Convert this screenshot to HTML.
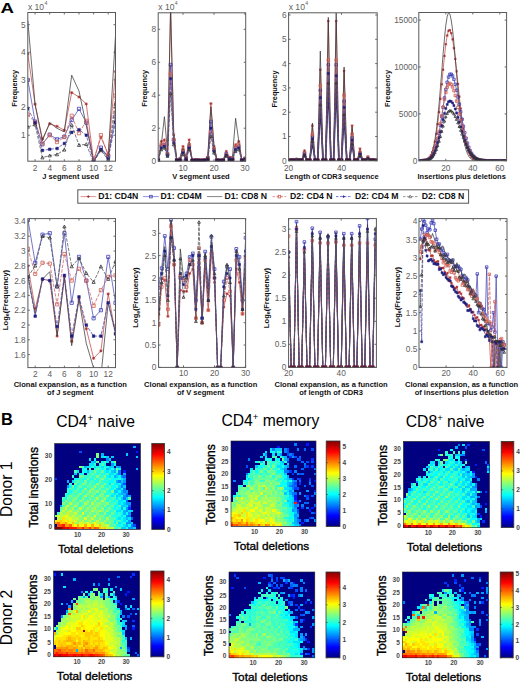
<!DOCTYPE html>
<html><head><meta charset="utf-8"><style>html,body{margin:0;padding:0;background:#fff;width:520px;height:683px;overflow:hidden}svg{display:block;font-family:"Liberation Sans",sans-serif}</style></head><body>
<svg width="520" height="683" viewBox="0 0 520 683">
<text transform="translate(0.6 12.9) scale(1.13 0.93)" font-size="16.5" font-weight="bold" fill="#000">A</text>
<clipPath id="c1"><rect x="27.8" y="12" width="87.7" height="149.2"/></clipPath>
<g clip-path="url(#c1)">
<polyline points="27.8,53.9 35.1,104.2 42.4,138.8 49.7,123.8 57,126.3 64.3,130.2 71.7,92.6 79,97 86.3,104 93.6,160.6 100.9,137.1 108.2,154 115.5,71.6" fill="none" stroke="#c04848" stroke-width="0.75"/>
<path d="M26.2 53.9h3.2M27.8 52.3v3.2M26.7 52.8l2.2 2.2M26.7 55.1l2.2 -2.2M33.5 104.2h3.2M35.1 102.6v3.2M34 103.1l2.2 2.2M34 105.3l2.2 -2.2M40.8 138.8h3.2M42.4 137.2v3.2M41.3 137.6l2.2 2.2M41.3 139.9l2.2 -2.2M48.1 123.8h3.2M49.7 122.2v3.2M48.6 122.7l2.2 2.2M48.6 125l2.2 -2.2M55.4 126.3h3.2M57 124.7v3.2M55.9 125.2l2.2 2.2M55.9 127.5l2.2 -2.2M62.7 130.2h3.2M64.3 128.6v3.2M63.2 129.1l2.2 2.2M63.2 131.3l2.2 -2.2M70.1 92.6h3.2M71.7 91v3.2M70.5 91.5l2.2 2.2M70.5 93.7l2.2 -2.2M77.4 97h3.2M79 95.4v3.2M77.8 95.9l2.2 2.2M77.8 98.2l2.2 -2.2M84.7 104h3.2M86.3 102.4v3.2M85.1 102.8l2.2 2.2M85.1 105.1l2.2 -2.2M92 160.6h3.2M93.6 159v3.2M92.5 159.5l2.2 2.2M92.5 161.7l2.2 -2.2M99.3 137.1h3.2M100.9 135.5v3.2M99.8 136l2.2 2.2M99.8 138.2l2.2 -2.2M106.6 154h3.2M108.2 152.4v3.2M107.1 152.8l2.2 2.2M107.1 155.1l2.2 -2.2M113.9 71.6h3.2M115.5 70v3.2M114.4 70.5l2.2 2.2M114.4 72.7l2.2 -2.2" fill="none" stroke="#b03030" stroke-width="0.8"/>
<polyline points="27.8,79.9 35.1,121.6 42.4,144.3 49.7,134.6 57,139.3 64.3,136.6 71.7,120 79,108.9 86.3,122.7 93.6,161.4 100.9,147.6 108.2,156.7 115.5,116.4" fill="none" stroke="#4848b8" stroke-width="0.75"/>
<path d="M26.2 78.3h3.2v3.2h-3.2zM33.5 120h3.2v3.2h-3.2zM40.8 142.7h3.2v3.2h-3.2zM48.1 133h3.2v3.2h-3.2zM55.4 137.7h3.2v3.2h-3.2zM62.7 135h3.2v3.2h-3.2zM70.1 118.4h3.2v3.2h-3.2zM77.4 107.3h3.2v3.2h-3.2zM84.7 121.1h3.2v3.2h-3.2zM92 159.8h3.2v3.2h-3.2zM99.3 146h3.2v3.2h-3.2zM106.6 155.1h3.2v3.2h-3.2zM113.9 114.8h3.2v3.2h-3.2z" fill="none" stroke="#4040b8" stroke-width="0.8"/>
<polyline points="27.8,20.5 35.1,104.8 42.4,140.7 49.7,122.7 57,128.3 64.3,131.9 71.7,75.2 79,91 86.3,125.5 93.6,161.4 100.9,149 108.2,156.7 115.5,35.7" fill="none" stroke="#3a3a3a" stroke-width="0.75"/>
<polyline points="27.8,114.5 35.1,122.7 42.4,143.5 49.7,135.2 57,142.1 64.3,137.1 71.7,115.8 79,133.2 86.3,120.8 93.6,161.1 100.9,135.2 108.2,155.3 115.5,95.7" fill="none" stroke="#c86060" stroke-width="0.75" stroke-dasharray="3.5,1.3"/>
<path d="M26.2 112.9h3.2v3.2h-3.2zM33.5 121.1h3.2v3.2h-3.2zM40.8 141.9h3.2v3.2h-3.2zM48.1 133.6h3.2v3.2h-3.2zM55.4 140.5h3.2v3.2h-3.2zM62.7 135.5h3.2v3.2h-3.2zM70.1 114.2h3.2v3.2h-3.2zM77.4 131.6h3.2v3.2h-3.2zM84.7 119.2h3.2v3.2h-3.2zM92 159.5h3.2v3.2h-3.2zM99.3 133.6h3.2v3.2h-3.2zM106.6 153.7h3.2v3.2h-3.2zM113.9 94.1h3.2v3.2h-3.2z" fill="none" stroke="#d06050" stroke-width="0.8"/>
<polyline points="27.8,108.4 35.1,122.7 42.4,150.4 49.7,149.3 57,148.4 64.3,143.5 71.7,132.4 79,129.6 86.3,135.2 93.6,161.7 100.9,149.5 108.2,158.7 115.5,122.2" fill="none" stroke="#4a4aa8" stroke-width="0.75" stroke-dasharray="3.5,1.3"/>
<path d="M26.5 107.1h2.6v2.6h-2.6zM33.8 121.5h2.6v2.6h-2.6zM41.1 149.1h2.6v2.6h-2.6zM48.4 148h2.6v2.6h-2.6zM55.8 147.2h2.6v2.6h-2.6zM63.1 142.2h2.6v2.6h-2.6zM70.4 131.1h2.6v2.6h-2.6zM77.7 128.4h2.6v2.6h-2.6zM85 133.9h2.6v2.6h-2.6zM92.3 160.4h2.6v2.6h-2.6zM99.6 148.3h2.6v2.6h-2.6zM106.9 157.4h2.6v2.6h-2.6zM114.2 120.9h2.6v2.6h-2.6z" fill="#202080" stroke="#202080" stroke-width="0.5"/>
<polyline points="27.8,126.9 35.1,124.7 42.4,157.6 49.7,155.6 57,154.5 64.3,149.8 71.7,125 79,145.1 86.3,144.3 93.6,162.2 100.9,150.4 108.2,160 115.5,104" fill="none" stroke="#505050" stroke-width="0.75" stroke-dasharray="3.5,1.3"/>
<path d="M27.8 125.3l1.6 2.9h-3.2zM35.1 123.1l1.6 2.9h-3.2zM42.4 156l1.6 2.9h-3.2zM49.7 154l1.6 2.9h-3.2zM57 152.9l1.6 2.9h-3.2zM64.3 148.2l1.6 2.9h-3.2zM71.7 123.4l1.6 2.9h-3.2zM79 143.5l1.6 2.9h-3.2zM86.3 142.7l1.6 2.9h-3.2zM100.9 148.8l1.6 2.9h-3.2zM108.2 158.4l1.6 2.9h-3.2zM115.5 102.4l1.6 2.9h-3.2z" fill="none" stroke="#333" stroke-width="0.8"/>
</g>
<path d="M35.1 161.2v-2.0M35.1 12.5v2.0M49.7 161.2v-2.0M49.7 12.5v2.0M64.3 161.2v-2.0M64.3 12.5v2.0M79 161.2v-2.0M79 12.5v2.0M93.6 161.2v-2.0M93.6 12.5v2.0M108.2 161.2v-2.0M108.2 12.5v2.0M27.8 135.2h2.0M115.5 135.2h-2.0M27.8 107.5h2.0M115.5 107.5h-2.0M27.8 79.9h2.0M115.5 79.9h-2.0M27.8 52.3h2.0M115.5 52.3h-2.0M27.8 24.7h2.0M115.5 24.7h-2.0" stroke="#5a5a5a" stroke-width="0.9" fill="none"/>
<rect x="27.8" y="12.5" width="87.7" height="148.7" fill="none" stroke="#5a5a5a" stroke-width="1"/>
<text x="35.1" y="171.1" font-size="8.3" text-anchor="middle" fill="#606060">2</text>
<text x="49.7" y="171.1" font-size="8.3" text-anchor="middle" fill="#606060">4</text>
<text x="64.3" y="171.1" font-size="8.3" text-anchor="middle" fill="#606060">6</text>
<text x="79" y="171.1" font-size="8.3" text-anchor="middle" fill="#606060">8</text>
<text x="93.6" y="171.1" font-size="8.3" text-anchor="middle" fill="#606060">10</text>
<text x="108.2" y="171.1" font-size="8.3" text-anchor="middle" fill="#606060">12</text>
<text x="25.6" y="138.1" font-size="8.3" text-anchor="end" fill="#606060">1</text>
<text x="25.6" y="110.4" font-size="8.3" text-anchor="end" fill="#606060">2</text>
<text x="25.6" y="82.8" font-size="8.3" text-anchor="end" fill="#606060">3</text>
<text x="25.6" y="55.2" font-size="8.3" text-anchor="end" fill="#606060">4</text>
<text x="25.6" y="27.6" font-size="8.3" text-anchor="end" fill="#606060">5</text>
<text x="27.9" y="10.4" font-size="8.6" fill="#606060">x 10</text>
<text x="44.4" y="5.3" font-size="5.2" fill="#606060">4</text>
<text x="16.9" y="88.3" font-size="7.3" text-anchor="middle" font-weight="bold" fill="#111" transform="rotate(-90 16.9 88.3)">Frequency</text>
<text x="70.7" y="179.2" font-size="7.5" text-anchor="middle" font-weight="bold" fill="#111">J segment used</text>
<clipPath id="c2"><rect x="158.2" y="12.3" width="87.5" height="148.9"/></clipPath>
<g clip-path="url(#c2)">
<polyline points="158.2,159.6 161.3,141.4 164.4,139.8 167.5,153 170.6,7.9 173.7,134.8 176.8,159.6 179.9,158.7 183,146.4 186.1,157.1 189.2,139.8 192.3,160.4 195.4,159.6 198.5,159.9 201.6,160.4 204.7,159.6 207.8,157.1 210.9,103.5 214,146.4 217,159.6 220.1,160.4 223.2,159.6 226.3,151.3 229.4,157.1 232.5,157.9 235.6,144.7 238.7,141.4 241.8,159.6 244.9,157.9" fill="none" stroke="#c04848" stroke-width="0.75"/>
<path d="M156.8 159.6h2.8M158.2 158.2v2.8M157.2 158.6l2 2M157.2 160.5l2 -2M159.9 141.4h2.8M161.3 140v2.8M160.3 140.4l2 2M160.3 142.4l2 -2M163 139.8h2.8M164.4 138.4v2.8M163.4 138.8l2 2M163.4 140.7l2 -2M166.1 153h2.8M167.5 151.6v2.8M166.5 152l2 2M166.5 153.9l2 -2M172.3 134.8h2.8M173.7 133.4v2.8M172.7 133.8l2 2M172.7 135.8l2 -2M175.4 159.6h2.8M176.8 158.2v2.8M175.8 158.6l2 2M175.8 160.5l2 -2M178.5 158.7h2.8M179.9 157.3v2.8M178.9 157.7l2 2M178.9 159.7l2 -2M181.6 146.4h2.8M183 145v2.8M182 145.4l2 2M182 147.3l2 -2M184.7 157.1h2.8M186.1 155.7v2.8M185.1 156.1l2 2M185.1 158.1l2 -2M187.8 139.8h2.8M189.2 138.4v2.8M188.2 138.8l2 2M188.2 140.7l2 -2M190.9 160.4h2.8M192.3 159v2.8M191.3 159.4l2 2M191.3 161.4l2 -2M194 159.6h2.8M195.4 158.2v2.8M194.4 158.6l2 2M194.4 160.5l2 -2M197.1 159.9h2.8M198.5 158.5v2.8M197.5 158.9l2 2M197.5 160.9l2 -2M200.2 160.4h2.8M201.6 159v2.8M200.6 159.4l2 2M200.6 161.4l2 -2M203.3 159.6h2.8M204.7 158.2v2.8M203.7 158.6l2 2M203.7 160.5l2 -2M206.4 157.1h2.8M207.8 155.7v2.8M206.8 156.1l2 2M206.8 158.1l2 -2M209.5 103.5h2.8M210.9 102.1v2.8M209.9 102.5l2 2M209.9 104.5l2 -2M212.6 146.4h2.8M214 145v2.8M213 145.4l2 2M213 147.3l2 -2M215.6 159.6h2.8M217 158.2v2.8M216.1 158.6l2 2M216.1 160.5l2 -2M218.7 160.4h2.8M220.1 159v2.8M219.2 159.4l2 2M219.2 161.4l2 -2M221.8 159.6h2.8M223.2 158.2v2.8M222.3 158.6l2 2M222.3 160.5l2 -2M224.9 151.3h2.8M226.3 149.9v2.8M225.4 150.3l2 2M225.4 152.3l2 -2M228 157.1h2.8M229.4 155.7v2.8M228.5 156.1l2 2M228.5 158.1l2 -2M231.1 157.9h2.8M232.5 156.5v2.8M231.6 156.9l2 2M231.6 158.9l2 -2M234.2 144.7h2.8M235.6 143.3v2.8M234.7 143.7l2 2M234.7 145.7l2 -2M237.3 141.4h2.8M238.7 140v2.8M237.8 140.4l2 2M237.8 142.4l2 -2M240.4 159.6h2.8M241.8 158.2v2.8M240.8 158.6l2 2M240.8 160.5l2 -2M243.5 157.9h2.8M244.9 156.5v2.8M243.9 156.9l2 2M243.9 158.9l2 -2" fill="none" stroke="#b03030" stroke-width="0.8"/>
<polyline points="158.2,159.9 161.3,146.4 164.4,144.7 167.5,154.6 170.6,64.7 173.7,139.8 176.8,159.9 179.9,159.6 183,151.3 186.1,157.9 189.2,146.4 192.3,160.4 195.4,159.9 198.5,160.2 201.6,160.4 204.7,159.9 207.8,157.9 210.9,121.6 214,149.7 217,159.9 220.1,160.4 223.2,159.9 226.3,153.8 229.4,157.9 232.5,158.7 235.6,148 238.7,146.4 241.8,159.9 244.9,158.7" fill="none" stroke="#4848b8" stroke-width="0.75"/>
<path d="M156.8 158.5h2.8v2.8h-2.8zM159.9 145h2.8v2.8h-2.8zM163 143.3h2.8v2.8h-2.8zM166.1 153.2h2.8v2.8h-2.8zM169.2 63.3h2.8v2.8h-2.8zM172.3 138.4h2.8v2.8h-2.8zM175.4 158.5h2.8v2.8h-2.8zM178.5 158.2h2.8v2.8h-2.8zM181.6 149.9h2.8v2.8h-2.8zM184.7 156.5h2.8v2.8h-2.8zM187.8 145h2.8v2.8h-2.8zM190.9 159h2.8v2.8h-2.8zM194 158.5h2.8v2.8h-2.8zM197.1 158.8h2.8v2.8h-2.8zM200.2 159h2.8v2.8h-2.8zM203.3 158.5h2.8v2.8h-2.8zM206.4 156.5h2.8v2.8h-2.8zM209.5 120.2h2.8v2.8h-2.8zM212.6 148.3h2.8v2.8h-2.8zM215.6 158.5h2.8v2.8h-2.8zM218.7 159h2.8v2.8h-2.8zM221.8 158.5h2.8v2.8h-2.8zM224.9 152.4h2.8v2.8h-2.8zM228 156.5h2.8v2.8h-2.8zM231.1 157.3h2.8v2.8h-2.8zM234.2 146.6h2.8v2.8h-2.8zM237.3 145h2.8v2.8h-2.8zM240.4 158.5h2.8v2.8h-2.8zM243.5 157.3h2.8v2.8h-2.8z" fill="none" stroke="#4040b8" stroke-width="0.8"/>
<polyline points="158.2,160.4 161.3,144.7 164.4,116.7 167.5,151.3 170.6,7.9 173.7,131.5 176.8,159.6 179.9,157.9 183,148 186.1,157.9 189.2,142.2 192.3,160.4 195.4,159.6 198.5,159.6 201.6,160.4 204.7,159.6 207.8,156.3 210.9,106.8 214,145.5 217,159.6 220.1,160.4 223.2,159.6 226.3,153 229.4,157.9 232.5,156.3 235.6,118.3 238.7,140.6 241.8,159.6 244.9,157.9" fill="none" stroke="#3a3a3a" stroke-width="0.75"/>
<polyline points="158.2,159.9 161.3,144.7 164.4,143.1 167.5,153.8 170.6,73.8 173.7,139.8 176.8,159.9 179.9,159.6 183,149.7 186.1,157.9 189.2,144.7 192.3,160.4 195.4,159.9 198.5,160.2 201.6,160.4 204.7,159.9 207.8,157.9 210.9,131.5 214,148.8 217,159.9 220.1,160.4 223.2,159.9 226.3,154.6 229.4,157.9 232.5,158.7 235.6,146.4 238.7,144.7 241.8,159.9 244.9,158.7" fill="none" stroke="#c86060" stroke-width="0.75" stroke-dasharray="3.5,1.3"/>
<path d="M156.8 158.5h2.8v2.8h-2.8zM159.9 143.3h2.8v2.8h-2.8zM163 141.7h2.8v2.8h-2.8zM166.1 152.4h2.8v2.8h-2.8zM169.2 72.4h2.8v2.8h-2.8zM172.3 138.4h2.8v2.8h-2.8zM175.4 158.5h2.8v2.8h-2.8zM178.5 158.2h2.8v2.8h-2.8zM181.6 148.3h2.8v2.8h-2.8zM184.7 156.5h2.8v2.8h-2.8zM187.8 143.3h2.8v2.8h-2.8zM190.9 159h2.8v2.8h-2.8zM194 158.5h2.8v2.8h-2.8zM197.1 158.8h2.8v2.8h-2.8zM200.2 159h2.8v2.8h-2.8zM203.3 158.5h2.8v2.8h-2.8zM206.4 156.5h2.8v2.8h-2.8zM209.5 130.1h2.8v2.8h-2.8zM212.6 147.4h2.8v2.8h-2.8zM215.6 158.5h2.8v2.8h-2.8zM218.7 159h2.8v2.8h-2.8zM221.8 158.5h2.8v2.8h-2.8zM224.9 153.2h2.8v2.8h-2.8zM228 156.5h2.8v2.8h-2.8zM231.1 157.3h2.8v2.8h-2.8zM234.2 145h2.8v2.8h-2.8zM237.3 143.3h2.8v2.8h-2.8zM240.4 158.5h2.8v2.8h-2.8zM243.5 157.3h2.8v2.8h-2.8z" fill="none" stroke="#d06050" stroke-width="0.8"/>
<polyline points="158.2,160.2 161.3,148 164.4,146.4 167.5,155.4 170.6,78.8 173.7,143.1 176.8,160.2 179.9,159.9 183,153 186.1,158.7 189.2,148 192.3,160.5 195.4,160.2 198.5,160.4 201.6,160.5 204.7,160.2 207.8,158.7 210.9,128.2 214,151.3 217,160.2 220.1,160.5 223.2,160.2 226.3,155.4 229.4,158.7 232.5,159.2 235.6,149.7 238.7,148 241.8,160.2 244.9,159.2" fill="none" stroke="#4a4aa8" stroke-width="0.75" stroke-dasharray="3.5,1.3"/>
<path d="M157.1 159.1h2.2v2.2h-2.2zM160.2 146.9h2.2v2.2h-2.2zM163.3 145.2h2.2v2.2h-2.2zM166.4 154.3h2.2v2.2h-2.2zM169.5 77.6h2.2v2.2h-2.2zM172.6 141.9h2.2v2.2h-2.2zM175.7 159.1h2.2v2.2h-2.2zM178.8 158.8h2.2v2.2h-2.2zM181.9 151.8h2.2v2.2h-2.2zM185 157.6h2.2v2.2h-2.2zM188.1 146.9h2.2v2.2h-2.2zM191.2 159.4h2.2v2.2h-2.2zM194.2 159.1h2.2v2.2h-2.2zM197.3 159.3h2.2v2.2h-2.2zM200.4 159.4h2.2v2.2h-2.2zM203.5 159.1h2.2v2.2h-2.2zM206.6 157.6h2.2v2.2h-2.2zM209.7 127.1h2.2v2.2h-2.2zM212.8 150.2h2.2v2.2h-2.2zM215.9 159.1h2.2v2.2h-2.2zM219 159.4h2.2v2.2h-2.2zM222.1 159.1h2.2v2.2h-2.2zM225.2 154.3h2.2v2.2h-2.2zM228.3 157.6h2.2v2.2h-2.2zM231.4 158.1h2.2v2.2h-2.2zM234.5 148.5h2.2v2.2h-2.2zM237.6 146.9h2.2v2.2h-2.2zM240.7 159.1h2.2v2.2h-2.2zM243.8 158.1h2.2v2.2h-2.2z" fill="#202080" stroke="#202080" stroke-width="0.5"/>
<polyline points="158.2,160.4 161.3,149.7 164.4,148 167.5,156.3 170.6,93.6 173.7,144.7 176.8,160.4 179.9,160 183,154.6 186.1,159.2 189.2,149.7 192.3,160.7 195.4,160.4 198.5,160.5 201.6,160.7 204.7,160.4 207.8,159.2 210.9,136.5 214,153 217,160.4 220.1,160.7 223.2,160.4 226.3,156.3 229.4,159.2 232.5,159.6 235.6,151.3 238.7,149.7 241.8,160.4 244.9,159.6" fill="none" stroke="#505050" stroke-width="0.75" stroke-dasharray="3.5,1.3"/>
<path d="M158.2 159l1.4 2.5h-2.8zM161.3 148.3l1.4 2.5h-2.8zM164.4 146.6l1.4 2.5h-2.8zM167.5 154.9l1.4 2.5h-2.8zM170.6 92.2l1.4 2.5h-2.8zM173.7 143.3l1.4 2.5h-2.8zM176.8 159l1.4 2.5h-2.8zM179.9 158.6l1.4 2.5h-2.8zM183 153.2l1.4 2.5h-2.8zM186.1 157.8l1.4 2.5h-2.8zM189.2 148.3l1.4 2.5h-2.8zM192.3 159.3l1.4 2.5h-2.8zM195.4 159l1.4 2.5h-2.8zM198.5 159.1l1.4 2.5h-2.8zM201.6 159.3l1.4 2.5h-2.8zM204.7 159l1.4 2.5h-2.8zM207.8 157.8l1.4 2.5h-2.8zM210.9 135.1l1.4 2.5h-2.8zM214 151.6l1.4 2.5h-2.8zM217 159l1.4 2.5h-2.8zM220.1 159.3l1.4 2.5h-2.8zM223.2 159l1.4 2.5h-2.8zM226.3 154.9l1.4 2.5h-2.8zM229.4 157.8l1.4 2.5h-2.8zM232.5 158.2l1.4 2.5h-2.8zM235.6 149.9l1.4 2.5h-2.8zM238.7 148.3l1.4 2.5h-2.8zM241.8 159l1.4 2.5h-2.8zM244.9 158.2l1.4 2.5h-2.8z" fill="none" stroke="#333" stroke-width="0.8"/>
<path d="M156.5 158.8h3.4v2.8h-3.4zM175.1 158.8h3.4v2.8h-3.4zM178.2 158.8h3.4v2.8h-3.4zM184.4 158.8h3.4v2.8h-3.4zM190.6 158.8h3.4v2.8h-3.4zM193.7 158.8h3.4v2.8h-3.4zM196.8 158.8h3.4v2.8h-3.4zM199.9 158.8h3.4v2.8h-3.4zM203 158.8h3.4v2.8h-3.4zM206.1 158.8h3.4v2.8h-3.4zM215.3 158.8h3.4v2.8h-3.4zM218.4 158.8h3.4v2.8h-3.4zM221.5 158.8h3.4v2.8h-3.4zM227.7 158.8h3.4v2.8h-3.4zM230.8 158.8h3.4v2.8h-3.4zM240.1 158.8h3.4v2.8h-3.4zM243.2 158.8h3.4v2.8h-3.4z" fill="#2a1840"/>
</g>
<path d="M183 161.2v-2.0M183 12.8v2.0M214 161.2v-2.0M214 12.8v2.0M244.9 161.2v-2.0M244.9 12.8v2.0M158.2 161.2h2.0M245.7 161.2h-2.0M158.2 128.2h2.0M245.7 128.2h-2.0M158.2 95.2h2.0M245.7 95.2h-2.0M158.2 62.3h2.0M245.7 62.3h-2.0M158.2 29.3h2.0M245.7 29.3h-2.0" stroke="#5a5a5a" stroke-width="0.9" fill="none"/>
<rect x="158.2" y="12.8" width="87.5" height="148.4" fill="none" stroke="#5a5a5a" stroke-width="1"/>
<text x="183" y="171.1" font-size="8.3" text-anchor="middle" fill="#606060">10</text>
<text x="214" y="171.1" font-size="8.3" text-anchor="middle" fill="#606060">20</text>
<text x="244.9" y="171.1" font-size="8.3" text-anchor="middle" fill="#606060">30</text>
<text x="156" y="164.1" font-size="8.3" text-anchor="end" fill="#606060">0</text>
<text x="156" y="131.1" font-size="8.3" text-anchor="end" fill="#606060">2</text>
<text x="156" y="98.1" font-size="8.3" text-anchor="end" fill="#606060">4</text>
<text x="156" y="65.2" font-size="8.3" text-anchor="end" fill="#606060">6</text>
<text x="156" y="32.2" font-size="8.3" text-anchor="end" fill="#606060">8</text>
<text x="158.3" y="10.4" font-size="8.6" fill="#606060">x 10</text>
<text x="174.8" y="5.3" font-size="5.2" fill="#606060">4</text>
<text x="146.6" y="88.3" font-size="7.3" text-anchor="middle" font-weight="bold" fill="#111" transform="rotate(-90 146.6 88.3)">Frequency</text>
<text x="200.9" y="179.2" font-size="7.5" text-anchor="middle" font-weight="bold" fill="#111">V segment used</text>
<clipPath id="c3"><rect x="288.6" y="12.3" width="88.6" height="148.5"/></clipPath>
<g clip-path="url(#c3)">
<polyline points="288.6,160.1 291.2,160.1 293.9,160.1 296.5,159.8 299.2,160.1 301.8,160.1 304.5,155.5 307.1,160.1 309.8,160.1 312.4,141.4 315,160.1 317.7,160.1 320.3,104.9 323,160.1 325.6,160.1 328.3,83 330.9,160.1 333.6,160.1 336.2,83 338.9,160.1 341.5,160.1 344.1,114.6 346.8,160.1 349.4,160.1 352.1,143.8 354.7,160.1 357.4,160.1 360,155.5 362.7,160.1 365.3,160.1 367.9,159.1 370.6,160.1 373.2,160.1 375.9,160.3" fill="none" stroke="#2c2068" stroke-width="1.7"/>
<polyline points="288.6,160.3 291.2,160.1 293.9,160.1 296.5,159.1 299.2,160.1 301.8,160.1 304.5,150.6 307.1,160.1 309.8,160.1 312.4,125.6 315,160.1 317.7,160.1 320.3,69.7 323,160.1 325.6,160.1 328.3,21.1 330.9,160.1 333.6,160.1 336.2,21.1 338.9,160.1 341.5,160.1 344.1,70.9 346.8,160.1 349.4,160.1 352.1,125.6 354.7,160.1 357.4,160.1 360,148.6 362.7,160.1 365.3,160.1 367.9,156.4 370.6,160.1 373.2,160.1 375.9,159.6" fill="none" stroke="#c04848" stroke-width="0.75"/>
<path d="M287.3 160.3h2.6M288.6 159v2.6M287.7 159.4l1.8 1.8M287.7 161.2l1.8 -1.8M289.9 160.1h2.6M291.2 158.8v2.6M290.3 159.2l1.8 1.8M290.3 161l1.8 -1.8M292.6 160.1h2.6M293.9 158.8v2.6M293 159.2l1.8 1.8M293 161l1.8 -1.8M295.2 159.1h2.6M296.5 157.8v2.6M295.6 158.2l1.8 1.8M295.6 160l1.8 -1.8M297.9 160.1h2.6M299.2 158.8v2.6M298.3 159.2l1.8 1.8M298.3 161l1.8 -1.8M300.5 160.1h2.6M301.8 158.8v2.6M300.9 159.2l1.8 1.8M300.9 161l1.8 -1.8M303.2 150.6h2.6M304.5 149.3v2.6M303.6 149.7l1.8 1.8M303.6 151.5l1.8 -1.8M305.8 160.1h2.6M307.1 158.8v2.6M306.2 159.2l1.8 1.8M306.2 161l1.8 -1.8M308.5 160.1h2.6M309.8 158.8v2.6M308.8 159.2l1.8 1.8M308.8 161l1.8 -1.8M311.1 125.6h2.6M312.4 124.3v2.6M311.5 124.7l1.8 1.8M311.5 126.5l1.8 -1.8M313.7 160.1h2.6M315 158.8v2.6M314.1 159.2l1.8 1.8M314.1 161l1.8 -1.8M316.4 160.1h2.6M317.7 158.8v2.6M316.8 159.2l1.8 1.8M316.8 161l1.8 -1.8M319 69.7h2.6M320.3 68.4v2.6M319.4 68.8l1.8 1.8M319.4 70.6l1.8 -1.8M321.7 160.1h2.6M323 158.8v2.6M322.1 159.2l1.8 1.8M322.1 161l1.8 -1.8M324.3 160.1h2.6M325.6 158.8v2.6M324.7 159.2l1.8 1.8M324.7 161l1.8 -1.8M327 21.1h2.6M328.3 19.8v2.6M327.4 20.2l1.8 1.8M327.4 22l1.8 -1.8M329.6 160.1h2.6M330.9 158.8v2.6M330 159.2l1.8 1.8M330 161l1.8 -1.8M332.3 160.1h2.6M333.6 158.8v2.6M332.7 159.2l1.8 1.8M332.7 161l1.8 -1.8M334.9 21.1h2.6M336.2 19.8v2.6M335.3 20.2l1.8 1.8M335.3 22l1.8 -1.8M337.6 160.1h2.6M338.9 158.8v2.6M337.9 159.2l1.8 1.8M337.9 161l1.8 -1.8M340.2 160.1h2.6M341.5 158.8v2.6M340.6 159.2l1.8 1.8M340.6 161l1.8 -1.8M342.8 70.9h2.6M344.1 69.6v2.6M343.2 70l1.8 1.8M343.2 71.8l1.8 -1.8M345.5 160.1h2.6M346.8 158.8v2.6M345.9 159.2l1.8 1.8M345.9 161l1.8 -1.8M348.1 160.1h2.6M349.4 158.8v2.6M348.5 159.2l1.8 1.8M348.5 161l1.8 -1.8M350.8 125.6h2.6M352.1 124.3v2.6M351.2 124.7l1.8 1.8M351.2 126.5l1.8 -1.8M353.4 160.1h2.6M354.7 158.8v2.6M353.8 159.2l1.8 1.8M353.8 161l1.8 -1.8M356.1 160.1h2.6M357.4 158.8v2.6M356.5 159.2l1.8 1.8M356.5 161l1.8 -1.8M358.7 148.6h2.6M360 147.3v2.6M359.1 147.7l1.8 1.8M359.1 149.6l1.8 -1.8M361.4 160.1h2.6M362.7 158.8v2.6M361.7 159.2l1.8 1.8M361.7 161l1.8 -1.8M364 160.1h2.6M365.3 158.8v2.6M364.4 159.2l1.8 1.8M364.4 161l1.8 -1.8M366.6 156.4h2.6M367.9 155.1v2.6M367 155.5l1.8 1.8M367 157.3l1.8 -1.8M369.3 160.1h2.6M370.6 158.8v2.6M369.7 159.2l1.8 1.8M369.7 161l1.8 -1.8M371.9 160.1h2.6M373.2 158.8v2.6M372.3 159.2l1.8 1.8M372.3 161l1.8 -1.8M374.6 159.6h2.6M375.9 158.3v2.6M375 158.7l1.8 1.8M375 160.5l1.8 -1.8" fill="none" stroke="#b03030" stroke-width="0.8"/>
<polyline points="288.6,160.6 291.2,160.1 293.9,160.1 296.5,159.6 299.2,160.1 301.8,160.1 304.5,153.5 307.1,160.1 309.8,160.1 312.4,136.5 315,160.1 317.7,160.1 320.3,90.3 323,160.1 325.6,160.1 328.3,64.8 330.9,160.1 333.6,160.1 336.2,64.8 338.9,160.1 341.5,160.1 344.1,101.3 346.8,160.1 349.4,160.1 352.1,137.7 354.7,160.1 357.4,160.1 360,153.5 362.7,160.1 365.3,160.1 367.9,158.4 370.6,160.1 373.2,160.1 375.9,160.1" fill="none" stroke="#4848b8" stroke-width="0.75"/>
<path d="M287.3 159.3h2.6v2.6h-2.6zM289.9 158.8h2.6v2.6h-2.6zM292.6 158.8h2.6v2.6h-2.6zM295.2 158.3h2.6v2.6h-2.6zM297.9 158.8h2.6v2.6h-2.6zM300.5 158.8h2.6v2.6h-2.6zM303.2 152.2h2.6v2.6h-2.6zM305.8 158.8h2.6v2.6h-2.6zM308.5 158.8h2.6v2.6h-2.6zM311.1 135.2h2.6v2.6h-2.6zM313.7 158.8h2.6v2.6h-2.6zM316.4 158.8h2.6v2.6h-2.6zM319 89h2.6v2.6h-2.6zM321.7 158.8h2.6v2.6h-2.6zM324.3 158.8h2.6v2.6h-2.6zM327 63.5h2.6v2.6h-2.6zM329.6 158.8h2.6v2.6h-2.6zM332.3 158.8h2.6v2.6h-2.6zM334.9 63.5h2.6v2.6h-2.6zM337.6 158.8h2.6v2.6h-2.6zM340.2 158.8h2.6v2.6h-2.6zM342.8 100h2.6v2.6h-2.6zM345.5 158.8h2.6v2.6h-2.6zM348.1 158.8h2.6v2.6h-2.6zM350.8 136.4h2.6v2.6h-2.6zM353.4 158.8h2.6v2.6h-2.6zM356.1 158.8h2.6v2.6h-2.6zM358.7 152.2h2.6v2.6h-2.6zM361.4 158.8h2.6v2.6h-2.6zM364 158.8h2.6v2.6h-2.6zM366.6 157.1h2.6v2.6h-2.6zM369.3 158.8h2.6v2.6h-2.6zM371.9 158.8h2.6v2.6h-2.6zM374.6 158.8h2.6v2.6h-2.6z" fill="none" stroke="#4040b8" stroke-width="0.8"/>
<polyline points="288.6,160.3 291.2,160.1 293.9,160.1 296.5,158.9 299.2,160.1 301.8,160.1 304.5,149.9 307.1,160.1 309.8,160.1 312.4,123.1 315,160.1 317.7,160.1 320.3,51 323,160.1 325.6,160.1 328.3,17.4 330.9,160.1 333.6,160.1 336.2,13 338.9,160.1 341.5,160.1 344.1,67 346.8,160.1 349.4,160.1 352.1,126.8 354.7,160.1 357.4,160.1 360,149.9 362.7,160.1 365.3,160.1 367.9,157.2 370.6,160.1 373.2,160.1 375.9,159.6" fill="none" stroke="#3a3a3a" stroke-width="0.75"/>
<polyline points="288.6,160.6 291.2,160.1 293.9,160.1 296.5,159.6 299.2,160.1 301.8,160.1 304.5,152.3 307.1,160.1 309.8,160.1 312.4,134.1 315,160.1 317.7,160.1 320.3,85.5 323,160.1 325.6,160.1 328.3,59.9 330.9,160.1 333.6,160.1 336.2,59.9 338.9,160.1 341.5,160.1 344.1,95.2 346.8,160.1 349.4,160.1 352.1,134.1 354.7,160.1 357.4,160.1 360,152.3 362.7,160.1 365.3,160.1 367.9,157.9 370.6,160.1 373.2,160.1 375.9,159.8" fill="none" stroke="#c86060" stroke-width="0.75" stroke-dasharray="3.5,1.3"/>
<path d="M287.3 159.3h2.6v2.6h-2.6zM289.9 158.8h2.6v2.6h-2.6zM292.6 158.8h2.6v2.6h-2.6zM295.2 158.3h2.6v2.6h-2.6zM297.9 158.8h2.6v2.6h-2.6zM300.5 158.8h2.6v2.6h-2.6zM303.2 151h2.6v2.6h-2.6zM305.8 158.8h2.6v2.6h-2.6zM308.5 158.8h2.6v2.6h-2.6zM311.1 132.8h2.6v2.6h-2.6zM313.7 158.8h2.6v2.6h-2.6zM316.4 158.8h2.6v2.6h-2.6zM319 84.2h2.6v2.6h-2.6zM321.7 158.8h2.6v2.6h-2.6zM324.3 158.8h2.6v2.6h-2.6zM327 58.6h2.6v2.6h-2.6zM329.6 158.8h2.6v2.6h-2.6zM332.3 158.8h2.6v2.6h-2.6zM334.9 58.6h2.6v2.6h-2.6zM337.6 158.8h2.6v2.6h-2.6zM340.2 158.8h2.6v2.6h-2.6zM342.8 93.9h2.6v2.6h-2.6zM345.5 158.8h2.6v2.6h-2.6zM348.1 158.8h2.6v2.6h-2.6zM350.8 132.8h2.6v2.6h-2.6zM353.4 158.8h2.6v2.6h-2.6zM356.1 158.8h2.6v2.6h-2.6zM358.7 151h2.6v2.6h-2.6zM361.4 158.8h2.6v2.6h-2.6zM364 158.8h2.6v2.6h-2.6zM366.6 156.6h2.6v2.6h-2.6zM369.3 158.8h2.6v2.6h-2.6zM371.9 158.8h2.6v2.6h-2.6zM374.6 158.5h2.6v2.6h-2.6z" fill="none" stroke="#d06050" stroke-width="0.8"/>
<polyline points="288.6,160.6 291.2,160.1 293.9,160.1 296.5,159.8 299.2,160.1 301.8,160.1 304.5,154.7 307.1,160.1 309.8,160.1 312.4,138.9 315,160.1 317.7,160.1 320.3,97.6 323,160.1 325.6,160.1 328.3,73.3 330.9,160.1 333.6,160.1 336.2,75.7 338.9,160.1 341.5,160.1 344.1,107.3 346.8,160.1 349.4,160.1 352.1,140.1 354.7,160.1 357.4,160.1 360,154 362.7,160.1 365.3,160.1 367.9,158.6 370.6,160.1 373.2,160.1 375.9,160.1" fill="none" stroke="#4a4aa8" stroke-width="0.75" stroke-dasharray="3.5,1.3"/>
<path d="M287.6 159.5h2.1v2.1h-2.1zM290.2 159h2.1v2.1h-2.1zM292.8 159h2.1v2.1h-2.1zM295.5 158.8h2.1v2.1h-2.1zM298.1 159h2.1v2.1h-2.1zM300.8 159h2.1v2.1h-2.1zM303.4 153.7h2.1v2.1h-2.1zM306.1 159h2.1v2.1h-2.1zM308.7 159h2.1v2.1h-2.1zM311.4 137.9h2.1v2.1h-2.1zM314 159h2.1v2.1h-2.1zM316.7 159h2.1v2.1h-2.1zM319.3 96.6h2.1v2.1h-2.1zM321.9 159h2.1v2.1h-2.1zM324.6 159h2.1v2.1h-2.1zM327.2 72.3h2.1v2.1h-2.1zM329.9 159h2.1v2.1h-2.1zM332.5 159h2.1v2.1h-2.1zM335.2 74.7h2.1v2.1h-2.1zM337.8 159h2.1v2.1h-2.1zM340.5 159h2.1v2.1h-2.1zM343.1 106.3h2.1v2.1h-2.1zM345.7 159h2.1v2.1h-2.1zM348.4 159h2.1v2.1h-2.1zM351 139.1h2.1v2.1h-2.1zM353.7 159h2.1v2.1h-2.1zM356.3 159h2.1v2.1h-2.1zM359 153h2.1v2.1h-2.1zM361.6 159h2.1v2.1h-2.1zM364.3 159h2.1v2.1h-2.1zM366.9 157.6h2.1v2.1h-2.1zM369.5 159h2.1v2.1h-2.1zM372.2 159h2.1v2.1h-2.1zM374.8 159h2.1v2.1h-2.1z" fill="#202080" stroke="#202080" stroke-width="0.5"/>
<polyline points="288.6,160.6 291.2,160.1 293.9,160.1 296.5,159.8 299.2,160.1 301.8,160.1 304.5,155.5 307.1,160.1 309.8,160.1 312.4,141.4 315,160.1 317.7,160.1 320.3,104.9 323,160.1 325.6,160.1 328.3,83 330.9,160.1 333.6,160.1 336.2,83 338.9,160.1 341.5,160.1 344.1,114.6 346.8,160.1 349.4,160.1 352.1,143.8 354.7,160.1 357.4,160.1 360,155.5 362.7,160.1 365.3,160.1 367.9,159.1 370.6,160.1 373.2,160.1 375.9,160.3" fill="none" stroke="#505050" stroke-width="0.75" stroke-dasharray="3.5,1.3"/>
<path d="M288.6 159.3l1.3 2.3h-2.6zM291.2 158.8l1.3 2.3h-2.6zM293.9 158.8l1.3 2.3h-2.6zM296.5 158.5l1.3 2.3h-2.6zM299.2 158.8l1.3 2.3h-2.6zM301.8 158.8l1.3 2.3h-2.6zM304.5 154.2l1.3 2.3h-2.6zM307.1 158.8l1.3 2.3h-2.6zM309.8 158.8l1.3 2.3h-2.6zM312.4 140.1l1.3 2.3h-2.6zM315 158.8l1.3 2.3h-2.6zM317.7 158.8l1.3 2.3h-2.6zM320.3 103.6l1.3 2.3h-2.6zM323 158.8l1.3 2.3h-2.6zM325.6 158.8l1.3 2.3h-2.6zM328.3 81.7l1.3 2.3h-2.6zM330.9 158.8l1.3 2.3h-2.6zM333.6 158.8l1.3 2.3h-2.6zM336.2 81.7l1.3 2.3h-2.6zM338.9 158.8l1.3 2.3h-2.6zM341.5 158.8l1.3 2.3h-2.6zM344.1 113.3l1.3 2.3h-2.6zM346.8 158.8l1.3 2.3h-2.6zM349.4 158.8l1.3 2.3h-2.6zM352.1 142.5l1.3 2.3h-2.6zM354.7 158.8l1.3 2.3h-2.6zM357.4 158.8l1.3 2.3h-2.6zM360 154.2l1.3 2.3h-2.6zM362.7 158.8l1.3 2.3h-2.6zM365.3 158.8l1.3 2.3h-2.6zM367.9 157.8l1.3 2.3h-2.6zM370.6 158.8l1.3 2.3h-2.6zM373.2 158.8l1.3 2.3h-2.6zM375.9 159l1.3 2.3h-2.6z" fill="none" stroke="#333" stroke-width="0.8"/>
<path d="M286.9 158.6h3.4v2.8h-3.4zM289.5 158.6h3.4v2.8h-3.4zM292.2 158.6h3.4v2.8h-3.4zM297.5 158.6h3.4v2.8h-3.4zM300.1 158.6h3.4v2.8h-3.4zM305.4 158.6h3.4v2.8h-3.4zM308.1 158.6h3.4v2.8h-3.4zM313.3 158.6h3.4v2.8h-3.4zM316 158.6h3.4v2.8h-3.4zM321.3 158.6h3.4v2.8h-3.4zM323.9 158.6h3.4v2.8h-3.4zM329.2 158.6h3.4v2.8h-3.4zM331.9 158.6h3.4v2.8h-3.4zM337.2 158.6h3.4v2.8h-3.4zM339.8 158.6h3.4v2.8h-3.4zM345.1 158.6h3.4v2.8h-3.4zM347.7 158.6h3.4v2.8h-3.4zM353 158.6h3.4v2.8h-3.4zM355.7 158.6h3.4v2.8h-3.4zM361 158.6h3.4v2.8h-3.4zM363.6 158.6h3.4v2.8h-3.4zM368.9 158.6h3.4v2.8h-3.4zM371.5 158.6h3.4v2.8h-3.4z" fill="#3a1838"/>
</g>
<path d="M288.6 160.8v-2.0M288.6 12.8v2.0M341.5 160.8v-2.0M341.5 12.8v2.0M288.6 160.8h2.0M377.2 160.8h-2.0M288.6 136.5h2.0M377.2 136.5h-2.0M288.6 112.2h2.0M377.2 112.2h-2.0M288.6 87.9h2.0M377.2 87.9h-2.0M288.6 63.6h2.0M377.2 63.6h-2.0M288.6 39.3h2.0M377.2 39.3h-2.0M288.6 15h2.0M377.2 15h-2.0" stroke="#5a5a5a" stroke-width="0.9" fill="none"/>
<rect x="288.6" y="12.8" width="88.6" height="148" fill="none" stroke="#5a5a5a" stroke-width="1"/>
<text x="288.6" y="170.7" font-size="8.3" text-anchor="middle" fill="#606060">20</text>
<text x="341.5" y="170.7" font-size="8.3" text-anchor="middle" fill="#606060">40</text>
<text x="286.6" y="163.7" font-size="8.3" text-anchor="end" fill="#606060">0</text>
<text x="286.6" y="139.4" font-size="8.3" text-anchor="end" fill="#606060">1</text>
<text x="286.6" y="115.1" font-size="8.3" text-anchor="end" fill="#606060">2</text>
<text x="286.6" y="90.8" font-size="8.3" text-anchor="end" fill="#606060">3</text>
<text x="286.6" y="66.5" font-size="8.3" text-anchor="end" fill="#606060">4</text>
<text x="286.6" y="42.2" font-size="8.3" text-anchor="end" fill="#606060">5</text>
<text x="286.6" y="17.9" font-size="8.3" text-anchor="end" fill="#606060">6</text>
<text x="288.7" y="10.4" font-size="8.6" fill="#606060">x 10</text>
<text x="305.2" y="5.3" font-size="5.2" fill="#606060">4</text>
<text x="276.6" y="89" font-size="7.3" text-anchor="middle" font-weight="bold" fill="#111" transform="rotate(-90 276.6 89)">Frequency</text>
<text x="331.9" y="179.2" font-size="7.5" text-anchor="middle" font-weight="bold" fill="#111">Length of CDR3 sequence</text>
<clipPath id="c4"><rect x="418.8" y="12" width="87.8" height="148.8"/></clipPath>
<g clip-path="url(#c4)">
<polyline points="420.2,160.7 421.5,160.7 422.9,160.6 424.2,160.4 425.6,160.1 426.9,159.6 428.3,158.8 429.6,157.4 431,155.3 432.3,152.2 433.7,147.7 435,141.7 436.4,133.8 437.7,124 439.1,112.2 440.4,98.8 441.8,84.3 443.1,69.7 444.5,56 445.8,44.2 447.2,35.5 448.5,30.7 449.9,30.2 451.2,33.2 452.6,39.4 453.9,48.2 455.3,59.1 456.6,71.2 458,84 459.3,96.6 460.7,108.5 462,119.3 463.4,128.7 464.7,136.6 466.1,143.1 467.4,148.1 468.8,152 470.1,154.8 471.5,156.8 472.8,158.2 474.2,159.2 475.5,159.8 476.9,160.2 478.2,160.4 479.6,160.6 480.9,160.7 482.3,160.7 483.6,160.7 485,160.8 486.3,160.8 487.7,160.8 489,160.8 490.4,160.8 491.7,160.8 493.1,160.8 494.4,160.8 495.8,160.8 497.1,160.8 498.5,160.8 499.8,160.8 501.2,160.8 502.5,160.8 503.9,160.8 505.2,160.8" fill="none" stroke="#c04848" stroke-width="0.75"/>
<path d="M418.9 160.7h2.5M420.2 159.5v2.5M419.3 159.9l1.8 1.8M419.3 161.6l1.8 -1.8M420.3 160.7h2.5M421.5 159.4v2.5M420.6 159.8l1.8 1.8M420.6 161.6l1.8 -1.8M421.6 160.6h2.5M422.9 159.3v2.5M422 159.7l1.8 1.8M422 161.5l1.8 -1.8M423 160.4h2.5M424.2 159.2v2.5M423.3 159.5l1.8 1.8M423.3 161.3l1.8 -1.8M424.3 160.1h2.5M425.6 158.9v2.5M424.7 159.3l1.8 1.8M424.7 161l1.8 -1.8M425.7 159.6h2.5M426.9 158.4v2.5M426 158.7l1.8 1.8M426 160.5l1.8 -1.8M427 158.8h2.5M428.3 157.5v2.5M427.4 157.9l1.8 1.8M427.4 159.6l1.8 -1.8M428.4 157.4h2.5M429.6 156.1v2.5M428.7 156.5l1.8 1.8M428.7 158.3l1.8 -1.8M429.7 155.3h2.5M431 154v2.5M430.1 154.4l1.8 1.8M430.1 156.2l1.8 -1.8M431.1 152.2h2.5M432.3 150.9v2.5M431.4 151.3l1.8 1.8M431.4 153l1.8 -1.8M432.4 147.7h2.5M433.7 146.5v2.5M432.8 146.9l1.8 1.8M432.8 148.6l1.8 -1.8M433.8 141.7h2.5M435 140.5v2.5M434.1 140.8l1.8 1.8M434.1 142.6l1.8 -1.8M435.1 133.8h2.5M436.4 132.6v2.5M435.5 133l1.8 1.8M435.5 134.7l1.8 -1.8M436.5 124h2.5M437.7 122.7v2.5M436.8 123.1l1.8 1.8M436.8 124.8l1.8 -1.8M437.8 112.2h2.5M439.1 110.9v2.5M438.2 111.3l1.8 1.8M438.2 113l1.8 -1.8M439.2 98.8h2.5M440.4 97.5v2.5M439.5 97.9l1.8 1.8M439.5 99.6l1.8 -1.8M440.5 84.3h2.5M441.8 83.1v2.5M440.9 83.5l1.8 1.8M440.9 85.2l1.8 -1.8M441.9 69.7h2.5M443.1 68.5v2.5M442.2 68.9l1.8 1.8M442.2 70.6l1.8 -1.8M443.2 56h2.5M444.5 54.7v2.5M443.6 55.1l1.8 1.8M443.6 56.9l1.8 -1.8M444.6 44.2h2.5M445.8 43v2.5M444.9 43.4l1.8 1.8M444.9 45.1l1.8 -1.8M445.9 35.5h2.5M447.2 34.3v2.5M446.3 34.7l1.8 1.8M446.3 36.4l1.8 -1.8M447.3 30.7h2.5M448.5 29.5v2.5M447.6 29.9l1.8 1.8M447.6 31.6l1.8 -1.8M448.6 30.2h2.5M449.9 28.9v2.5M449 29.3l1.8 1.8M449 31.1l1.8 -1.8M450 33.2h2.5M451.2 32v2.5M450.3 32.3l1.8 1.8M450.3 34.1l1.8 -1.8M451.3 39.4h2.5M452.6 38.1v2.5M451.7 38.5l1.8 1.8M451.7 40.2l1.8 -1.8M452.7 48.2h2.5M453.9 46.9v2.5M453 47.3l1.8 1.8M453 49.1l1.8 -1.8M454 59.1h2.5M455.3 57.8v2.5M454.4 58.2l1.8 1.8M454.4 59.9l1.8 -1.8M455.4 71.2h2.5M456.6 70v2.5M455.7 70.3l1.8 1.8M455.7 72.1l1.8 -1.8M456.7 84h2.5M458 82.7v2.5M457.1 83.1l1.8 1.8M457.1 84.8l1.8 -1.8M458.1 96.6h2.5M459.3 95.3v2.5M458.4 95.7l1.8 1.8M458.4 97.5l1.8 -1.8M459.4 108.5h2.5M460.7 107.3v2.5M459.8 107.6l1.8 1.8M459.8 109.4l1.8 -1.8M460.8 119.3h2.5M462 118.1v2.5M461.1 118.4l1.8 1.8M461.1 120.2l1.8 -1.8M462.1 128.7h2.5M463.4 127.5v2.5M462.5 127.9l1.8 1.8M462.5 129.6l1.8 -1.8M463.5 136.6h2.5M464.7 135.4v2.5M463.9 135.8l1.8 1.8M463.9 137.5l1.8 -1.8M464.8 143.1h2.5M466.1 141.8v2.5M465.2 142.2l1.8 1.8M465.2 143.9l1.8 -1.8M466.2 148.1h2.5M467.4 146.9v2.5M466.6 147.2l1.8 1.8M466.6 149l1.8 -1.8M467.5 152h2.5M468.8 150.7v2.5M467.9 151.1l1.8 1.8M467.9 152.8l1.8 -1.8M468.9 154.8h2.5M470.1 153.5v2.5M469.3 153.9l1.8 1.8M469.3 155.7l1.8 -1.8M470.2 156.8h2.5M471.5 155.6v2.5M470.6 155.9l1.8 1.8M470.6 157.7l1.8 -1.8M471.6 158.2h2.5M472.8 157v2.5M472 157.3l1.8 1.8M472 159.1l1.8 -1.8M472.9 159.2h2.5M474.2 157.9v2.5M473.3 158.3l1.8 1.8M473.3 160l1.8 -1.8M474.3 159.8h2.5M475.5 158.5v2.5M474.7 158.9l1.8 1.8M474.7 160.7l1.8 -1.8M475.6 160.2h2.5M476.9 158.9v2.5M476 159.3l1.8 1.8M476 161.1l1.8 -1.8M477 160.4h2.5M478.2 159.2v2.5M477.4 159.6l1.8 1.8M477.4 161.3l1.8 -1.8M478.3 160.6h2.5M479.6 159.3v2.5M478.7 159.7l1.8 1.8M478.7 161.5l1.8 -1.8M479.7 160.7h2.5M480.9 159.4v2.5M480.1 159.8l1.8 1.8M480.1 161.5l1.8 -1.8M481 160.7h2.5M482.3 159.5v2.5M481.4 159.8l1.8 1.8M481.4 161.6l1.8 -1.8M482.4 160.7h2.5M483.6 159.5v2.5M482.8 159.9l1.8 1.8M482.8 161.6l1.8 -1.8M483.7 160.8h2.5M485 159.5v2.5M484.1 159.9l1.8 1.8M484.1 161.6l1.8 -1.8M485.1 160.8h2.5M486.3 159.5v2.5M485.5 159.9l1.8 1.8M485.5 161.6l1.8 -1.8M486.4 160.8h2.5M487.7 159.5v2.5M486.8 159.9l1.8 1.8M486.8 161.6l1.8 -1.8M487.8 160.8h2.5M489 159.5v2.5M488.2 159.9l1.8 1.8M488.2 161.6l1.8 -1.8M489.1 160.8h2.5M490.4 159.5v2.5M489.5 159.9l1.8 1.8M489.5 161.6l1.8 -1.8M490.5 160.8h2.5M491.7 159.5v2.5M490.9 159.9l1.8 1.8M490.9 161.6l1.8 -1.8M491.8 160.8h2.5M493.1 159.5v2.5M492.2 159.9l1.8 1.8M492.2 161.6l1.8 -1.8M493.2 160.8h2.5M494.4 159.5v2.5M493.6 159.9l1.8 1.8M493.6 161.6l1.8 -1.8M494.5 160.8h2.5M495.8 159.5v2.5M494.9 159.9l1.8 1.8M494.9 161.6l1.8 -1.8M495.9 160.8h2.5M497.1 159.5v2.5M496.3 159.9l1.8 1.8M496.3 161.6l1.8 -1.8M497.2 160.8h2.5M498.5 159.5v2.5M497.6 159.9l1.8 1.8M497.6 161.6l1.8 -1.8M498.6 160.8h2.5M499.8 159.5v2.5M499 159.9l1.8 1.8M499 161.6l1.8 -1.8M499.9 160.8h2.5M501.2 159.5v2.5M500.3 159.9l1.8 1.8M500.3 161.6l1.8 -1.8M501.3 160.8h2.5M502.5 159.5v2.5M501.7 159.9l1.8 1.8M501.7 161.6l1.8 -1.8M502.6 160.8h2.5M503.9 159.5v2.5M503 159.9l1.8 1.8M503 161.6l1.8 -1.8M504 160.8h2.5M505.2 159.5v2.5M504.4 159.9l1.8 1.8M504.4 161.6l1.8 -1.8" fill="none" stroke="#b03030" stroke-width="0.8"/>
<polyline points="420.2,160.7 421.5,160.7 422.9,160.7 424.2,160.6 425.6,160.4 426.9,160.1 428.3,159.6 429.6,158.9 431,157.7 432.3,156 433.7,153.6 435,150.2 436.4,145.8 437.7,140.2 439.1,133.4 440.4,125.4 441.8,116.5 443.1,107.2 444.5,97.9 445.8,89.4 447.2,82.2 448.5,77.1 449.9,74.4 451.2,74.2 452.6,76 453.9,79.4 455.3,84.2 456.6,90.2 458,97 459.3,104.4 460.7,111.9 462,119.3 463.4,126.2 464.7,132.6 466.1,138.3 467.4,143.2 468.8,147.3 470.1,150.6 471.5,153.3 472.8,155.4 474.2,157 475.5,158.1 476.9,159 478.2,159.6 479.6,160 480.9,160.3 482.3,160.5 483.6,160.6 485,160.7 486.3,160.7 487.7,160.7 489,160.8 490.4,160.8 491.7,160.8 493.1,160.8 494.4,160.8 495.8,160.8 497.1,160.8 498.5,160.8 499.8,160.8 501.2,160.8 502.5,160.8 503.9,160.8 505.2,160.8" fill="none" stroke="#4848b8" stroke-width="0.75"/>
<path d="M418.9 159.5h2.5v2.5h-2.5zM420.3 159.5h2.5v2.5h-2.5zM421.6 159.4h2.5v2.5h-2.5zM423 159.3h2.5v2.5h-2.5zM424.3 159.2h2.5v2.5h-2.5zM425.7 158.9h2.5v2.5h-2.5zM427 158.4h2.5v2.5h-2.5zM428.4 157.6h2.5v2.5h-2.5zM429.7 156.5h2.5v2.5h-2.5zM431.1 154.8h2.5v2.5h-2.5zM432.4 152.3h2.5v2.5h-2.5zM433.8 149h2.5v2.5h-2.5zM435.1 144.6h2.5v2.5h-2.5zM436.5 138.9h2.5v2.5h-2.5zM437.8 132.1h2.5v2.5h-2.5zM439.2 124.1h2.5v2.5h-2.5zM440.5 115.3h2.5v2.5h-2.5zM441.9 106h2.5v2.5h-2.5zM443.2 96.7h2.5v2.5h-2.5zM444.6 88.2h2.5v2.5h-2.5zM445.9 81h2.5v2.5h-2.5zM447.3 75.8h2.5v2.5h-2.5zM448.6 73.1h2.5v2.5h-2.5zM450 73h2.5v2.5h-2.5zM451.3 74.7h2.5v2.5h-2.5zM452.7 78.1h2.5v2.5h-2.5zM454 83h2.5v2.5h-2.5zM455.4 89h2.5v2.5h-2.5zM456.7 95.8h2.5v2.5h-2.5zM458.1 103.1h2.5v2.5h-2.5zM459.4 110.6h2.5v2.5h-2.5zM460.8 118h2.5v2.5h-2.5zM462.1 125h2.5v2.5h-2.5zM463.5 131.4h2.5v2.5h-2.5zM464.8 137h2.5v2.5h-2.5zM466.2 141.9h2.5v2.5h-2.5zM467.5 146h2.5v2.5h-2.5zM468.9 149.4h2.5v2.5h-2.5zM470.2 152h2.5v2.5h-2.5zM471.6 154.1h2.5v2.5h-2.5zM472.9 155.7h2.5v2.5h-2.5zM474.3 156.9h2.5v2.5h-2.5zM475.6 157.7h2.5v2.5h-2.5zM477 158.3h2.5v2.5h-2.5zM478.3 158.7h2.5v2.5h-2.5zM479.7 159h2.5v2.5h-2.5zM481 159.2h2.5v2.5h-2.5zM482.4 159.3h2.5v2.5h-2.5zM483.7 159.4h2.5v2.5h-2.5zM485.1 159.5h2.5v2.5h-2.5zM486.4 159.5h2.5v2.5h-2.5zM487.8 159.5h2.5v2.5h-2.5zM489.1 159.5h2.5v2.5h-2.5zM490.5 159.5h2.5v2.5h-2.5zM491.8 159.5h2.5v2.5h-2.5zM493.2 159.5h2.5v2.5h-2.5zM494.5 159.5h2.5v2.5h-2.5zM495.9 159.5h2.5v2.5h-2.5zM497.2 159.5h2.5v2.5h-2.5zM498.6 159.5h2.5v2.5h-2.5zM499.9 159.5h2.5v2.5h-2.5zM501.3 159.5h2.5v2.5h-2.5zM502.6 159.5h2.5v2.5h-2.5zM504 159.5h2.5v2.5h-2.5z" fill="none" stroke="#4040b8" stroke-width="0.8"/>
<polyline points="420.2,160.7 421.5,160.7 422.9,160.6 424.2,160.4 425.6,160.1 426.9,159.6 428.3,158.7 429.6,157.2 431,154.9 432.3,151.3 433.7,146.2 435,139.1 436.4,129.8 437.7,118 439.1,103.9 440.4,88 441.8,70.9 443.1,53.8 444.5,38.1 445.8,25.3 447.2,16.5 448.5,12.7 449.9,14.1 451.2,20 452.6,30 453.9,43 455.3,58.1 456.6,74.1 458,89.9 459.3,104.6 460.7,117.7 462,128.7 463.4,137.7 464.7,144.7 466.1,149.9 467.4,153.7 468.8,156.3 470.1,158 471.5,159.1 472.8,159.8 474.2,160.2 475.5,160.5 476.9,160.6 478.2,160.7 479.6,160.7 480.9,160.8 482.3,160.8 483.6,160.8 485,160.8 486.3,160.8 487.7,160.8 489,160.8 490.4,160.8 491.7,160.8 493.1,160.8 494.4,160.8 495.8,160.8 497.1,160.8 498.5,160.8 499.8,160.8 501.2,160.8 502.5,160.8 503.9,160.8 505.2,160.8" fill="none" stroke="#3a3a3a" stroke-width="0.75"/>
<polyline points="420.2,160.7 421.5,160.7 422.9,160.6 424.2,160.5 425.6,160.3 426.9,159.9 428.3,159.3 429.6,158.4 431,157.1 432.3,155.1 433.7,152.4 435,148.7 436.4,144 437.7,138.3 439.1,131.4 440.4,123.7 441.8,115.5 443.1,107.2 444.5,99.3 445.8,92.5 447.2,87.3 448.5,84.2 449.9,83.4 451.2,84.5 452.6,86.9 453.9,90.7 455.3,95.5 456.6,101.2 458,107.4 459.3,113.8 460.7,120.3 462,126.6 463.4,132.4 464.7,137.7 466.1,142.4 467.4,146.4 468.8,149.7 470.1,152.4 471.5,154.6 472.8,156.3 474.2,157.6 475.5,158.6 476.9,159.3 478.2,159.8 479.6,160.1 480.9,160.3 482.3,160.5 483.6,160.6 485,160.7 486.3,160.7 487.7,160.7 489,160.8 490.4,160.8 491.7,160.8 493.1,160.8 494.4,160.8 495.8,160.8 497.1,160.8 498.5,160.8 499.8,160.8 501.2,160.8 502.5,160.8 503.9,160.8 505.2,160.8" fill="none" stroke="#c86060" stroke-width="0.75" stroke-dasharray="3.5,1.3"/>
<path d="M418.9 159.5h2.5v2.5h-2.5zM420.3 159.4h2.5v2.5h-2.5zM421.6 159.4h2.5v2.5h-2.5zM423 159.2h2.5v2.5h-2.5zM424.3 159h2.5v2.5h-2.5zM425.7 158.7h2.5v2.5h-2.5zM427 158.1h2.5v2.5h-2.5zM428.4 157.2h2.5v2.5h-2.5zM429.7 155.8h2.5v2.5h-2.5zM431.1 153.8h2.5v2.5h-2.5zM432.4 151.1h2.5v2.5h-2.5zM433.8 147.5h2.5v2.5h-2.5zM435.1 142.8h2.5v2.5h-2.5zM436.5 137h2.5v2.5h-2.5zM437.8 130.2h2.5v2.5h-2.5zM439.2 122.5h2.5v2.5h-2.5zM440.5 114.3h2.5v2.5h-2.5zM441.9 105.9h2.5v2.5h-2.5zM443.2 98.1h2.5v2.5h-2.5zM444.6 91.2h2.5v2.5h-2.5zM445.9 86h2.5v2.5h-2.5zM447.3 82.9h2.5v2.5h-2.5zM448.6 82.2h2.5v2.5h-2.5zM450 83.2h2.5v2.5h-2.5zM451.3 85.7h2.5v2.5h-2.5zM452.7 89.4h2.5v2.5h-2.5zM454 94.2h2.5v2.5h-2.5zM455.4 99.9h2.5v2.5h-2.5zM456.7 106.1h2.5v2.5h-2.5zM458.1 112.6h2.5v2.5h-2.5zM459.4 119.1h2.5v2.5h-2.5zM460.8 125.3h2.5v2.5h-2.5zM462.1 131.2h2.5v2.5h-2.5zM463.5 136.4h2.5v2.5h-2.5zM464.8 141.1h2.5v2.5h-2.5zM466.2 145.1h2.5v2.5h-2.5zM467.5 148.5h2.5v2.5h-2.5zM468.9 151.2h2.5v2.5h-2.5zM470.2 153.4h2.5v2.5h-2.5zM471.6 155.1h2.5v2.5h-2.5zM472.9 156.4h2.5v2.5h-2.5zM474.3 157.3h2.5v2.5h-2.5zM475.6 158h2.5v2.5h-2.5zM477 158.5h2.5v2.5h-2.5zM478.3 158.9h2.5v2.5h-2.5zM479.7 159.1h2.5v2.5h-2.5zM481 159.2h2.5v2.5h-2.5zM482.4 159.4h2.5v2.5h-2.5zM483.7 159.4h2.5v2.5h-2.5zM485.1 159.5h2.5v2.5h-2.5zM486.4 159.5h2.5v2.5h-2.5zM487.8 159.5h2.5v2.5h-2.5zM489.1 159.5h2.5v2.5h-2.5zM490.5 159.5h2.5v2.5h-2.5zM491.8 159.5h2.5v2.5h-2.5zM493.2 159.5h2.5v2.5h-2.5zM494.5 159.5h2.5v2.5h-2.5zM495.9 159.5h2.5v2.5h-2.5zM497.2 159.5h2.5v2.5h-2.5zM498.6 159.5h2.5v2.5h-2.5zM499.9 159.5h2.5v2.5h-2.5zM501.3 159.5h2.5v2.5h-2.5zM502.6 159.5h2.5v2.5h-2.5zM504 159.5h2.5v2.5h-2.5z" fill="none" stroke="#d06050" stroke-width="0.8"/>
<polyline points="420.2,160.7 421.5,160.7 422.9,160.6 424.2,160.5 425.6,160.3 426.9,160 428.3,159.4 429.6,158.7 431,157.5 432.3,155.9 433.7,153.7 435,150.9 436.4,147.2 437.7,142.8 439.1,137.7 440.4,131.9 441.8,125.7 443.1,119.5 444.5,113.6 445.8,108.4 447.2,104.4 448.5,101.8 449.9,100.9 451.2,101.5 452.6,103 453.9,105.5 455.3,108.9 456.6,112.9 458,117.3 459.3,122.1 460.7,126.9 462,131.6 463.4,136.2 464.7,140.4 466.1,144.1 467.4,147.4 468.8,150.3 470.1,152.7 471.5,154.6 472.8,156.2 474.2,157.4 475.5,158.4 476.9,159.1 478.2,159.6 479.6,160 480.9,160.2 482.3,160.4 483.6,160.5 485,160.6 486.3,160.7 487.7,160.7 489,160.7 490.4,160.8 491.7,160.8 493.1,160.8 494.4,160.8 495.8,160.8 497.1,160.8 498.5,160.8 499.8,160.8 501.2,160.8 502.5,160.8 503.9,160.8 505.2,160.8" fill="none" stroke="#4a4aa8" stroke-width="0.75" stroke-dasharray="3.5,1.3"/>
<path d="M419.2 159.7h2v2h-2zM420.5 159.7h2v2h-2zM421.9 159.6h2v2h-2zM423.2 159.5h2v2h-2zM424.6 159.3h2v2h-2zM425.9 159h2v2h-2zM427.3 158.4h2v2h-2zM428.6 157.7h2v2h-2zM430 156.5h2v2h-2zM431.3 154.9h2v2h-2zM432.7 152.7h2v2h-2zM434 149.9h2v2h-2zM435.4 146.2h2v2h-2zM436.7 141.8h2v2h-2zM438.1 136.7h2v2h-2zM439.4 130.9h2v2h-2zM440.8 124.7h2v2h-2zM442.1 118.5h2v2h-2zM443.5 112.6h2v2h-2zM444.8 107.4h2v2h-2zM446.2 103.4h2v2h-2zM447.5 100.8h2v2h-2zM448.9 99.9h2v2h-2zM450.2 100.5h2v2h-2zM451.6 102h2v2h-2zM452.9 104.5h2v2h-2zM454.3 107.9h2v2h-2zM455.6 111.9h2v2h-2zM457 116.3h2v2h-2zM458.3 121.1h2v2h-2zM459.7 125.9h2v2h-2zM461 130.6h2v2h-2zM462.4 135.2h2v2h-2zM463.7 139.4h2v2h-2zM465.1 143.1h2v2h-2zM466.4 146.4h2v2h-2zM467.8 149.3h2v2h-2zM469.1 151.7h2v2h-2zM470.5 153.6h2v2h-2zM471.8 155.2h2v2h-2zM473.2 156.4h2v2h-2zM474.5 157.4h2v2h-2zM475.9 158.1h2v2h-2zM477.2 158.6h2v2h-2zM478.6 159h2v2h-2zM479.9 159.2h2v2h-2zM481.3 159.4h2v2h-2zM482.6 159.5h2v2h-2zM484 159.6h2v2h-2zM485.3 159.7h2v2h-2zM486.7 159.7h2v2h-2zM488 159.7h2v2h-2zM489.4 159.8h2v2h-2zM490.7 159.8h2v2h-2zM492.1 159.8h2v2h-2zM493.4 159.8h2v2h-2zM494.8 159.8h2v2h-2zM496.1 159.8h2v2h-2zM497.5 159.8h2v2h-2zM498.8 159.8h2v2h-2zM500.2 159.8h2v2h-2zM501.5 159.8h2v2h-2zM502.9 159.8h2v2h-2zM504.2 159.8h2v2h-2z" fill="#202080" stroke="#202080" stroke-width="0.5"/>
<polyline points="420.2,160.7 421.5,160.7 422.9,160.6 424.2,160.5 425.6,160.4 426.9,160.1 428.3,159.7 429.6,159 431,158 432.3,156.7 433.7,154.9 435,152.5 436.4,149.4 437.7,145.7 439.1,141.4 440.4,136.5 441.8,131.4 443.1,126.2 444.5,121.2 445.8,116.9 447.2,113.5 448.5,111.3 449.9,110.6 451.2,111 452.6,112.1 453.9,114 455.3,116.5 456.6,119.5 458,122.9 459.3,126.6 460.7,130.3 462,134.1 463.4,137.8 464.7,141.3 466.1,144.5 467.4,147.4 468.8,149.9 470.1,152.1 471.5,154 472.8,155.5 474.2,156.8 475.5,157.8 476.9,158.6 478.2,159.2 479.6,159.6 480.9,160 482.3,160.2 483.6,160.4 485,160.5 486.3,160.6 487.7,160.7 489,160.7 490.4,160.7 491.7,160.7 493.1,160.8 494.4,160.8 495.8,160.8 497.1,160.8 498.5,160.8 499.8,160.8 501.2,160.8 502.5,160.8 503.9,160.8 505.2,160.8" fill="none" stroke="#505050" stroke-width="0.75" stroke-dasharray="3.5,1.3"/>
<path d="M420.2 159.5l1.2 2.2h-2.5zM421.5 159.5l1.2 2.2h-2.5zM422.9 159.4l1.2 2.2h-2.5zM424.2 159.3l1.2 2.2h-2.5zM425.6 159.1l1.2 2.2h-2.5zM426.9 158.8l1.2 2.2h-2.5zM428.3 158.4l1.2 2.2h-2.5zM429.6 157.8l1.2 2.2h-2.5zM431 156.8l1.2 2.2h-2.5zM432.3 155.5l1.2 2.2h-2.5zM433.7 153.6l1.2 2.2h-2.5zM435 151.2l1.2 2.2h-2.5zM436.4 148.2l1.2 2.2h-2.5zM437.7 144.5l1.2 2.2h-2.5zM439.1 140.1l1.2 2.2h-2.5zM440.4 135.3l1.2 2.2h-2.5zM441.8 130.1l1.2 2.2h-2.5zM443.1 124.9l1.2 2.2h-2.5zM444.5 120l1.2 2.2h-2.5zM445.8 115.6l1.2 2.2h-2.5zM447.2 112.2l1.2 2.2h-2.5zM448.5 110.1l1.2 2.2h-2.5zM449.9 109.3l1.2 2.2h-2.5zM451.2 109.7l1.2 2.2h-2.5zM452.6 110.9l1.2 2.2h-2.5zM453.9 112.7l1.2 2.2h-2.5zM455.3 115.2l1.2 2.2h-2.5zM456.6 118.2l1.2 2.2h-2.5zM458 121.6l1.2 2.2h-2.5zM459.3 125.3l1.2 2.2h-2.5zM460.7 129.1l1.2 2.2h-2.5zM462 132.9l1.2 2.2h-2.5zM463.4 136.5l1.2 2.2h-2.5zM464.7 140l1.2 2.2h-2.5zM466.1 143.2l1.2 2.2h-2.5zM467.4 146.1l1.2 2.2h-2.5zM468.8 148.7l1.2 2.2h-2.5zM470.1 150.9l1.2 2.2h-2.5zM471.5 152.7l1.2 2.2h-2.5zM472.8 154.3l1.2 2.2h-2.5zM474.2 155.5l1.2 2.2h-2.5zM475.5 156.5l1.2 2.2h-2.5zM476.9 157.3l1.2 2.2h-2.5zM478.2 157.9l1.2 2.2h-2.5zM479.6 158.4l1.2 2.2h-2.5zM480.9 158.7l1.2 2.2h-2.5zM482.3 159l1.2 2.2h-2.5zM483.6 159.1l1.2 2.2h-2.5zM485 159.3l1.2 2.2h-2.5zM486.3 159.4l1.2 2.2h-2.5zM487.7 159.4l1.2 2.2h-2.5zM489 159.5l1.2 2.2h-2.5zM490.4 159.5l1.2 2.2h-2.5zM491.7 159.5l1.2 2.2h-2.5zM493.1 159.5l1.2 2.2h-2.5zM494.4 159.5l1.2 2.2h-2.5zM495.8 159.5l1.2 2.2h-2.5zM497.1 159.5l1.2 2.2h-2.5zM498.5 159.5l1.2 2.2h-2.5zM499.8 159.5l1.2 2.2h-2.5zM501.2 159.5l1.2 2.2h-2.5zM502.5 159.5l1.2 2.2h-2.5zM503.9 159.5l1.2 2.2h-2.5zM505.2 159.5l1.2 2.2h-2.5z" fill="none" stroke="#333" stroke-width="0.8"/>
</g>
<path d="M445.8 160.8v-2.0M445.8 12.5v2.0M472.8 160.8v-2.0M472.8 12.5v2.0M499.8 160.8v-2.0M499.8 12.5v2.0M418.8 160.8h2.0M506.6 160.8h-2.0M418.8 113.9h2.0M506.6 113.9h-2.0M418.8 67h2.0M506.6 67h-2.0M418.8 20.1h2.0M506.6 20.1h-2.0" stroke="#5a5a5a" stroke-width="0.9" fill="none"/>
<rect x="418.8" y="12.5" width="87.8" height="148.3" fill="none" stroke="#5a5a5a" stroke-width="1"/>
<text x="445.8" y="170.7" font-size="8.3" text-anchor="middle" fill="#606060">20</text>
<text x="472.8" y="170.7" font-size="8.3" text-anchor="middle" fill="#606060">40</text>
<text x="499.8" y="170.7" font-size="8.3" text-anchor="middle" fill="#606060">60</text>
<text x="417.3" y="163.7" font-size="8.3" text-anchor="end" fill="#606060">0</text>
<text x="417.3" y="116.8" font-size="8.3" text-anchor="end" fill="#606060">5000</text>
<text x="417.3" y="69.9" font-size="8.3" text-anchor="end" fill="#606060">10000</text>
<text x="417.3" y="23" font-size="8.3" text-anchor="end" fill="#606060">15000</text>
<text x="390" y="88.5" font-size="7.3" text-anchor="middle" font-weight="bold" fill="#111" transform="rotate(-90 390 88.5)">Frequency</text>
<text x="461.7" y="179.2" font-size="7.5" text-anchor="middle" font-weight="bold" fill="#111">Insertions plus deletions</text>
<rect x="77.8" y="189.8" width="390.8" height="13.4" fill="#fff" stroke="#555" stroke-width="1"/>
<path d="M80.5 196.6H96.2" stroke="#d88" stroke-width="0.9"/>
<path d="M87 196.6h2.6M88.3 195.3v2.6" stroke="#a02020" stroke-width="0.9"/>
<text x="98.2" y="199" font-size="8.7" text-anchor="start" font-weight="bold" fill="#111">D1: CD4N</text>
<path d="M143 196.6H158.8" stroke="#88d" stroke-width="0.9"/>
<rect x="149.6" y="195.3" width="2.6" height="2.6" fill="none" stroke="#4040b8" stroke-width="0.8"/>
<text x="160.6" y="199" font-size="8.7" text-anchor="start" font-weight="bold" fill="#111">D1: CD4M</text>
<path d="M207 196.6H222.3" stroke="#777" stroke-width="0.9"/>
<text x="224.5" y="199" font-size="8.7" text-anchor="start" font-weight="bold" fill="#111">D1: CD8 N</text>
<path d="M272.5 196.6H286.3" stroke="#d88" stroke-width="0.9" stroke-dasharray="2.5,1.5"/>
<rect x="278.1" y="195.3" width="2.6" height="2.6" fill="none" stroke="#d06050" stroke-width="0.8"/>
<text x="290" y="199" font-size="8.7" text-anchor="start" font-weight="bold" fill="#111">D2: CD4 N</text>
<path d="M336 196.6H351.2" stroke="#66c" stroke-width="0.9" stroke-dasharray="2.5,1.5"/>
<path d="M342.3 196.6h2.6M343.6 195.3v2.6" stroke="#3030a0" stroke-width="0.9"/>
<text x="355" y="199" font-size="8.7" text-anchor="start" font-weight="bold" fill="#111">D2: CD4 M</text>
<path d="M403 196.6H417.5" stroke="#888" stroke-width="0.9" stroke-dasharray="2.5,1.5"/>
<path d="M410.2 195.1l1.4 2.6h-2.8z" fill="none" stroke="#555" stroke-width="0.7"/>
<text x="421.8" y="199" font-size="8.7" text-anchor="start" font-weight="bold" fill="#111">D2: CD8 N</text>
<clipPath id="c5"><rect x="27.9" y="218.1" width="87.6" height="149.5"/></clipPath>
<g clip-path="url(#c5)">
<polyline points="27.9,265.8 35.2,308.7 42.5,279.1 49.8,280.6 57.1,336.1 64.4,276.9 71.7,341.3 79,299.1 86.3,328.7 93.6,358.3 100.9,350.9 108.2,293.9 115.5,333.9" fill="none" stroke="#c04848" stroke-width="0.75"/>
<path d="M26.3 265.8h3.2M27.9 264.2v3.2M26.8 264.7l2.2 2.2M26.8 266.9l2.2 -2.2M33.6 308.7h3.2M35.2 307.1v3.2M34.1 307.6l2.2 2.2M34.1 309.8l2.2 -2.2M40.9 279.1h3.2M42.5 277.5v3.2M41.4 278l2.2 2.2M41.4 280.2l2.2 -2.2M48.2 280.6h3.2M49.8 279v3.2M48.7 279.5l2.2 2.2M48.7 281.7l2.2 -2.2M55.5 336.1h3.2M57.1 334.5v3.2M56 335l2.2 2.2M56 337.2l2.2 -2.2M62.8 276.9h3.2M64.4 275.3v3.2M63.3 275.8l2.2 2.2M63.3 278l2.2 -2.2M70.1 341.3h3.2M71.7 339.7v3.2M70.6 340.2l2.2 2.2M70.6 342.4l2.2 -2.2M77.4 299.1h3.2M79 297.5v3.2M77.9 298l2.2 2.2M77.9 300.2l2.2 -2.2M84.7 328.7h3.2M86.3 327.1v3.2M85.2 327.6l2.2 2.2M85.2 329.8l2.2 -2.2M92 358.3h3.2M93.6 356.7v3.2M92.5 357.2l2.2 2.2M92.5 359.4l2.2 -2.2M99.3 350.9h3.2M100.9 349.3v3.2M99.8 349.8l2.2 2.2M99.8 352l2.2 -2.2M106.6 293.9h3.2M108.2 292.3v3.2M107.1 292.8l2.2 2.2M107.1 295l2.2 -2.2M113.9 333.9h3.2M115.5 332.3v3.2M114.4 332.8l2.2 2.2M114.4 335l2.2 -2.2" fill="none" stroke="#b03030" stroke-width="0.8"/>
<polyline points="27.9,219.2 35.2,262.8 42.5,234.7 49.8,233.2 57.1,286.5 64.4,233.2 71.7,302.8 79,256.9 86.3,280.6 93.6,318.3 100.9,310.2 108.2,256.9 115.5,302.8" fill="none" stroke="#4848b8" stroke-width="0.75"/>
<path d="M26.3 217.6h3.2v3.2h-3.2zM33.6 261.2h3.2v3.2h-3.2zM40.9 233.1h3.2v3.2h-3.2zM48.2 231.6h3.2v3.2h-3.2zM55.5 284.9h3.2v3.2h-3.2zM62.8 231.6h3.2v3.2h-3.2zM70.1 301.2h3.2v3.2h-3.2zM77.4 255.3h3.2v3.2h-3.2zM84.7 279h3.2v3.2h-3.2zM92 316.7h3.2v3.2h-3.2zM99.3 308.6h3.2v3.2h-3.2zM106.6 255.3h3.2v3.2h-3.2zM113.9 301.2h3.2v3.2h-3.2z" fill="none" stroke="#4040b8" stroke-width="0.8"/>
<polyline points="27.9,275.4 35.2,313.9 42.5,279.1 49.8,271.7 57.1,336.1 64.4,276.9 71.7,345.7 79,299.1 86.3,343.5 93.6,367.9 100.9,376.8 108.2,302.8 115.5,332.4" fill="none" stroke="#3a3a3a" stroke-width="0.75"/>
<polyline points="27.9,248.8 35.2,273.9 42.5,262.8 49.8,263.6 57.1,304.3 64.4,254 71.7,280.6 79,268.8 86.3,280.6 93.6,305.8 100.9,290.2 108.2,276.9 115.5,275.4" fill="none" stroke="#c86060" stroke-width="0.75" stroke-dasharray="3.5,1.3"/>
<path d="M26.3 247.2h3.2v3.2h-3.2zM33.6 272.3h3.2v3.2h-3.2zM40.9 261.2h3.2v3.2h-3.2zM48.2 262h3.2v3.2h-3.2zM55.5 302.7h3.2v3.2h-3.2zM62.8 252.4h3.2v3.2h-3.2zM70.1 279h3.2v3.2h-3.2zM77.4 267.2h3.2v3.2h-3.2zM84.7 279h3.2v3.2h-3.2zM92 304.2h3.2v3.2h-3.2zM99.3 288.6h3.2v3.2h-3.2zM106.6 275.3h3.2v3.2h-3.2zM113.9 273.8h3.2v3.2h-3.2z" fill="none" stroke="#d06050" stroke-width="0.8"/>
<polyline points="27.9,276.9 35.2,316.1 42.5,279.1 49.8,280.6 57.1,326.5 64.4,275.4 71.7,336.1 79,296.9 86.3,325 93.6,336.1 100.9,336.1 108.2,302.8 115.5,333.9" fill="none" stroke="#4a4aa8" stroke-width="0.75" stroke-dasharray="3.5,1.3"/>
<path d="M26.6 275.6h2.6v2.6h-2.6zM33.9 314.8h2.6v2.6h-2.6zM41.2 277.8h2.6v2.6h-2.6zM48.5 279.3h2.6v2.6h-2.6zM55.8 325.2h2.6v2.6h-2.6zM63.1 274.1h2.6v2.6h-2.6zM70.4 334.8h2.6v2.6h-2.6zM77.7 295.6h2.6v2.6h-2.6zM85 323.7h2.6v2.6h-2.6zM92.3 334.8h2.6v2.6h-2.6zM99.6 334.8h2.6v2.6h-2.6zM106.9 301.5h2.6v2.6h-2.6zM114.2 332.6h2.6v2.6h-2.6z" fill="#202080" stroke="#202080" stroke-width="0.5"/>
<polyline points="27.9,276.9 35.2,265.8 42.5,236.2 49.8,237.7 57.1,286.5 64.4,226.6 71.7,266.5 79,258.4 86.3,273.2 93.6,282.1 100.9,266.5 108.2,279.1 115.5,261.4" fill="none" stroke="#505050" stroke-width="0.75" stroke-dasharray="3.5,1.3"/>
<path d="M27.9 275.3l1.6 2.9h-3.2zM35.2 264.2l1.6 2.9h-3.2zM42.5 234.6l1.6 2.9h-3.2zM49.8 236.1l1.6 2.9h-3.2zM57.1 284.9l1.6 2.9h-3.2zM64.4 225l1.6 2.9h-3.2zM71.7 264.9l1.6 2.9h-3.2zM79 256.8l1.6 2.9h-3.2zM86.3 271.6l1.6 2.9h-3.2zM93.6 280.5l1.6 2.9h-3.2zM100.9 264.9l1.6 2.9h-3.2zM108.2 277.5l1.6 2.9h-3.2zM115.5 259.8l1.6 2.9h-3.2z" fill="none" stroke="#333" stroke-width="0.8"/>
</g>
<path d="M35.2 367.6v-2.0M35.2 218.6v2.0M49.8 367.6v-2.0M49.8 218.6v2.0M64.4 367.6v-2.0M64.4 218.6v2.0M79 367.6v-2.0M79 218.6v2.0M93.6 367.6v-2.0M93.6 218.6v2.0M108.2 367.6v-2.0M108.2 218.6v2.0M27.9 354.6h2.0M115.5 354.6h-2.0M27.9 339.8h2.0M115.5 339.8h-2.0M27.9 325h2.0M115.5 325h-2.0M27.9 310.2h2.0M115.5 310.2h-2.0M27.9 295.4h2.0M115.5 295.4h-2.0M27.9 280.6h2.0M115.5 280.6h-2.0M27.9 265.8h2.0M115.5 265.8h-2.0M27.9 251h2.0M115.5 251h-2.0M27.9 236.2h2.0M115.5 236.2h-2.0M27.9 221.4h2.0M115.5 221.4h-2.0" stroke="#5a5a5a" stroke-width="0.9" fill="none"/>
<rect x="27.9" y="218.6" width="87.6" height="149" fill="none" stroke="#5a5a5a" stroke-width="1"/>
<text x="35.2" y="376.5" font-size="8.3" text-anchor="middle" fill="#606060">2</text>
<text x="49.8" y="376.5" font-size="8.3" text-anchor="middle" fill="#606060">4</text>
<text x="64.4" y="376.5" font-size="8.3" text-anchor="middle" fill="#606060">6</text>
<text x="79" y="376.5" font-size="8.3" text-anchor="middle" fill="#606060">8</text>
<text x="93.6" y="376.5" font-size="8.3" text-anchor="middle" fill="#606060">10</text>
<text x="108.2" y="376.5" font-size="8.3" text-anchor="middle" fill="#606060">12</text>
<text x="25.7" y="357.5" font-size="8.3" text-anchor="end" fill="#606060">1.6</text>
<text x="25.7" y="342.7" font-size="8.3" text-anchor="end" fill="#606060">1.8</text>
<text x="25.7" y="327.9" font-size="8.3" text-anchor="end" fill="#606060">2</text>
<text x="25.7" y="313.1" font-size="8.3" text-anchor="end" fill="#606060">2.2</text>
<text x="25.7" y="298.3" font-size="8.3" text-anchor="end" fill="#606060">2.4</text>
<text x="25.7" y="283.5" font-size="8.3" text-anchor="end" fill="#606060">2.6</text>
<text x="25.7" y="268.7" font-size="8.3" text-anchor="end" fill="#606060">2.8</text>
<text x="25.7" y="253.9" font-size="8.3" text-anchor="end" fill="#606060">3</text>
<text x="25.7" y="239.1" font-size="8.3" text-anchor="end" fill="#606060">3.2</text>
<text x="25.7" y="224.3" font-size="8.3" text-anchor="end" fill="#606060">3.4</text>
<text transform="translate(7.6 300) rotate(-90)" font-size="7.6" font-weight="bold" text-anchor="middle" fill="#111">Log<tspan font-size="5.2" dy="1.7">e</tspan><tspan dy="-1.7">(Frequency)</tspan></text>
<text x="70.3" y="386.9" font-size="7.55" text-anchor="middle" font-weight="bold" fill="#111">Clonal expansion, as a function</text>
<text x="70.3" y="394.6" font-size="7.55" text-anchor="middle" font-weight="bold" fill="#111">of J segment</text>
<clipPath id="c6"><rect x="158.6" y="218.1" width="87" height="149.3"/></clipPath>
<g clip-path="url(#c6)">
<polyline points="158.6,324.9 161.7,278.9 164.8,280.2 167.9,316.4 171,224.4 174.1,264.6 177.2,367.4 180.3,290.1 183.5,291.4 186.6,291.4 189.7,273.5 192.8,269.1 195.9,318.2 199,260.1 202.1,322.7 205.2,269.1 208.3,310.2 211.4,251.2 214.5,282.5 217.6,367.4 220.7,367.4 223.8,307.1 227,293.6 230.1,295.9 233.2,367.4 236.3,269.1 239.4,282.5 242.5,313.8 245.6,278" fill="none" stroke="#c04848" stroke-width="0.75"/>
<path d="M157.2 324.9h2.8M158.6 323.5v2.8M157.6 324l2 2M157.6 325.9l2 -2M160.3 278.9h2.8M161.7 277.5v2.8M160.7 277.9l2 2M160.7 279.9l2 -2M163.4 280.2h2.8M164.8 278.8v2.8M163.8 279.3l2 2M163.8 281.2l2 -2M166.5 316.4h2.8M167.9 315v2.8M166.9 315.5l2 2M166.9 317.4l2 -2M169.6 224.4h2.8M171 223v2.8M170 223.4l2 2M170 225.3l2 -2M172.7 264.6h2.8M174.1 263.2v2.8M173.2 263.6l2 2M173.2 265.6l2 -2M175.8 367.4h2.8M177.2 366v2.8M176.3 366.4l2 2M176.3 368.4l2 -2M178.9 290.1h2.8M180.3 288.7v2.8M179.4 289.1l2 2M179.4 291l2 -2M182.1 291.4h2.8M183.5 290v2.8M182.5 290.4l2 2M182.5 292.4l2 -2M185.2 291.4h2.8M186.6 290v2.8M185.6 290.4l2 2M185.6 292.4l2 -2M188.3 273.5h2.8M189.7 272.1v2.8M188.7 272.5l2 2M188.7 274.5l2 -2M191.4 269.1h2.8M192.8 267.7v2.8M191.8 268.1l2 2M191.8 270l2 -2M194.5 318.2h2.8M195.9 316.8v2.8M194.9 317.2l2 2M194.9 319.2l2 -2M197.6 260.1h2.8M199 258.7v2.8M198 259.1l2 2M198 261.1l2 -2M200.7 322.7h2.8M202.1 321.3v2.8M201.1 321.7l2 2M201.1 323.7l2 -2M203.8 269.1h2.8M205.2 267.7v2.8M204.2 268.1l2 2M204.2 270l2 -2M206.9 310.2h2.8M208.3 308.8v2.8M207.3 309.2l2 2M207.3 311.2l2 -2M210 251.2h2.8M211.4 249.8v2.8M210.4 250.2l2 2M210.4 252.2l2 -2M213.1 282.5h2.8M214.5 281.1v2.8M213.5 281.5l2 2M213.5 283.4l2 -2M216.2 367.4h2.8M217.6 366v2.8M216.7 366.4l2 2M216.7 368.4l2 -2M219.3 367.4h2.8M220.7 366v2.8M219.8 366.4l2 2M219.8 368.4l2 -2M222.4 307.1h2.8M223.8 305.7v2.8M222.9 306.1l2 2M222.9 308l2 -2M225.6 293.6h2.8M227 292.2v2.8M226 292.7l2 2M226 294.6l2 -2M228.7 295.9h2.8M230.1 294.5v2.8M229.1 294.9l2 2M229.1 296.9l2 -2M231.8 367.4h2.8M233.2 366v2.8M232.2 366.4l2 2M232.2 368.4l2 -2M234.9 269.1h2.8M236.3 267.7v2.8M235.3 268.1l2 2M235.3 270l2 -2M238 282.5h2.8M239.4 281.1v2.8M238.4 281.5l2 2M238.4 283.4l2 -2M241.1 313.8h2.8M242.5 312.4v2.8M241.5 312.8l2 2M241.5 314.7l2 -2M244.2 278h2.8M245.6 276.6v2.8M244.6 277l2 2M244.6 279l2 -2" fill="none" stroke="#b03030" stroke-width="0.8"/>
<polyline points="158.6,287.8 161.7,268.2 164.8,236 167.9,269.1 171,219.9 174.1,248.1 177.2,367.4 180.3,278 183.5,278 186.6,273.5 189.7,257 192.8,253.4 195.9,300.3 199,255.6 202.1,318.2 205.2,251.6 208.3,286.9 211.4,236.9 214.5,269.1 217.6,367.4 220.7,367.4 223.8,281.6 227,266.8 230.1,269.1 233.2,367.4 236.3,248.9 239.4,257 242.5,300.3 245.6,237.8" fill="none" stroke="#4848b8" stroke-width="0.75"/>
<path d="M157.2 286.4h2.8v2.8h-2.8zM160.3 266.8h2.8v2.8h-2.8zM163.4 234.6h2.8v2.8h-2.8zM166.5 267.7h2.8v2.8h-2.8zM169.6 218.5h2.8v2.8h-2.8zM172.7 246.7h2.8v2.8h-2.8zM175.8 366h2.8v2.8h-2.8zM178.9 276.6h2.8v2.8h-2.8zM182.1 276.6h2.8v2.8h-2.8zM185.2 272.1h2.8v2.8h-2.8zM188.3 255.6h2.8v2.8h-2.8zM191.4 252h2.8v2.8h-2.8zM194.5 298.9h2.8v2.8h-2.8zM197.6 254.2h2.8v2.8h-2.8zM200.7 316.8h2.8v2.8h-2.8zM203.8 250.2h2.8v2.8h-2.8zM206.9 285.5h2.8v2.8h-2.8zM210 235.5h2.8v2.8h-2.8zM213.1 267.7h2.8v2.8h-2.8zM216.2 366h2.8v2.8h-2.8zM219.3 366h2.8v2.8h-2.8zM222.4 280.2h2.8v2.8h-2.8zM225.6 265.4h2.8v2.8h-2.8zM228.7 267.7h2.8v2.8h-2.8zM231.8 366h2.8v2.8h-2.8zM234.9 247.5h2.8v2.8h-2.8zM238 255.6h2.8v2.8h-2.8zM241.1 298.9h2.8v2.8h-2.8zM244.2 236.4h2.8v2.8h-2.8z" fill="none" stroke="#4040b8" stroke-width="0.8"/>
<polyline points="158.6,310.2 161.7,278 164.8,246.7 167.9,295.9 171,219.9 174.1,255.6 177.2,367.4 180.3,248.9 183.5,278 186.6,282.5 189.7,264.6 192.8,260.1 195.9,309.3 199,251.2 202.1,320.5 205.2,253.4 208.3,295.9 211.4,242.2 214.5,273.5 217.6,367.4 220.7,367.4 223.8,291.4 227,264.6 230.1,278 233.2,367.4 236.3,251.2 239.4,264.6 242.5,304.8 245.6,260.1" fill="none" stroke="#3a3a3a" stroke-width="0.75"/>
<polyline points="158.6,324.9 161.7,286.9 164.8,278 167.9,309.3 171,226.6 174.1,264.6 177.2,367.4 180.3,275.8 183.5,280.2 186.6,286.9 189.7,260.1 192.8,264.6 195.9,318.2 199,248.1 202.1,322.7 205.2,260.1 208.3,310.2 211.4,253.4 214.5,278 217.6,367.4 220.7,367.4 223.8,300.3 227,278 230.1,291.4 233.2,367.4 236.3,260.1 239.4,273.5 242.5,313.8 245.6,257.9" fill="none" stroke="#c86060" stroke-width="0.75" stroke-dasharray="3.5,1.3"/>
<path d="M157.2 323.5h2.8v2.8h-2.8zM160.3 285.5h2.8v2.8h-2.8zM163.4 276.6h2.8v2.8h-2.8zM166.5 307.9h2.8v2.8h-2.8zM169.6 225.2h2.8v2.8h-2.8zM172.7 263.2h2.8v2.8h-2.8zM175.8 366h2.8v2.8h-2.8zM178.9 274.4h2.8v2.8h-2.8zM182.1 278.8h2.8v2.8h-2.8zM185.2 285.5h2.8v2.8h-2.8zM188.3 258.7h2.8v2.8h-2.8zM191.4 263.2h2.8v2.8h-2.8zM194.5 316.8h2.8v2.8h-2.8zM197.6 246.7h2.8v2.8h-2.8zM200.7 321.3h2.8v2.8h-2.8zM203.8 258.7h2.8v2.8h-2.8zM206.9 308.8h2.8v2.8h-2.8zM210 252h2.8v2.8h-2.8zM213.1 276.6h2.8v2.8h-2.8zM216.2 366h2.8v2.8h-2.8zM219.3 366h2.8v2.8h-2.8zM222.4 298.9h2.8v2.8h-2.8zM225.6 276.6h2.8v2.8h-2.8zM228.7 290h2.8v2.8h-2.8zM231.8 366h2.8v2.8h-2.8zM234.9 258.7h2.8v2.8h-2.8zM238 272.1h2.8v2.8h-2.8zM241.1 312.4h2.8v2.8h-2.8zM244.2 256.5h2.8v2.8h-2.8z" fill="none" stroke="#d06050" stroke-width="0.8"/>
<polyline points="158.6,309.3 161.7,273.5 164.8,251.2 167.9,295.9 171,237.8 174.1,260.1 177.2,367.4 180.3,273.5 183.5,284.7 186.6,275.8 189.7,264.6 192.8,255.6 195.9,309.3 199,255.6 202.1,318.2 205.2,257.9 208.3,300.3 211.4,246.7 214.5,278 217.6,367.4 220.7,367.4 223.8,286.9 227,273.5 230.1,278 233.2,367.4 236.3,255.6 239.4,264.6 242.5,309.3 245.6,251.2" fill="none" stroke="#4a4aa8" stroke-width="0.75" stroke-dasharray="3.5,1.3"/>
<path d="M157.5 308.2h2.2v2.2h-2.2zM160.6 272.4h2.2v2.2h-2.2zM163.7 250.1h2.2v2.2h-2.2zM166.8 294.8h2.2v2.2h-2.2zM169.9 236.6h2.2v2.2h-2.2zM173 259h2.2v2.2h-2.2zM176.1 366.3h2.2v2.2h-2.2zM179.2 272.4h2.2v2.2h-2.2zM182.3 283.6h2.2v2.2h-2.2zM185.4 274.6h2.2v2.2h-2.2zM188.6 263.5h2.2v2.2h-2.2zM191.7 254.5h2.2v2.2h-2.2zM194.8 308.2h2.2v2.2h-2.2zM197.9 254.5h2.2v2.2h-2.2zM201 317.1h2.2v2.2h-2.2zM204.1 256.8h2.2v2.2h-2.2zM207.2 299.2h2.2v2.2h-2.2zM210.3 245.6h2.2v2.2h-2.2zM213.4 276.9h2.2v2.2h-2.2zM216.5 366.3h2.2v2.2h-2.2zM219.6 366.3h2.2v2.2h-2.2zM222.7 285.8h2.2v2.2h-2.2zM225.8 272.4h2.2v2.2h-2.2zM228.9 276.9h2.2v2.2h-2.2zM232.1 366.3h2.2v2.2h-2.2zM235.2 254.5h2.2v2.2h-2.2zM238.3 263.5h2.2v2.2h-2.2zM241.4 308.2h2.2v2.2h-2.2zM244.5 250.1h2.2v2.2h-2.2z" fill="#202080" stroke="#202080" stroke-width="0.5"/>
<polyline points="158.6,313.8 161.7,282.5 164.8,255.6 167.9,300.3 171,237.8 174.1,260.1 177.2,367.4 180.3,258.8 183.5,297.2 186.6,278 189.7,264.6 192.8,260.1 195.9,321.4 199,222.1 202.1,322.7 205.2,255.6 208.3,300.3 211.4,235.5 214.5,273.5 217.6,367.4 220.7,367.4 223.8,295.9 227,264.6 230.1,282.5 233.2,367.4 236.3,251.2 239.4,269.1 242.5,309.3 245.6,255.6" fill="none" stroke="#505050" stroke-width="0.75" stroke-dasharray="3.5,1.3"/>
<path d="M158.6 312.4l1.4 2.5h-2.8zM161.7 281.1l1.4 2.5h-2.8zM164.8 254.2l1.4 2.5h-2.8zM167.9 298.9l1.4 2.5h-2.8zM171 236.4l1.4 2.5h-2.8zM174.1 258.7l1.4 2.5h-2.8zM177.2 366l1.4 2.5h-2.8zM180.3 257.4l1.4 2.5h-2.8zM183.5 295.8l1.4 2.5h-2.8zM186.6 276.6l1.4 2.5h-2.8zM189.7 263.2l1.4 2.5h-2.8zM192.8 258.7l1.4 2.5h-2.8zM195.9 320l1.4 2.5h-2.8zM199 220.7l1.4 2.5h-2.8zM202.1 321.3l1.4 2.5h-2.8zM205.2 254.2l1.4 2.5h-2.8zM208.3 298.9l1.4 2.5h-2.8zM211.4 234.1l1.4 2.5h-2.8zM214.5 272.1l1.4 2.5h-2.8zM217.6 366l1.4 2.5h-2.8zM220.7 366l1.4 2.5h-2.8zM223.8 294.5l1.4 2.5h-2.8zM227 263.2l1.4 2.5h-2.8zM230.1 281.1l1.4 2.5h-2.8zM233.2 366l1.4 2.5h-2.8zM236.3 249.8l1.4 2.5h-2.8zM239.4 267.7l1.4 2.5h-2.8zM242.5 307.9l1.4 2.5h-2.8zM245.6 254.2l1.4 2.5h-2.8z" fill="none" stroke="#333" stroke-width="0.8"/>
</g>
<path d="M183.5 367.4v-2.0M183.5 218.6v2.0M214.5 367.4v-2.0M214.5 218.6v2.0M245.6 367.4v-2.0M245.6 218.6v2.0M158.6 367.4h2.0M245.6 367.4h-2.0M158.6 345h2.0M245.6 345h-2.0M158.6 322.7h2.0M245.6 322.7h-2.0M158.6 300.3h2.0M245.6 300.3h-2.0M158.6 278h2.0M245.6 278h-2.0M158.6 255.6h2.0M245.6 255.6h-2.0M158.6 233.3h2.0M245.6 233.3h-2.0" stroke="#5a5a5a" stroke-width="0.9" fill="none"/>
<rect x="158.6" y="218.6" width="87" height="148.8" fill="none" stroke="#5a5a5a" stroke-width="1"/>
<text x="183.5" y="376.3" font-size="8.3" text-anchor="middle" fill="#606060">10</text>
<text x="214.5" y="376.3" font-size="8.3" text-anchor="middle" fill="#606060">20</text>
<text x="245.6" y="376.3" font-size="8.3" text-anchor="middle" fill="#606060">30</text>
<text x="156.4" y="370.3" font-size="8.3" text-anchor="end" fill="#606060">0</text>
<text x="156.4" y="347.9" font-size="8.3" text-anchor="end" fill="#606060">0.5</text>
<text x="156.4" y="325.6" font-size="8.3" text-anchor="end" fill="#606060">1</text>
<text x="156.4" y="303.2" font-size="8.3" text-anchor="end" fill="#606060">1.5</text>
<text x="156.4" y="280.9" font-size="8.3" text-anchor="end" fill="#606060">2</text>
<text x="156.4" y="258.5" font-size="8.3" text-anchor="end" fill="#606060">2.5</text>
<text x="156.4" y="236.2" font-size="8.3" text-anchor="end" fill="#606060">3</text>
<text transform="translate(138.2 297.5) rotate(-90)" font-size="7.6" font-weight="bold" text-anchor="middle" fill="#111">Log<tspan font-size="5.2" dy="1.7">e</tspan><tspan dy="-1.7">(Frequency)</tspan></text>
<text x="200.7" y="386.9" font-size="7.55" text-anchor="middle" font-weight="bold" fill="#111">Clonal expansion, as a function</text>
<text x="200.7" y="394.6" font-size="7.55" text-anchor="middle" font-weight="bold" fill="#111">of V segment</text>
<clipPath id="c7"><rect x="288.6" y="218.1" width="87.8" height="149.3"/></clipPath>
<g clip-path="url(#c7)">
<polyline points="288.6,270.6 291.2,367.4 293.9,367.4 296.5,231.4 299.1,367.4 301.7,367.4 304.4,252.1 307,367.4 309.6,367.4 312.3,240.6 314.9,367.4 317.5,367.4 320.1,243.4 322.8,367.4 325.4,367.4 328,244.3 330.7,367.4 333.3,367.4 335.9,242 338.5,367.4 341.2,367.4 343.8,245.2 346.4,367.4 349.1,367.4 351.7,245.2 354.3,367.4 356.9,367.4 359.6,243.9 362.2,367.4 364.8,367.4 367.5,243.9 370.1,367.4 372.7,367.4 375.3,245.2" fill="none" stroke="#2a2a60" stroke-width="1.1"/>
<polyline points="288.6,270.6 291.2,367.4 293.9,367.4 296.5,226.8 299.1,367.4 301.7,367.4 304.4,248.9 307,367.4 309.6,367.4 312.3,240.6 314.9,367.4 317.5,367.4 320.1,243.4 322.8,367.4 325.4,367.4 328,244.3 330.7,367.4 333.3,367.4 335.9,241.5 338.5,367.4 341.2,367.4 343.8,245.2 346.4,367.4 349.1,367.4 351.7,245.2 354.3,367.4 356.9,367.4 359.6,243.9 362.2,367.4 364.8,367.4 367.5,243.9 370.1,367.4 372.7,367.4 375.3,243.9" fill="none" stroke="#c04848" stroke-width="0.75"/>
<path d="M287.3 270.6h2.6M288.6 269.3v2.6M287.7 269.7l1.8 1.8M287.7 271.5l1.8 -1.8M289.9 367.4h2.6M291.2 366.1v2.6M290.3 366.5l1.8 1.8M290.3 368.3l1.8 -1.8M292.6 367.4h2.6M293.9 366.1v2.6M292.9 366.5l1.8 1.8M292.9 368.3l1.8 -1.8M295.2 226.8h2.6M296.5 225.5v2.6M295.6 225.9l1.8 1.8M295.6 227.7l1.8 -1.8M297.8 367.4h2.6M299.1 366.1v2.6M298.2 366.5l1.8 1.8M298.2 368.3l1.8 -1.8M300.4 367.4h2.6M301.7 366.1v2.6M300.8 366.5l1.8 1.8M300.8 368.3l1.8 -1.8M303.1 248.9h2.6M304.4 247.6v2.6M303.5 248l1.8 1.8M303.5 249.8l1.8 -1.8M305.7 367.4h2.6M307 366.1v2.6M306.1 366.5l1.8 1.8M306.1 368.3l1.8 -1.8M308.3 367.4h2.6M309.6 366.1v2.6M308.7 366.5l1.8 1.8M308.7 368.3l1.8 -1.8M311 240.6h2.6M312.3 239.3v2.6M311.3 239.7l1.8 1.8M311.3 241.5l1.8 -1.8M313.6 367.4h2.6M314.9 366.1v2.6M314 366.5l1.8 1.8M314 368.3l1.8 -1.8M316.2 367.4h2.6M317.5 366.1v2.6M316.6 366.5l1.8 1.8M316.6 368.3l1.8 -1.8M318.8 243.4h2.6M320.1 242.1v2.6M319.2 242.5l1.8 1.8M319.2 244.3l1.8 -1.8M321.5 367.4h2.6M322.8 366.1v2.6M321.9 366.5l1.8 1.8M321.9 368.3l1.8 -1.8M324.1 367.4h2.6M325.4 366.1v2.6M324.5 366.5l1.8 1.8M324.5 368.3l1.8 -1.8M326.7 244.3h2.6M328 243v2.6M327.1 243.4l1.8 1.8M327.1 245.2l1.8 -1.8M329.4 367.4h2.6M330.7 366.1v2.6M329.7 366.5l1.8 1.8M329.7 368.3l1.8 -1.8M332 367.4h2.6M333.3 366.1v2.6M332.4 366.5l1.8 1.8M332.4 368.3l1.8 -1.8M334.6 241.5h2.6M335.9 240.2v2.6M335 240.6l1.8 1.8M335 242.5l1.8 -1.8M337.2 367.4h2.6M338.5 366.1v2.6M337.6 366.5l1.8 1.8M337.6 368.3l1.8 -1.8M339.9 367.4h2.6M341.2 366.1v2.6M340.3 366.5l1.8 1.8M340.3 368.3l1.8 -1.8M342.5 245.2h2.6M343.8 243.9v2.6M342.9 244.3l1.8 1.8M342.9 246.1l1.8 -1.8M345.1 367.4h2.6M346.4 366.1v2.6M345.5 366.5l1.8 1.8M345.5 368.3l1.8 -1.8M347.8 367.4h2.6M349.1 366.1v2.6M348.2 366.5l1.8 1.8M348.2 368.3l1.8 -1.8M350.4 245.2h2.6M351.7 243.9v2.6M350.8 244.3l1.8 1.8M350.8 246.1l1.8 -1.8M353 367.4h2.6M354.3 366.1v2.6M353.4 366.5l1.8 1.8M353.4 368.3l1.8 -1.8M355.6 367.4h2.6M356.9 366.1v2.6M356 366.5l1.8 1.8M356 368.3l1.8 -1.8M358.3 243.9h2.6M359.6 242.6v2.6M358.7 242.9l1.8 1.8M358.7 244.8l1.8 -1.8M360.9 367.4h2.6M362.2 366.1v2.6M361.3 366.5l1.8 1.8M361.3 368.3l1.8 -1.8M363.5 367.4h2.6M364.8 366.1v2.6M363.9 366.5l1.8 1.8M363.9 368.3l1.8 -1.8M366.2 243.9h2.6M367.5 242.6v2.6M366.6 242.9l1.8 1.8M366.6 244.8l1.8 -1.8M368.8 367.4h2.6M370.1 366.1v2.6M369.2 366.5l1.8 1.8M369.2 368.3l1.8 -1.8M371.4 367.4h2.6M372.7 366.1v2.6M371.8 366.5l1.8 1.8M371.8 368.3l1.8 -1.8M374 243.9h2.6M375.3 242.6v2.6M374.4 242.9l1.8 1.8M374.4 244.8l1.8 -1.8" fill="none" stroke="#b03030" stroke-width="0.8"/>
<polyline points="288.6,252.1 291.2,367.4 293.9,367.4 296.5,221.7 299.1,367.4 301.7,367.4 304.4,242 307,367.4 309.6,367.4 312.3,228.2 314.9,367.4 317.5,367.4 320.1,232.3 322.8,367.4 325.4,367.4 328,236.9 330.7,367.4 333.3,367.4 335.9,232.3 338.5,367.4 341.2,367.4 343.8,233.7 346.4,367.4 349.1,367.4 351.7,233.7 354.3,367.4 356.9,367.4 359.6,225.9 362.2,367.4 364.8,367.4 367.5,218.5 370.1,367.4 372.7,367.4 375.3,239.2" fill="none" stroke="#4848b8" stroke-width="0.75"/>
<path d="M287.3 250.8h2.6v2.6h-2.6zM289.9 366.1h2.6v2.6h-2.6zM292.6 366.1h2.6v2.6h-2.6zM295.2 220.4h2.6v2.6h-2.6zM297.8 366.1h2.6v2.6h-2.6zM300.4 366.1h2.6v2.6h-2.6zM303.1 240.7h2.6v2.6h-2.6zM305.7 366.1h2.6v2.6h-2.6zM308.3 366.1h2.6v2.6h-2.6zM311 226.9h2.6v2.6h-2.6zM313.6 366.1h2.6v2.6h-2.6zM316.2 366.1h2.6v2.6h-2.6zM318.8 231h2.6v2.6h-2.6zM321.5 366.1h2.6v2.6h-2.6zM324.1 366.1h2.6v2.6h-2.6zM326.7 235.6h2.6v2.6h-2.6zM329.4 366.1h2.6v2.6h-2.6zM332 366.1h2.6v2.6h-2.6zM334.6 231h2.6v2.6h-2.6zM337.2 366.1h2.6v2.6h-2.6zM339.9 366.1h2.6v2.6h-2.6zM342.5 232.4h2.6v2.6h-2.6zM345.1 366.1h2.6v2.6h-2.6zM347.8 366.1h2.6v2.6h-2.6zM350.4 232.4h2.6v2.6h-2.6zM353 366.1h2.6v2.6h-2.6zM355.6 366.1h2.6v2.6h-2.6zM358.3 224.6h2.6v2.6h-2.6zM360.9 366.1h2.6v2.6h-2.6zM363.5 366.1h2.6v2.6h-2.6zM366.2 217.2h2.6v2.6h-2.6zM368.8 366.1h2.6v2.6h-2.6zM371.4 366.1h2.6v2.6h-2.6zM374 237.9h2.6v2.6h-2.6z" fill="none" stroke="#4040b8" stroke-width="0.8"/>
<polyline points="288.6,261.4 291.2,367.4 293.9,367.4 296.5,224.5 299.1,367.4 301.7,367.4 304.4,247.5 307,367.4 309.6,367.4 312.3,231.4 314.9,367.4 317.5,367.4 320.1,233.7 322.8,367.4 325.4,367.4 328,233.7 330.7,367.4 333.3,367.4 335.9,232.3 338.5,367.4 341.2,367.4 343.8,236 346.4,367.4 349.1,367.4 351.7,236 354.3,367.4 356.9,367.4 359.6,231.4 362.2,367.4 364.8,367.4 367.5,224.5 370.1,367.4 372.7,367.4 375.3,226.8" fill="none" stroke="#3a3a3a" stroke-width="0.75"/>
<polyline points="288.6,236 291.2,367.4 293.9,367.4 296.5,229.1 299.1,367.4 301.7,367.4 304.4,249.8 307,367.4 309.6,367.4 312.3,240.6 314.9,367.4 317.5,367.4 320.1,242.9 322.8,367.4 325.4,367.4 328,242.9 330.7,367.4 333.3,367.4 335.9,242 338.5,367.4 341.2,367.4 343.8,245.2 346.4,367.4 349.1,367.4 351.7,245.2 354.3,367.4 356.9,367.4 359.6,242.9 362.2,367.4 364.8,367.4 367.5,242.9 370.1,367.4 372.7,367.4 375.3,245.2" fill="none" stroke="#c86060" stroke-width="0.75" stroke-dasharray="3.5,1.3"/>
<path d="M287.3 234.7h2.6v2.6h-2.6zM289.9 366.1h2.6v2.6h-2.6zM292.6 366.1h2.6v2.6h-2.6zM295.2 227.8h2.6v2.6h-2.6zM297.8 366.1h2.6v2.6h-2.6zM300.4 366.1h2.6v2.6h-2.6zM303.1 248.5h2.6v2.6h-2.6zM305.7 366.1h2.6v2.6h-2.6zM308.3 366.1h2.6v2.6h-2.6zM311 239.3h2.6v2.6h-2.6zM313.6 366.1h2.6v2.6h-2.6zM316.2 366.1h2.6v2.6h-2.6zM318.8 241.6h2.6v2.6h-2.6zM321.5 366.1h2.6v2.6h-2.6zM324.1 366.1h2.6v2.6h-2.6zM326.7 241.6h2.6v2.6h-2.6zM329.4 366.1h2.6v2.6h-2.6zM332 366.1h2.6v2.6h-2.6zM334.6 240.7h2.6v2.6h-2.6zM337.2 366.1h2.6v2.6h-2.6zM339.9 366.1h2.6v2.6h-2.6zM342.5 243.9h2.6v2.6h-2.6zM345.1 366.1h2.6v2.6h-2.6zM347.8 366.1h2.6v2.6h-2.6zM350.4 243.9h2.6v2.6h-2.6zM353 366.1h2.6v2.6h-2.6zM355.6 366.1h2.6v2.6h-2.6zM358.3 241.6h2.6v2.6h-2.6zM360.9 366.1h2.6v2.6h-2.6zM363.5 366.1h2.6v2.6h-2.6zM366.2 241.6h2.6v2.6h-2.6zM368.8 366.1h2.6v2.6h-2.6zM371.4 366.1h2.6v2.6h-2.6zM374 243.9h2.6v2.6h-2.6z" fill="none" stroke="#d06050" stroke-width="0.8"/>
<polyline points="288.6,252.1 291.2,367.4 293.9,367.4 296.5,229.1 299.1,367.4 301.7,367.4 304.4,247.5 307,367.4 309.6,367.4 312.3,233.7 314.9,367.4 317.5,367.4 320.1,238.3 322.8,367.4 325.4,367.4 328,236 330.7,367.4 333.3,367.4 335.9,236 338.5,367.4 341.2,367.4 343.8,238.3 346.4,367.4 349.1,367.4 351.7,238.3 354.3,367.4 356.9,367.4 359.6,233.7 362.2,367.4 364.8,367.4 367.5,229.1 370.1,367.4 372.7,367.4 375.3,233.7" fill="none" stroke="#4a4aa8" stroke-width="0.75" stroke-dasharray="3.5,1.3"/>
<path d="M287.6 251.1h2.1v2.1h-2.1zM290.2 366.4h2.1v2.1h-2.1zM292.8 366.4h2.1v2.1h-2.1zM295.4 228.1h2.1v2.1h-2.1zM298.1 366.4h2.1v2.1h-2.1zM300.7 366.4h2.1v2.1h-2.1zM303.3 246.5h2.1v2.1h-2.1zM306 366.4h2.1v2.1h-2.1zM308.6 366.4h2.1v2.1h-2.1zM311.2 232.7h2.1v2.1h-2.1zM313.8 366.4h2.1v2.1h-2.1zM316.5 366.4h2.1v2.1h-2.1zM319.1 237.3h2.1v2.1h-2.1zM321.7 366.4h2.1v2.1h-2.1zM324.4 366.4h2.1v2.1h-2.1zM327 235h2.1v2.1h-2.1zM329.6 366.4h2.1v2.1h-2.1zM332.2 366.4h2.1v2.1h-2.1zM334.9 235h2.1v2.1h-2.1zM337.5 366.4h2.1v2.1h-2.1zM340.1 366.4h2.1v2.1h-2.1zM342.8 237.3h2.1v2.1h-2.1zM345.4 366.4h2.1v2.1h-2.1zM348 366.4h2.1v2.1h-2.1zM350.6 237.3h2.1v2.1h-2.1zM353.3 366.4h2.1v2.1h-2.1zM355.9 366.4h2.1v2.1h-2.1zM358.5 232.7h2.1v2.1h-2.1zM361.2 366.4h2.1v2.1h-2.1zM363.8 366.4h2.1v2.1h-2.1zM366.4 228.1h2.1v2.1h-2.1zM369.1 366.4h2.1v2.1h-2.1zM371.7 366.4h2.1v2.1h-2.1zM374.3 232.7h2.1v2.1h-2.1z" fill="#202080" stroke="#202080" stroke-width="0.5"/>
<polyline points="288.6,256.8 291.2,367.4 293.9,367.4 296.5,231.4 299.1,367.4 301.7,367.4 304.4,252.1 307,367.4 309.6,367.4 312.3,236 314.9,367.4 317.5,367.4 320.1,238.3 322.8,367.4 325.4,367.4 328,236 330.7,367.4 333.3,367.4 335.9,238.3 338.5,367.4 341.2,367.4 343.8,238.3 346.4,367.4 349.1,367.4 351.7,238.3 354.3,367.4 356.9,367.4 359.6,236 362.2,367.4 364.8,367.4 367.5,231.4 370.1,367.4 372.7,367.4 375.3,229.1" fill="none" stroke="#505050" stroke-width="0.75" stroke-dasharray="3.5,1.3"/>
<path d="M288.6 255.5l1.3 2.3h-2.6zM291.2 366.1l1.3 2.3h-2.6zM293.9 366.1l1.3 2.3h-2.6zM296.5 230.1l1.3 2.3h-2.6zM299.1 366.1l1.3 2.3h-2.6zM301.7 366.1l1.3 2.3h-2.6zM304.4 250.8l1.3 2.3h-2.6zM307 366.1l1.3 2.3h-2.6zM309.6 366.1l1.3 2.3h-2.6zM312.3 234.7l1.3 2.3h-2.6zM314.9 366.1l1.3 2.3h-2.6zM317.5 366.1l1.3 2.3h-2.6zM320.1 237l1.3 2.3h-2.6zM322.8 366.1l1.3 2.3h-2.6zM325.4 366.1l1.3 2.3h-2.6zM328 234.7l1.3 2.3h-2.6zM330.7 366.1l1.3 2.3h-2.6zM333.3 366.1l1.3 2.3h-2.6zM335.9 237l1.3 2.3h-2.6zM338.5 366.1l1.3 2.3h-2.6zM341.2 366.1l1.3 2.3h-2.6zM343.8 237l1.3 2.3h-2.6zM346.4 366.1l1.3 2.3h-2.6zM349.1 366.1l1.3 2.3h-2.6zM351.7 237l1.3 2.3h-2.6zM354.3 366.1l1.3 2.3h-2.6zM356.9 366.1l1.3 2.3h-2.6zM359.6 234.7l1.3 2.3h-2.6zM362.2 366.1l1.3 2.3h-2.6zM364.8 366.1l1.3 2.3h-2.6zM367.5 230.1l1.3 2.3h-2.6zM370.1 366.1l1.3 2.3h-2.6zM372.7 366.1l1.3 2.3h-2.6zM375.3 227.8l1.3 2.3h-2.6z" fill="none" stroke="#333" stroke-width="0.8"/>
<path d="M289.4 365.5h3.6v3h-3.6zM292.1 365.5h3.6v3h-3.6zM297.3 365.5h3.6v3h-3.6zM299.9 365.5h3.6v3h-3.6zM305.2 365.5h3.6v3h-3.6zM307.8 365.5h3.6v3h-3.6zM313.1 365.5h3.6v3h-3.6zM315.7 365.5h3.6v3h-3.6zM321 365.5h3.6v3h-3.6zM323.6 365.5h3.6v3h-3.6zM328.9 365.5h3.6v3h-3.6zM331.5 365.5h3.6v3h-3.6zM336.7 365.5h3.6v3h-3.6zM339.4 365.5h3.6v3h-3.6zM344.6 365.5h3.6v3h-3.6zM347.3 365.5h3.6v3h-3.6zM352.5 365.5h3.6v3h-3.6zM355.1 365.5h3.6v3h-3.6zM360.4 365.5h3.6v3h-3.6zM363 365.5h3.6v3h-3.6zM368.3 365.5h3.6v3h-3.6zM370.9 365.5h3.6v3h-3.6z" fill="#601830"/>
</g>
<path d="M288.6 367.4v-2.0M288.6 218.6v2.0M341.2 367.4v-2.0M341.2 218.6v2.0M288.6 367.4h2.0M376.4 367.4h-2.0M288.6 344.3h2.0M376.4 344.3h-2.0M288.6 321.3h2.0M376.4 321.3h-2.0M288.6 298.2h2.0M376.4 298.2h-2.0M288.6 275.2h2.0M376.4 275.2h-2.0M288.6 252.1h2.0M376.4 252.1h-2.0M288.6 229.1h2.0M376.4 229.1h-2.0" stroke="#5a5a5a" stroke-width="0.9" fill="none"/>
<rect x="288.6" y="218.6" width="87.8" height="148.8" fill="none" stroke="#5a5a5a" stroke-width="1"/>
<text x="288.6" y="376.3" font-size="8.3" text-anchor="middle" fill="#606060">20</text>
<text x="341.2" y="376.3" font-size="8.3" text-anchor="middle" fill="#606060">40</text>
<text x="286.4" y="370.3" font-size="8.3" text-anchor="end" fill="#606060">0</text>
<text x="286.4" y="347.2" font-size="8.3" text-anchor="end" fill="#606060">0.5</text>
<text x="286.4" y="324.2" font-size="8.3" text-anchor="end" fill="#606060">1</text>
<text x="286.4" y="301.1" font-size="8.3" text-anchor="end" fill="#606060">1.5</text>
<text x="286.4" y="278.1" font-size="8.3" text-anchor="end" fill="#606060">2</text>
<text x="286.4" y="255" font-size="8.3" text-anchor="end" fill="#606060">2.5</text>
<text x="286.4" y="232" font-size="8.3" text-anchor="end" fill="#606060">3</text>
<text transform="translate(268.7 298) rotate(-90)" font-size="7.6" font-weight="bold" text-anchor="middle" fill="#111">Log<tspan font-size="5.2" dy="1.7">e</tspan><tspan dy="-1.7">(Frequency)</tspan></text>
<text x="331.1" y="386.9" font-size="7.55" text-anchor="middle" font-weight="bold" fill="#111">Clonal expansion, as a function</text>
<text x="331.1" y="394.6" font-size="7.55" text-anchor="middle" font-weight="bold" fill="#111">of length of CDR3</text>
<clipPath id="c8"><rect x="419" y="218.1" width="88" height="149.3"/></clipPath>
<g clip-path="url(#c8)">
<polyline points="420.4,259.1 421.7,252.9 423.1,242.3 424.4,238.8 425.8,239.4 427.1,244.2 428.5,249.9 429.8,250.6 431.2,255.9 432.5,255.6 433.9,260.3 435.2,262.4 436.6,262 438,261.2 439.3,267.7 440.7,268.8 442,268 443.4,267.7 444.7,272 446.1,275 447.4,273 448.8,281 450.1,277.4 451.5,283 452.8,285.8 454.2,287.8 455.6,288.4 456.9,286.8 458.3,292.8 459.6,292 461,293.7 462.3,297.4 463.7,298.3 465,303.5 466.4,305.5 467.7,306.6 469.1,305.4 470.4,309.1 471.8,311.9 473.2,312.1 474.5,315.1 475.9,318.3 477.2,317.3 478.6,320.1 479.9,325.3 481.3,324.9 482.6,327.1 484,326.6 485.3,329.4 486.7,334.1 488,331.1 489.4,338.3 490.8,367.4 492.1,341.8 493.5,367.4 494.8,341.9 496.2,341.8 497.5,367.4 498.9,343.2 500.2,345.5 501.6,344.6 502.9,349.3 504.3,347.9" fill="none" stroke="#c04848" stroke-width="0.75"/>
<path d="M419.1 259.1h2.5M420.4 257.8v2.5M419.5 258.2l1.8 1.8M419.5 259.9l1.8 -1.8M420.5 252.9h2.5M421.7 251.6v2.5M420.8 252l1.8 1.8M420.8 253.8l1.8 -1.8M421.8 242.3h2.5M423.1 241.1v2.5M422.2 241.4l1.8 1.8M422.2 243.2l1.8 -1.8M423.2 238.8h2.5M424.4 237.6v2.5M423.5 237.9l1.8 1.8M423.5 239.7l1.8 -1.8M424.5 239.4h2.5M425.8 238.2v2.5M424.9 238.5l1.8 1.8M424.9 240.3l1.8 -1.8M425.9 244.2h2.5M427.1 242.9v2.5M426.2 243.3l1.8 1.8M426.2 245.1l1.8 -1.8M427.2 249.9h2.5M428.5 248.6v2.5M427.6 249l1.8 1.8M427.6 250.7l1.8 -1.8M428.6 250.6h2.5M429.8 249.3v2.5M429 249.7l1.8 1.8M429 251.4l1.8 -1.8M429.9 255.9h2.5M431.2 254.7v2.5M430.3 255l1.8 1.8M430.3 256.8l1.8 -1.8M431.3 255.6h2.5M432.5 254.3v2.5M431.7 254.7l1.8 1.8M431.7 256.5l1.8 -1.8M432.6 260.3h2.5M433.9 259v2.5M433 259.4l1.8 1.8M433 261.1l1.8 -1.8M434 262.4h2.5M435.2 261.2v2.5M434.4 261.5l1.8 1.8M434.4 263.3l1.8 -1.8M435.4 262h2.5M436.6 260.8v2.5M435.7 261.2l1.8 1.8M435.7 262.9l1.8 -1.8M436.7 261.2h2.5M438 260v2.5M437.1 260.4l1.8 1.8M437.1 262.1l1.8 -1.8M438.1 267.7h2.5M439.3 266.4v2.5M438.4 266.8l1.8 1.8M438.4 268.5l1.8 -1.8M439.4 268.8h2.5M440.7 267.6v2.5M439.8 268l1.8 1.8M439.8 269.7l1.8 -1.8M440.8 268h2.5M442 266.8v2.5M441.1 267.1l1.8 1.8M441.1 268.9l1.8 -1.8M442.1 267.7h2.5M443.4 266.5v2.5M442.5 266.9l1.8 1.8M442.5 268.6l1.8 -1.8M443.5 272h2.5M444.7 270.7v2.5M443.8 271.1l1.8 1.8M443.8 272.9l1.8 -1.8M444.8 275h2.5M446.1 273.8v2.5M445.2 274.1l1.8 1.8M445.2 275.9l1.8 -1.8M446.2 273h2.5M447.4 271.8v2.5M446.6 272.1l1.8 1.8M446.6 273.9l1.8 -1.8M447.5 281h2.5M448.8 279.7v2.5M447.9 280.1l1.8 1.8M447.9 281.8l1.8 -1.8M448.9 277.4h2.5M450.1 276.2v2.5M449.3 276.6l1.8 1.8M449.3 278.3l1.8 -1.8M450.2 283h2.5M451.5 281.8v2.5M450.6 282.1l1.8 1.8M450.6 283.9l1.8 -1.8M451.6 285.8h2.5M452.8 284.5v2.5M452 284.9l1.8 1.8M452 286.7l1.8 -1.8M452.9 287.8h2.5M454.2 286.5v2.5M453.3 286.9l1.8 1.8M453.3 288.7l1.8 -1.8M454.3 288.4h2.5M455.6 287.1v2.5M454.7 287.5l1.8 1.8M454.7 289.2l1.8 -1.8M455.7 286.8h2.5M456.9 285.6v2.5M456 286l1.8 1.8M456 287.7l1.8 -1.8M457 292.8h2.5M458.3 291.6v2.5M457.4 292l1.8 1.8M457.4 293.7l1.8 -1.8M458.4 292h2.5M459.6 290.8v2.5M458.7 291.2l1.8 1.8M458.7 292.9l1.8 -1.8M459.7 293.7h2.5M461 292.4v2.5M460.1 292.8l1.8 1.8M460.1 294.5l1.8 -1.8M461.1 297.4h2.5M462.3 296.2v2.5M461.4 296.6l1.8 1.8M461.4 298.3l1.8 -1.8M462.4 298.3h2.5M463.7 297v2.5M462.8 297.4l1.8 1.8M462.8 299.2l1.8 -1.8M463.8 303.5h2.5M465 302.2v2.5M464.2 302.6l1.8 1.8M464.2 304.4l1.8 -1.8M465.1 305.5h2.5M466.4 304.3v2.5M465.5 304.6l1.8 1.8M465.5 306.4l1.8 -1.8M466.5 306.6h2.5M467.7 305.3v2.5M466.9 305.7l1.8 1.8M466.9 307.4l1.8 -1.8M467.8 305.4h2.5M469.1 304.2v2.5M468.2 304.6l1.8 1.8M468.2 306.3l1.8 -1.8M469.2 309.1h2.5M470.4 307.9v2.5M469.6 308.2l1.8 1.8M469.6 310l1.8 -1.8M470.6 311.9h2.5M471.8 310.6v2.5M470.9 311l1.8 1.8M470.9 312.7l1.8 -1.8M471.9 312.1h2.5M473.2 310.8v2.5M472.3 311.2l1.8 1.8M472.3 313l1.8 -1.8M473.3 315.1h2.5M474.5 313.9v2.5M473.6 314.3l1.8 1.8M473.6 316l1.8 -1.8M474.6 318.3h2.5M475.9 317.1v2.5M475 317.5l1.8 1.8M475 319.2l1.8 -1.8M476 317.3h2.5M477.2 316v2.5M476.3 316.4l1.8 1.8M476.3 318.2l1.8 -1.8M477.3 320.1h2.5M478.6 318.9v2.5M477.7 319.2l1.8 1.8M477.7 321l1.8 -1.8M478.7 325.3h2.5M479.9 324v2.5M479 324.4l1.8 1.8M479 326.2l1.8 -1.8M480 324.9h2.5M481.3 323.7v2.5M480.4 324.1l1.8 1.8M480.4 325.8l1.8 -1.8M481.4 327.1h2.5M482.6 325.8v2.5M481.8 326.2l1.8 1.8M481.8 328l1.8 -1.8M482.7 326.6h2.5M484 325.4v2.5M483.1 325.7l1.8 1.8M483.1 327.5l1.8 -1.8M484.1 329.4h2.5M485.3 328.1v2.5M484.5 328.5l1.8 1.8M484.5 330.3l1.8 -1.8M485.4 334.1h2.5M486.7 332.9v2.5M485.8 333.2l1.8 1.8M485.8 335l1.8 -1.8M486.8 331.1h2.5M488 329.8v2.5M487.2 330.2l1.8 1.8M487.2 332l1.8 -1.8M488.1 338.3h2.5M489.4 337v2.5M488.5 337.4l1.8 1.8M488.5 339.2l1.8 -1.8M489.5 367.4h2.5M490.8 366.1v2.5M489.9 366.5l1.8 1.8M489.9 368.3l1.8 -1.8M490.9 341.8h2.5M492.1 340.6v2.5M491.2 341l1.8 1.8M491.2 342.7l1.8 -1.8M492.2 367.4h2.5M493.5 366.1v2.5M492.6 366.5l1.8 1.8M492.6 368.3l1.8 -1.8M493.6 341.9h2.5M494.8 340.7v2.5M493.9 341l1.8 1.8M493.9 342.8l1.8 -1.8M494.9 341.8h2.5M496.2 340.6v2.5M495.3 341l1.8 1.8M495.3 342.7l1.8 -1.8M496.3 367.4h2.5M497.5 366.1v2.5M496.6 366.5l1.8 1.8M496.6 368.3l1.8 -1.8M497.6 343.2h2.5M498.9 342v2.5M498 342.4l1.8 1.8M498 344.1l1.8 -1.8M499 345.5h2.5M500.2 344.3v2.5M499.4 344.7l1.8 1.8M499.4 346.4l1.8 -1.8M500.3 344.6h2.5M501.6 343.3v2.5M500.7 343.7l1.8 1.8M500.7 345.5l1.8 -1.8M501.7 349.3h2.5M502.9 348.1v2.5M502.1 348.5l1.8 1.8M502.1 350.2l1.8 -1.8M503 347.9h2.5M504.3 346.6v2.5M503.4 347l1.8 1.8M503.4 348.7l1.8 -1.8" fill="none" stroke="#b03030" stroke-width="0.8"/>
<polyline points="420.4,239 421.7,229.1 423.1,219.9 424.4,221.6 425.8,225.2 427.1,232.5 428.5,228.5 429.8,229.8 431.2,222.8 432.5,220.4 433.9,223.6 435.2,230.2 436.6,239.2 438,244.1 439.3,244 440.7,250.1 442,249 443.4,252.8 444.7,254.9 446.1,257.1 447.4,254.3 448.8,260.3 450.1,261.1 451.5,261.7 452.8,260.1 454.2,266.8 455.6,265.9 456.9,266.8 458.3,266.2 459.6,268.1 461,269.4 462.3,275.5 463.7,276.8 465,279.4 466.4,278.2 467.7,279.9 469.1,287.5 470.4,289.5 471.8,291.4 473.2,293.6 474.5,294.2 475.9,295.8 477.2,274 478.6,312.6 479.9,303.6 481.3,306.2 482.6,308.6 484,309.7 485.3,315 486.7,267 488,323.6 489.4,323.7 490.8,330.2 492.1,327.1 493.5,312.6 494.8,332.1 496.2,276.1 497.5,341.8 498.9,367.4 500.2,341.8 501.6,367.4 502.9,341.8 504.3,344.7" fill="none" stroke="#4848b8" stroke-width="0.75"/>
<path d="M419.1 237.8h2.5v2.5h-2.5zM420.5 227.8h2.5v2.5h-2.5zM421.8 218.6h2.5v2.5h-2.5zM423.2 220.3h2.5v2.5h-2.5zM424.5 223.9h2.5v2.5h-2.5zM425.9 231.3h2.5v2.5h-2.5zM427.2 227.3h2.5v2.5h-2.5zM428.6 228.5h2.5v2.5h-2.5zM429.9 221.6h2.5v2.5h-2.5zM431.3 219.2h2.5v2.5h-2.5zM432.6 222.4h2.5v2.5h-2.5zM434 229h2.5v2.5h-2.5zM435.4 238h2.5v2.5h-2.5zM436.7 242.8h2.5v2.5h-2.5zM438.1 242.8h2.5v2.5h-2.5zM439.4 248.8h2.5v2.5h-2.5zM440.8 247.8h2.5v2.5h-2.5zM442.1 251.5h2.5v2.5h-2.5zM443.5 253.7h2.5v2.5h-2.5zM444.8 255.9h2.5v2.5h-2.5zM446.2 253.1h2.5v2.5h-2.5zM447.5 259.1h2.5v2.5h-2.5zM448.9 259.8h2.5v2.5h-2.5zM450.2 260.4h2.5v2.5h-2.5zM451.6 258.8h2.5v2.5h-2.5zM452.9 265.6h2.5v2.5h-2.5zM454.3 264.7h2.5v2.5h-2.5zM455.7 265.6h2.5v2.5h-2.5zM457 264.9h2.5v2.5h-2.5zM458.4 266.9h2.5v2.5h-2.5zM459.7 268.1h2.5v2.5h-2.5zM461.1 274.2h2.5v2.5h-2.5zM462.4 275.5h2.5v2.5h-2.5zM463.8 278.2h2.5v2.5h-2.5zM465.1 276.9h2.5v2.5h-2.5zM466.5 278.7h2.5v2.5h-2.5zM467.8 286.2h2.5v2.5h-2.5zM469.2 288.3h2.5v2.5h-2.5zM470.6 290.2h2.5v2.5h-2.5zM471.9 292.4h2.5v2.5h-2.5zM473.3 293h2.5v2.5h-2.5zM474.6 294.5h2.5v2.5h-2.5zM476 272.7h2.5v2.5h-2.5zM477.3 311.4h2.5v2.5h-2.5zM478.7 302.4h2.5v2.5h-2.5zM480 305h2.5v2.5h-2.5zM481.4 307.3h2.5v2.5h-2.5zM482.7 308.4h2.5v2.5h-2.5zM484.1 313.8h2.5v2.5h-2.5zM485.4 265.8h2.5v2.5h-2.5zM486.8 322.3h2.5v2.5h-2.5zM488.1 322.4h2.5v2.5h-2.5zM489.5 328.9h2.5v2.5h-2.5zM490.9 325.8h2.5v2.5h-2.5zM492.2 311.4h2.5v2.5h-2.5zM493.6 330.8h2.5v2.5h-2.5zM494.9 274.9h2.5v2.5h-2.5zM496.3 340.6h2.5v2.5h-2.5zM497.6 366.1h2.5v2.5h-2.5zM499 340.6h2.5v2.5h-2.5zM500.3 366.1h2.5v2.5h-2.5zM501.7 340.6h2.5v2.5h-2.5zM503 343.4h2.5v2.5h-2.5z" fill="none" stroke="#4040b8" stroke-width="0.8"/>
<polyline points="420.4,248.9 421.7,245.1 423.1,239.8 424.4,237.6 425.8,233.8 427.1,233.9 428.5,235.3 429.8,234.7 431.2,238 432.5,233.5 433.9,237.1 435.2,242 436.6,243.1 438,244.3 439.3,246 440.7,249.2 442,246 443.4,246.6 444.7,251.6 446.1,253.1 447.4,257.2 448.8,258.7 450.1,258.7 451.5,260.8 452.8,258.7 454.2,264.7 455.6,267.2 456.9,262.7 458.3,267.1 459.6,271.2 461,270.6 462.3,276.1 463.7,274.8 465,273.9 466.4,276.7 467.7,279.9 469.1,284.8 470.4,286.2 471.8,290.1 473.2,288.7 474.5,292.9 475.9,293.9 477.2,299.4 478.6,302.7 479.9,301.5 481.3,305.2 482.6,310.9 484,316.1 485.3,320.1 486.7,324.8 488,332.2 489.4,334.4 490.8,337.3 492.1,341.3 493.5,343.1 494.8,367.4 496.2,341.8 497.5,342.7 498.9,342 500.2,367.4 501.6,344.2 502.9,344.9 504.3,346.2" fill="none" stroke="#3a3a3a" stroke-width="0.75"/>
<polyline points="420.4,251.5 421.7,246.4 423.1,240.2 424.4,234.3 425.8,236.1 427.1,235.2 428.5,235.2 429.8,237.4 431.2,241.6 432.5,242.3 433.9,243.5 435.2,250.4 436.6,248.8 438,249.4 439.3,252.4 440.7,254.7 442,258.6 443.4,262.6 444.7,260.7 446.1,265.8 447.4,264.8 448.8,265.8 450.1,270.9 451.5,272.2 452.8,270 454.2,272.8 455.6,277.9 456.9,279.5 458.3,280.7 459.6,277.1 461,279.2 462.3,285 463.7,282 465,282.5 466.4,286.1 467.7,289.5 469.1,289.7 470.4,293.9 471.8,296.1 473.2,291.3 474.5,295.8 475.9,299.1 477.2,298.9 478.6,304.6 479.9,304.1 481.3,306.9 482.6,313.6 484,316.1 485.3,318.6 486.7,321.7 488,321.2 489.4,274.3 490.8,323.6 492.1,367.4 493.5,341.8 494.8,301.7 496.2,367.4 497.5,341.8 498.9,367.4 500.2,339.8 501.6,338.6 502.9,343.4 504.3,345.3" fill="none" stroke="#c86060" stroke-width="0.75" stroke-dasharray="3.5,1.3"/>
<path d="M419.1 250.2h2.5v2.5h-2.5zM420.5 245.1h2.5v2.5h-2.5zM421.8 239h2.5v2.5h-2.5zM423.2 233.1h2.5v2.5h-2.5zM424.5 234.9h2.5v2.5h-2.5zM425.9 233.9h2.5v2.5h-2.5zM427.2 233.9h2.5v2.5h-2.5zM428.6 236.2h2.5v2.5h-2.5zM429.9 240.4h2.5v2.5h-2.5zM431.3 241h2.5v2.5h-2.5zM432.6 242.3h2.5v2.5h-2.5zM434 249.2h2.5v2.5h-2.5zM435.4 247.6h2.5v2.5h-2.5zM436.7 248.1h2.5v2.5h-2.5zM438.1 251.1h2.5v2.5h-2.5zM439.4 253.4h2.5v2.5h-2.5zM440.8 257.3h2.5v2.5h-2.5zM442.1 261.4h2.5v2.5h-2.5zM443.5 259.4h2.5v2.5h-2.5zM444.8 264.5h2.5v2.5h-2.5zM446.2 263.5h2.5v2.5h-2.5zM447.5 264.5h2.5v2.5h-2.5zM448.9 269.7h2.5v2.5h-2.5zM450.2 271h2.5v2.5h-2.5zM451.6 268.8h2.5v2.5h-2.5zM452.9 271.6h2.5v2.5h-2.5zM454.3 276.6h2.5v2.5h-2.5zM455.7 278.3h2.5v2.5h-2.5zM457 279.5h2.5v2.5h-2.5zM458.4 275.9h2.5v2.5h-2.5zM459.7 278h2.5v2.5h-2.5zM461.1 283.8h2.5v2.5h-2.5zM462.4 280.8h2.5v2.5h-2.5zM463.8 281.2h2.5v2.5h-2.5zM465.1 284.8h2.5v2.5h-2.5zM466.5 288.3h2.5v2.5h-2.5zM467.8 288.5h2.5v2.5h-2.5zM469.2 292.7h2.5v2.5h-2.5zM470.6 294.9h2.5v2.5h-2.5zM471.9 290.1h2.5v2.5h-2.5zM473.3 294.6h2.5v2.5h-2.5zM474.6 297.8h2.5v2.5h-2.5zM476 297.6h2.5v2.5h-2.5zM477.3 303.3h2.5v2.5h-2.5zM478.7 302.9h2.5v2.5h-2.5zM480 305.6h2.5v2.5h-2.5zM481.4 312.4h2.5v2.5h-2.5zM482.7 314.9h2.5v2.5h-2.5zM484.1 317.3h2.5v2.5h-2.5zM485.4 320.4h2.5v2.5h-2.5zM486.8 320h2.5v2.5h-2.5zM488.1 273.1h2.5v2.5h-2.5zM489.5 322.3h2.5v2.5h-2.5zM490.9 366.1h2.5v2.5h-2.5zM492.2 340.6h2.5v2.5h-2.5zM493.6 300.4h2.5v2.5h-2.5zM494.9 366.1h2.5v2.5h-2.5zM496.3 340.6h2.5v2.5h-2.5zM497.6 366.1h2.5v2.5h-2.5zM499 338.5h2.5v2.5h-2.5zM500.3 337.3h2.5v2.5h-2.5zM501.7 342.2h2.5v2.5h-2.5zM503 344h2.5v2.5h-2.5z" fill="none" stroke="#d06050" stroke-width="0.8"/>
<polyline points="420.4,290.6 421.7,341.8 423.1,225.4 424.4,238.1 425.8,250.2 427.1,255.9 428.5,261 429.8,259.9 431.2,259.2 432.5,261.2 433.9,263.8 435.2,263.6 436.6,264.5 438,264.1 439.3,269.6 440.7,268.7 442,272.8 443.4,274.7 444.7,273.6 446.1,277.4 447.4,279.1 448.8,279.9 450.1,281 451.5,286.1 452.8,287 454.2,289.8 455.6,291.8 456.9,292.7 458.3,296.3 459.6,297.8 461,300 462.3,298.8 463.7,302.2 465,302.9 466.4,304.3 467.7,310.6 469.1,310.4 470.4,309.7 471.8,312.2 473.2,318.7 474.5,320.9 475.9,320.9 477.2,325.5 478.6,326.5 479.9,329.8 481.3,328 482.6,329 484,330.1 485.3,336.8 486.7,335 488,336.2 489.4,340.5 490.8,336.6 492.1,337 493.5,367.4 494.8,341.8 496.2,343.6 497.5,367.4 498.9,341.8 500.2,341.8 501.6,349.3 502.9,348.6 504.3,349" fill="none" stroke="#4a4aa8" stroke-width="0.75" stroke-dasharray="3.5,1.3"/>
<path d="M419.4 289.6h2v2h-2zM420.7 340.8h2v2h-2zM422.1 224.4h2v2h-2zM423.4 237.1h2v2h-2zM424.8 249.2h2v2h-2zM426.1 254.9h2v2h-2zM427.5 260h2v2h-2zM428.8 258.9h2v2h-2zM430.2 258.2h2v2h-2zM431.5 260.2h2v2h-2zM432.9 262.8h2v2h-2zM434.2 262.6h2v2h-2zM435.6 263.5h2v2h-2zM437 263.1h2v2h-2zM438.3 268.6h2v2h-2zM439.7 267.7h2v2h-2zM441 271.8h2v2h-2zM442.4 273.7h2v2h-2zM443.7 272.6h2v2h-2zM445.1 276.4h2v2h-2zM446.4 278.1h2v2h-2zM447.8 278.9h2v2h-2zM449.1 280h2v2h-2zM450.5 285.1h2v2h-2zM451.8 286h2v2h-2zM453.2 288.8h2v2h-2zM454.6 290.8h2v2h-2zM455.9 291.7h2v2h-2zM457.3 295.3h2v2h-2zM458.6 296.8h2v2h-2zM460 299h2v2h-2zM461.3 297.8h2v2h-2zM462.7 301.2h2v2h-2zM464 301.9h2v2h-2zM465.4 303.3h2v2h-2zM466.7 309.6h2v2h-2zM468.1 309.4h2v2h-2zM469.4 308.7h2v2h-2zM470.8 311.2h2v2h-2zM472.2 317.7h2v2h-2zM473.5 319.9h2v2h-2zM474.9 319.9h2v2h-2zM476.2 324.5h2v2h-2zM477.6 325.5h2v2h-2zM478.9 328.8h2v2h-2zM480.3 327h2v2h-2zM481.6 328h2v2h-2zM483 329.1h2v2h-2zM484.3 335.8h2v2h-2zM485.7 334h2v2h-2zM487 335.2h2v2h-2zM488.4 339.5h2v2h-2zM489.8 335.6h2v2h-2zM491.1 336h2v2h-2zM492.5 366.4h2v2h-2zM493.8 340.8h2v2h-2zM495.2 342.6h2v2h-2zM496.5 366.4h2v2h-2zM497.9 340.8h2v2h-2zM499.2 340.8h2v2h-2zM500.6 348.3h2v2h-2zM501.9 347.6h2v2h-2zM503.3 348h2v2h-2z" fill="#202080" stroke="#202080" stroke-width="0.5"/>
<polyline points="420.4,306.4 421.7,274.5 423.1,240.8 424.4,239.3 425.8,245 427.1,242.6 428.5,244.4 429.8,248.3 431.2,247 432.5,245.9 433.9,247.4 435.2,251.1 436.6,245.8 438,247.9 439.3,247.5 440.7,254.8 442,255.3 443.4,258.3 444.7,255 446.1,259.9 447.4,262.4 448.8,262.1 450.1,260.4 451.5,262.6 452.8,267.9 454.2,270.2 455.6,266.8 456.9,270.7 458.3,271.4 459.6,277 461,279.3 462.3,277.2 463.7,281 465,285.3 466.4,281.7 467.7,285.8 469.1,286.7 470.4,293.5 471.8,291 473.2,298.8 474.5,296.2 475.9,301.5 477.2,304.8 478.6,306 479.9,306.2 481.3,314.2 482.6,318.7 484,319.8 485.3,325.3 486.7,329.8 488,331.3 489.4,333.9 490.8,334.7 492.1,341.8 493.5,337.7 494.8,336.5 496.2,341.1 497.5,341.3 498.9,367.4 500.2,345.5 501.6,341.8 502.9,349.2 504.3,352.3" fill="none" stroke="#505050" stroke-width="0.75" stroke-dasharray="3.5,1.3"/>
<path d="M420.4 305.2l1.2 2.2h-2.5zM421.7 273.2l1.2 2.2h-2.5zM423.1 239.6l1.2 2.2h-2.5zM424.4 238l1.2 2.2h-2.5zM425.8 243.7l1.2 2.2h-2.5zM427.1 241.3l1.2 2.2h-2.5zM428.5 243.2l1.2 2.2h-2.5zM429.8 247l1.2 2.2h-2.5zM431.2 245.8l1.2 2.2h-2.5zM432.5 244.6l1.2 2.2h-2.5zM433.9 246.1l1.2 2.2h-2.5zM435.2 249.9l1.2 2.2h-2.5zM436.6 244.6l1.2 2.2h-2.5zM438 246.7l1.2 2.2h-2.5zM439.3 246.3l1.2 2.2h-2.5zM440.7 253.5l1.2 2.2h-2.5zM442 254l1.2 2.2h-2.5zM443.4 257.1l1.2 2.2h-2.5zM444.7 253.8l1.2 2.2h-2.5zM446.1 258.7l1.2 2.2h-2.5zM447.4 261.2l1.2 2.2h-2.5zM448.8 260.8l1.2 2.2h-2.5zM450.1 259.2l1.2 2.2h-2.5zM451.5 261.4l1.2 2.2h-2.5zM452.8 266.7l1.2 2.2h-2.5zM454.2 269l1.2 2.2h-2.5zM455.6 265.5l1.2 2.2h-2.5zM456.9 269.4l1.2 2.2h-2.5zM458.3 270.2l1.2 2.2h-2.5zM459.6 275.8l1.2 2.2h-2.5zM461 278l1.2 2.2h-2.5zM462.3 275.9l1.2 2.2h-2.5zM463.7 279.7l1.2 2.2h-2.5zM465 284.1l1.2 2.2h-2.5zM466.4 280.5l1.2 2.2h-2.5zM467.7 284.5l1.2 2.2h-2.5zM469.1 285.5l1.2 2.2h-2.5zM470.4 292.2l1.2 2.2h-2.5zM471.8 289.8l1.2 2.2h-2.5zM473.2 297.6l1.2 2.2h-2.5zM474.5 294.9l1.2 2.2h-2.5zM475.9 300.2l1.2 2.2h-2.5zM477.2 303.6l1.2 2.2h-2.5zM478.6 304.8l1.2 2.2h-2.5zM479.9 304.9l1.2 2.2h-2.5zM481.3 312.9l1.2 2.2h-2.5zM482.6 317.5l1.2 2.2h-2.5zM484 318.5l1.2 2.2h-2.5zM485.3 324.1l1.2 2.2h-2.5zM486.7 328.6l1.2 2.2h-2.5zM488 330l1.2 2.2h-2.5zM489.4 332.6l1.2 2.2h-2.5zM490.8 333.4l1.2 2.2h-2.5zM492.1 340.6l1.2 2.2h-2.5zM493.5 336.4l1.2 2.2h-2.5zM494.8 335.2l1.2 2.2h-2.5zM496.2 339.9l1.2 2.2h-2.5zM497.5 340.1l1.2 2.2h-2.5zM498.9 366.1l1.2 2.2h-2.5zM500.2 344.2l1.2 2.2h-2.5zM501.6 340.6l1.2 2.2h-2.5zM502.9 348l1.2 2.2h-2.5zM504.3 351.1l1.2 2.2h-2.5z" fill="none" stroke="#333" stroke-width="0.8"/>
</g>
<path d="M446.1 367.4v-2.0M446.1 218.6v2.0M473.2 367.4v-2.0M473.2 218.6v2.0M500.2 367.4v-2.0M500.2 218.6v2.0M419 367.4h2.0M507 367.4h-2.0M419 349.1h2.0M507 349.1h-2.0M419 330.9h2.0M507 330.9h-2.0M419 312.6h2.0M507 312.6h-2.0M419 294.4h2.0M507 294.4h-2.0M419 276.1h2.0M507 276.1h-2.0M419 257.9h2.0M507 257.9h-2.0M419 239.6h2.0M507 239.6h-2.0M419 221.4h2.0M507 221.4h-2.0" stroke="#5a5a5a" stroke-width="0.9" fill="none"/>
<rect x="419" y="218.6" width="88" height="148.8" fill="none" stroke="#5a5a5a" stroke-width="1"/>
<text x="446.1" y="376.3" font-size="8.3" text-anchor="middle" fill="#606060">20</text>
<text x="473.2" y="376.3" font-size="8.3" text-anchor="middle" fill="#606060">40</text>
<text x="500.2" y="376.3" font-size="8.3" text-anchor="middle" fill="#606060">60</text>
<text x="417.4" y="370.3" font-size="8.3" text-anchor="end" fill="#606060">0</text>
<text x="417.4" y="352" font-size="8.3" text-anchor="end" fill="#606060">0.5</text>
<text x="417.4" y="333.8" font-size="8.3" text-anchor="end" fill="#606060">1</text>
<text x="417.4" y="315.5" font-size="8.3" text-anchor="end" fill="#606060">1.5</text>
<text x="417.4" y="297.3" font-size="8.3" text-anchor="end" fill="#606060">2</text>
<text x="417.4" y="279" font-size="8.3" text-anchor="end" fill="#606060">2.5</text>
<text x="417.4" y="260.8" font-size="8.3" text-anchor="end" fill="#606060">3</text>
<text x="417.4" y="242.5" font-size="8.3" text-anchor="end" fill="#606060">3.5</text>
<text x="417.4" y="224.3" font-size="8.3" text-anchor="end" fill="#606060">4</text>
<text transform="translate(399.6 297) rotate(-90)" font-size="7.6" font-weight="bold" text-anchor="middle" fill="#111">Log<tspan font-size="5.2" dy="1.7">e</tspan><tspan dy="-1.7">(Frequency)</tspan></text>
<text x="461.6" y="386.9" font-size="7.55" text-anchor="middle" font-weight="bold" fill="#111">Clonal expansion, as a function</text>
<text x="461.6" y="394.6" font-size="7.55" text-anchor="middle" font-weight="bold" fill="#111">of insertions plus deletion</text>
<text x="1" y="425.4" font-size="16.5" text-anchor="start" font-weight="bold" fill="#000">B</text>
<text x="95.6" y="426.6" font-size="15.7" text-anchor="middle" fill="#000">CD4<tspan font-size="9.5" dy="-5.8">+</tspan><tspan dy="5.8"> naive</tspan></text>
<text x="270.4" y="426.2" font-size="15.7" text-anchor="middle" fill="#000">CD4<tspan font-size="9.5" dy="-5.8">+</tspan><tspan dy="5.8"> memory</tspan></text>
<text x="445.2" y="426.6" font-size="15.7" text-anchor="middle" fill="#000">CD8<tspan font-size="9.5" dy="-5.8">+</tspan><tspan dy="5.8"> naive</tspan></text>
<text x="12.3" y="489.3" font-size="15.6" text-anchor="middle" fill="#000" transform="rotate(-90 12.3 489.3)">Donor 1</text>
<text x="12.3" y="617.6" font-size="15.6" text-anchor="middle" fill="#000" transform="rotate(-90 12.3 617.6)">Donor 2</text>
<rect x="54.7" y="443.5" width="85.8" height="85.9" fill="#000080"/>
<g transform="translate(54.7 529.4) scale(2.4514 -2.4543)" shape-rendering="crispEdges">
<path d="M28 23h1v1h-1zM33 31h1v1h-1z" fill="#001aff"/>
<path d="M0 20h1v1h-1zM30 8h1v1h-1z" fill="#0033ff"/>
<path d="M10 31h1v1h-1zM28 18h1v1h-1zM32 1h1v1h-1z" fill="#004dff"/>
<path d="M28 21h1v1h-1zM29 11h1v1h-1zM29 13h1v1h-1zM29 14h1v1h-1zM30 9h1v1h-1zM31 4h1v1h-1z" fill="#0066ff"/>
<path d="M21 28h1v1h-1zM26 19h1v1h-1zM26 22h1v1h-1zM26 23h1v1h-1zM27 17h1v1h-1zM27 21h1v1h-1zM28 12h1v1h-1zM28 15h1v1h-1zM28 16h1v1h-1zM30 5h1v1h-1zM31 1h1v1h-1z" fill="#0080ff"/>
<path d="M2 9h1v1h-1zM5 17h1v1h-1zM23 26h1v1h-1zM26 25h1v1h-1zM27 18h1v1h-1zM28 13h1v1h-1zM28 19h1v1h-1zM29 2h1v1h-1zM29 5h1v1h-1zM29 7h1v1h-1zM29 8h1v1h-1zM29 10h1v1h-1zM29 15h1v1h-1zM30 0h1v1h-1zM30 2h1v1h-1zM30 3h1v1h-1zM30 6h1v1h-1zM30 10h1v1h-1zM30 13h1v1h-1zM31 0h1v1h-1z" fill="#0099ff"/>
<path d="M5 19h1v1h-1zM12 25h1v1h-1zM13 23h1v1h-1zM16 27h1v1h-1zM19 30h1v1h-1zM21 24h1v1h-1zM24 21h1v1h-1zM24 23h1v1h-1zM24 24h1v1h-1zM25 19h1v1h-1zM25 25h1v1h-1zM26 16h1v1h-1zM27 8h1v1h-1zM27 14h1v1h-1zM27 15h1v1h-1zM28 6h1v1h-1zM28 7h1v1h-1zM28 14h1v1h-1zM28 20h1v1h-1zM28 22h1v1h-1zM29 1h1v1h-1zM29 4h1v1h-1zM32 33h1v1h-1zM33 24h1v1h-1z" fill="#00b2ff"/>
<path d="M8 22h1v1h-1zM15 27h1v1h-1zM21 29h1v1h-1zM22 25h1v1h-1zM22 28h1v1h-1zM23 23h1v1h-1zM23 25h1v1h-1zM23 29h1v1h-1zM24 15h1v1h-1zM25 13h1v1h-1zM25 15h1v1h-1zM25 16h1v1h-1zM25 21h1v1h-1zM25 22h1v1h-1zM26 14h1v1h-1zM26 17h1v1h-1zM27 0h1v1h-1zM27 9h1v1h-1zM27 12h1v1h-1zM27 19h1v1h-1zM28 0h1v1h-1zM28 9h1v1h-1zM28 10h1v1h-1zM28 17h1v1h-1zM29 12h1v1h-1zM29 30h1v1h-1zM31 2h1v1h-1zM31 7h1v1h-1zM32 0h1v1h-1zM33 29h1v1h-1z" fill="#00ccff"/>
<path d="M7 19h1v1h-1zM9 23h1v1h-1zM13 25h1v1h-1zM14 25h1v1h-1zM14 26h1v1h-1zM14 28h1v1h-1zM15 26h1v1h-1zM16 25h1v1h-1zM19 25h1v1h-1zM19 29h1v1h-1zM21 23h1v1h-1zM21 27h1v1h-1zM22 18h1v1h-1zM22 21h1v1h-1zM22 22h1v1h-1zM22 24h1v1h-1zM23 13h1v1h-1zM23 22h1v1h-1zM24 14h1v1h-1zM25 7h1v1h-1zM25 12h1v1h-1zM25 18h1v1h-1zM26 2h1v1h-1zM26 4h1v1h-1zM26 7h1v1h-1zM26 10h1v1h-1zM26 11h1v1h-1zM26 13h1v1h-1zM27 5h1v1h-1zM27 11h1v1h-1zM27 20h1v1h-1zM28 1h1v1h-1zM28 3h1v1h-1zM28 4h1v1h-1zM29 9h1v1h-1zM30 4h1v1h-1zM30 7h1v1h-1z" fill="#00e5ff"/>
<path d="M4 12h1v1h-1zM5 14h1v1h-1zM5 16h1v1h-1zM6 15h1v1h-1zM6 17h1v1h-1zM8 17h1v1h-1zM8 20h1v1h-1zM9 18h1v1h-1zM10 22h1v1h-1zM11 24h1v1h-1zM12 23h1v1h-1zM16 28h1v1h-1zM18 26h1v1h-1zM19 24h1v1h-1zM19 27h1v1h-1zM20 23h1v1h-1zM20 26h1v1h-1zM20 29h1v1h-1zM21 21h1v1h-1zM21 25h1v1h-1zM22 15h1v1h-1zM22 19h1v1h-1zM23 14h1v1h-1zM23 16h1v1h-1zM23 17h1v1h-1zM23 19h1v1h-1zM23 20h1v1h-1zM23 27h1v1h-1zM24 2h1v1h-1zM24 3h1v1h-1zM24 8h1v1h-1zM24 9h1v1h-1zM24 11h1v1h-1zM24 17h1v1h-1zM24 18h1v1h-1zM24 20h1v1h-1zM24 26h1v1h-1zM25 4h1v1h-1zM25 6h1v1h-1zM25 9h1v1h-1zM26 1h1v1h-1zM26 8h1v1h-1zM26 15h1v1h-1zM26 18h1v1h-1zM26 21h1v1h-1zM26 24h1v1h-1zM27 2h1v1h-1zM27 3h1v1h-1zM27 6h1v1h-1zM27 10h1v1h-1zM27 16h1v1h-1zM28 11h1v1h-1zM29 3h1v1h-1zM29 6h1v1h-1zM30 1h1v1h-1z" fill="#00ffff"/>
<path d="M4 13h1v1h-1zM8 16h1v1h-1zM9 20h1v1h-1zM10 16h1v1h-1zM11 19h1v1h-1zM11 20h1v1h-1zM11 22h1v1h-1zM11 23h1v1h-1zM12 20h1v1h-1zM12 24h1v1h-1zM13 16h1v1h-1zM13 18h1v1h-1zM13 19h1v1h-1zM13 22h1v1h-1zM14 20h1v1h-1zM14 23h1v1h-1zM15 20h1v1h-1zM16 19h1v1h-1zM16 24h1v1h-1zM17 14h1v1h-1zM17 19h1v1h-1zM17 20h1v1h-1zM17 22h1v1h-1zM17 25h1v1h-1zM18 23h1v1h-1zM19 22h1v1h-1zM20 19h1v1h-1zM20 22h1v1h-1zM21 11h1v1h-1zM21 14h1v1h-1zM21 17h1v1h-1zM21 18h1v1h-1zM21 20h1v1h-1zM22 7h1v1h-1zM22 12h1v1h-1zM22 13h1v1h-1zM22 16h1v1h-1zM22 23h1v1h-1zM23 5h1v1h-1zM23 11h1v1h-1zM23 21h1v1h-1zM23 24h1v1h-1zM24 5h1v1h-1zM24 22h1v1h-1zM25 1h1v1h-1zM25 10h1v1h-1zM25 14h1v1h-1zM25 20h1v1h-1zM26 5h1v1h-1zM26 12h1v1h-1zM26 20h1v1h-1zM27 4h1v1h-1zM27 7h1v1h-1zM27 13h1v1h-1zM28 5h1v1h-1zM28 8h1v1h-1zM29 0h1v1h-1z" fill="#1affe5"/>
<path d="M3 11h1v1h-1zM4 14h1v1h-1zM5 13h1v1h-1zM6 14h1v1h-1zM6 18h1v1h-1zM7 15h1v1h-1zM7 16h1v1h-1zM7 21h1v1h-1zM8 14h1v1h-1zM8 19h1v1h-1zM9 11h1v1h-1zM9 15h1v1h-1zM10 10h1v1h-1zM10 12h1v1h-1zM10 13h1v1h-1zM10 15h1v1h-1zM10 18h1v1h-1zM10 19h1v1h-1zM10 20h1v1h-1zM11 14h1v1h-1zM11 16h1v1h-1zM11 17h1v1h-1zM12 17h1v1h-1zM12 21h1v1h-1zM13 12h1v1h-1zM13 21h1v1h-1zM14 19h1v1h-1zM14 22h1v1h-1zM15 18h1v1h-1zM15 21h1v1h-1zM15 23h1v1h-1zM15 25h1v1h-1zM16 13h1v1h-1zM16 18h1v1h-1zM16 21h1v1h-1zM16 22h1v1h-1zM16 26h1v1h-1zM17 16h1v1h-1zM17 23h1v1h-1zM18 12h1v1h-1zM18 15h1v1h-1zM18 18h1v1h-1zM18 21h1v1h-1zM18 24h1v1h-1zM18 25h1v1h-1zM19 16h1v1h-1zM19 18h1v1h-1zM19 19h1v1h-1zM19 21h1v1h-1zM20 8h1v1h-1zM20 13h1v1h-1zM20 14h1v1h-1zM20 16h1v1h-1zM20 17h1v1h-1zM20 20h1v1h-1zM20 24h1v1h-1zM20 25h1v1h-1zM21 5h1v1h-1zM21 6h1v1h-1zM21 9h1v1h-1zM21 12h1v1h-1zM21 15h1v1h-1zM21 19h1v1h-1zM22 6h1v1h-1zM22 10h1v1h-1zM23 7h1v1h-1zM23 8h1v1h-1zM23 10h1v1h-1zM24 0h1v1h-1zM24 6h1v1h-1zM24 12h1v1h-1zM24 16h1v1h-1zM24 19h1v1h-1zM25 0h1v1h-1zM25 3h1v1h-1zM25 5h1v1h-1zM25 8h1v1h-1zM25 17h1v1h-1zM25 23h1v1h-1zM26 6h1v1h-1zM27 1h1v1h-1zM28 2h1v1h-1z" fill="#33ffcc"/>
<path d="M1 6h1v1h-1zM3 9h1v1h-1zM3 12h1v1h-1zM4 10h1v1h-1zM5 11h1v1h-1zM5 15h1v1h-1zM6 11h1v1h-1zM6 12h1v1h-1zM6 16h1v1h-1zM7 13h1v1h-1zM8 8h1v1h-1zM8 13h1v1h-1zM8 23h1v1h-1zM9 9h1v1h-1zM9 12h1v1h-1zM9 14h1v1h-1zM9 17h1v1h-1zM10 9h1v1h-1zM11 7h1v1h-1zM11 10h1v1h-1zM11 13h1v1h-1zM11 25h1v1h-1zM12 5h1v1h-1zM12 11h1v1h-1zM12 12h1v1h-1zM12 14h1v1h-1zM12 15h1v1h-1zM13 9h1v1h-1zM13 13h1v1h-1zM13 15h1v1h-1zM14 10h1v1h-1zM14 11h1v1h-1zM14 13h1v1h-1zM14 14h1v1h-1zM14 16h1v1h-1zM14 17h1v1h-1zM14 21h1v1h-1zM15 12h1v1h-1zM15 17h1v1h-1zM15 19h1v1h-1zM16 16h1v1h-1zM17 11h1v1h-1zM17 13h1v1h-1zM17 17h1v1h-1zM17 24h1v1h-1zM18 6h1v1h-1zM18 8h1v1h-1zM18 11h1v1h-1zM18 17h1v1h-1zM18 20h1v1h-1zM19 6h1v1h-1zM19 9h1v1h-1zM19 26h1v1h-1zM20 4h1v1h-1zM20 5h1v1h-1zM20 7h1v1h-1zM20 27h1v1h-1zM21 2h1v1h-1zM21 8h1v1h-1zM21 22h1v1h-1zM22 4h1v1h-1zM22 9h1v1h-1zM22 14h1v1h-1zM22 20h1v1h-1zM23 1h1v1h-1zM23 2h1v1h-1zM23 4h1v1h-1zM23 12h1v1h-1zM23 18h1v1h-1zM24 4h1v1h-1zM24 10h1v1h-1zM24 13h1v1h-1zM25 11h1v1h-1zM26 3h1v1h-1zM26 9h1v1h-1zM30 12h1v1h-1z" fill="#4dffb2"/>
<path d="M2 7h1v1h-1zM2 8h1v1h-1zM5 8h1v1h-1zM5 10h1v1h-1zM6 9h1v1h-1zM7 9h1v1h-1zM7 10h1v1h-1zM7 12h1v1h-1zM7 14h1v1h-1zM8 10h1v1h-1zM8 11h1v1h-1zM8 15h1v1h-1zM9 8h1v1h-1zM9 19h1v1h-1zM10 6h1v1h-1zM10 7h1v1h-1zM10 17h1v1h-1zM10 21h1v1h-1zM11 5h1v1h-1zM11 8h1v1h-1zM11 11h1v1h-1zM11 21h1v1h-1zM12 6h1v1h-1zM12 8h1v1h-1zM12 9h1v1h-1zM12 18h1v1h-1zM13 6h1v1h-1zM13 7h1v1h-1zM13 17h1v1h-1zM14 7h1v1h-1zM14 8h1v1h-1zM14 24h1v1h-1zM15 3h1v1h-1zM15 5h1v1h-1zM15 6h1v1h-1zM15 9h1v1h-1zM15 11h1v1h-1zM15 14h1v1h-1zM15 15h1v1h-1zM15 22h1v1h-1zM16 6h1v1h-1zM16 10h1v1h-1zM16 12h1v1h-1zM16 15h1v1h-1zM16 20h1v1h-1zM17 4h1v1h-1zM17 5h1v1h-1zM17 8h1v1h-1zM17 27h1v1h-1zM18 9h1v1h-1zM18 14h1v1h-1zM18 22h1v1h-1zM19 3h1v1h-1zM19 4h1v1h-1zM19 10h1v1h-1zM19 12h1v1h-1zM19 13h1v1h-1zM19 15h1v1h-1zM19 23h1v1h-1zM20 10h1v1h-1zM20 11h1v1h-1zM21 16h1v1h-1zM22 1h1v1h-1zM22 3h1v1h-1zM22 11h1v1h-1zM22 17h1v1h-1zM23 3h1v1h-1zM23 6h1v1h-1zM23 9h1v1h-1zM24 1h1v1h-1zM24 7h1v1h-1zM25 24h1v1h-1zM26 0h1v1h-1z" fill="#66ff99"/>
<path d="M0 5h1v1h-1zM3 8h1v1h-1zM3 10h1v1h-1zM4 7h1v1h-1zM5 12h1v1h-1zM6 8h1v1h-1zM6 13h1v1h-1zM7 7h1v1h-1zM7 17h1v1h-1zM8 7h1v1h-1zM8 12h1v1h-1zM8 18h1v1h-1zM9 5h1v1h-1zM9 6h1v1h-1zM9 16h1v1h-1zM10 4h1v1h-1zM10 14h1v1h-1zM10 25h1v1h-1zM11 4h1v1h-1zM11 15h1v1h-1zM12 3h1v1h-1zM12 19h1v1h-1zM13 3h1v1h-1zM13 4h1v1h-1zM13 10h1v1h-1zM13 20h1v1h-1zM14 4h1v1h-1zM14 5h1v1h-1zM14 12h1v1h-1zM14 18h1v1h-1zM15 8h1v1h-1zM16 3h1v1h-1zM16 4h1v1h-1zM16 7h1v1h-1zM16 9h1v1h-1zM16 14h1v1h-1zM16 23h1v1h-1zM17 7h1v1h-1zM17 10h1v1h-1zM17 21h1v1h-1zM17 29h1v1h-1zM17 30h1v1h-1zM18 3h1v1h-1zM18 5h1v1h-1zM18 19h1v1h-1zM19 5h1v1h-1zM19 7h1v1h-1zM19 14h1v1h-1zM19 17h1v1h-1zM19 20h1v1h-1zM20 2h1v1h-1zM20 15h1v1h-1zM20 18h1v1h-1zM20 21h1v1h-1zM21 3h1v1h-1zM22 8h1v1h-1zM23 15h1v1h-1zM24 27h1v1h-1zM25 2h1v1h-1z" fill="#80ff80"/>
<path d="M3 6h1v1h-1zM4 6h1v1h-1zM4 9h1v1h-1zM4 11h1v1h-1zM5 7h1v1h-1zM6 5h1v1h-1zM6 6h1v1h-1zM7 6h1v1h-1zM7 11h1v1h-1zM8 5h1v1h-1zM9 2h1v1h-1zM9 3h1v1h-1zM9 10h1v1h-1zM9 13h1v1h-1zM10 3h1v1h-1zM10 11h1v1h-1zM11 9h1v1h-1zM11 12h1v1h-1zM11 18h1v1h-1zM12 7h1v1h-1zM12 16h1v1h-1zM13 14h1v1h-1zM14 2h1v1h-1zM14 6h1v1h-1zM14 9h1v1h-1zM15 13h1v1h-1zM15 16h1v1h-1zM16 11h1v1h-1zM16 17h1v1h-1zM17 6h1v1h-1zM17 9h1v1h-1zM17 15h1v1h-1zM17 18h1v1h-1zM18 2h1v1h-1zM18 10h1v1h-1zM18 13h1v1h-1zM18 16h1v1h-1zM19 8h1v1h-1zM20 3h1v1h-1zM20 6h1v1h-1zM20 9h1v1h-1zM20 12h1v1h-1zM21 7h1v1h-1zM21 10h1v1h-1zM21 13h1v1h-1zM22 2h1v1h-1zM22 5h1v1h-1z" fill="#99ff66"/>
<path d="M2 4h1v1h-1zM2 5h1v1h-1zM6 10h1v1h-1zM7 4h1v1h-1zM7 8h1v1h-1zM8 2h1v1h-1zM8 4h1v1h-1zM8 9h1v1h-1zM9 7h1v1h-1zM10 5h1v1h-1zM12 2h1v1h-1zM12 10h1v1h-1zM12 13h1v1h-1zM13 8h1v1h-1zM13 11h1v1h-1zM14 15h1v1h-1zM15 2h1v1h-1zM15 7h1v1h-1zM15 10h1v1h-1zM16 8h1v1h-1zM17 2h1v1h-1zM17 12h1v1h-1zM18 4h1v1h-1zM19 1h1v1h-1zM19 11h1v1h-1zM20 1h1v1h-1zM21 4h1v1h-1zM22 0h1v1h-1z" fill="#b3ff4c"/>
<path d="M1 4h1v1h-1zM2 6h1v1h-1zM3 5h1v1h-1zM3 7h1v1h-1zM4 4h1v1h-1zM5 4h1v1h-1zM5 9h1v1h-1zM6 7h1v1h-1zM7 3h1v1h-1zM7 5h1v1h-1zM8 6h1v1h-1zM9 4h1v1h-1zM10 8h1v1h-1zM11 2h1v1h-1zM11 3h1v1h-1zM13 5h1v1h-1zM14 3h1v1h-1zM15 4h1v1h-1zM17 3h1v1h-1zM18 7h1v1h-1zM19 2h1v1h-1zM21 0h1v1h-1zM21 1h1v1h-1zM23 0h1v1h-1z" fill="#ccff33"/>
<path d="M1 5h1v1h-1zM4 8h1v1h-1zM5 5h1v1h-1zM6 2h1v1h-1zM6 3h1v1h-1zM6 4h1v1h-1zM8 3h1v1h-1zM10 1h1v1h-1zM10 2h1v1h-1zM11 6h1v1h-1zM12 4h1v1h-1zM16 1h1v1h-1zM16 5h1v1h-1zM17 1h1v1h-1z" fill="#e5ff1a"/>
<path d="M4 3h1v1h-1zM4 5h1v1h-1zM8 1h1v1h-1zM11 1h1v1h-1zM13 1h1v1h-1zM13 2h1v1h-1zM14 1h1v1h-1zM16 2h1v1h-1z" fill="#ffff00"/>
<path d="M0 3h1v1h-1zM1 3h1v1h-1zM3 3h1v1h-1zM3 4h1v1h-1zM5 2h1v1h-1zM5 3h1v1h-1zM5 6h1v1h-1zM7 1h1v1h-1zM19 0h1v1h-1z" fill="#ffe500"/>
<path d="M2 2h1v1h-1zM2 3h1v1h-1zM3 2h1v1h-1zM7 2h1v1h-1zM18 0h1v1h-1zM18 1h1v1h-1zM20 0h1v1h-1z" fill="#ffcc00"/>
<path d="M9 1h1v1h-1zM12 1h1v1h-1zM15 1h1v1h-1z" fill="#ffb300"/>
<path d="M0 2h1v1h-1zM4 1h1v1h-1zM4 2h1v1h-1zM5 1h1v1h-1zM15 0h1v1h-1z" fill="#ff9900"/>
<path d="M12 0h1v1h-1zM13 0h1v1h-1z" fill="#ff8000"/>
<path d="M1 2h1v1h-1zM6 1h1v1h-1zM9 0h1v1h-1zM10 0h1v1h-1zM17 0h1v1h-1z" fill="#ff6600"/>
<path d="M1 1h1v1h-1zM2 1h1v1h-1zM16 0h1v1h-1z" fill="#ff4c00"/>
<path d="M14 0h1v1h-1z" fill="#ff3300"/>
<path d="M3 1h1v1h-1zM6 0h1v1h-1zM7 0h1v1h-1zM8 0h1v1h-1zM11 0h1v1h-1z" fill="#ff1a00"/>
<path d="M4 0h1v1h-1z" fill="#ff0000"/>
<path d="M3 0h1v1h-1zM5 0h1v1h-1z" fill="#cc0000"/>
<path d="M0 0h1v1h-1zM1 0h1v1h-1zM2 0h1v1h-1z" fill="#800000"/>
</g>
<rect x="54.7" y="443.5" width="85.8" height="85.9" fill="none" stroke="#222" stroke-width="0.6"/>
<text x="77.5" y="537" font-size="6.5" text-anchor="middle" font-weight="bold" fill="#4a4a4a">10</text>
<text x="101.5" y="537" font-size="6.5" text-anchor="middle" font-weight="bold" fill="#4a4a4a">20</text>
<text x="126" y="537" font-size="6.5" text-anchor="middle" font-weight="bold" fill="#4a4a4a">30</text>
<text x="52.1" y="458.3" font-size="6.5" text-anchor="end" font-weight="bold" fill="#4a4a4a">30</text>
<text x="52.1" y="482.3" font-size="6.5" text-anchor="end" font-weight="bold" fill="#4a4a4a">20</text>
<text x="52.1" y="506.1" font-size="6.5" text-anchor="end" font-weight="bold" fill="#4a4a4a">10</text>
<text x="52.1" y="529.3" font-size="6.5" text-anchor="end" font-weight="bold" fill="#4a4a4a">0</text>
<linearGradient id="g0" x1="0" y1="0" x2="0" y2="1"><stop offset="0%" stop-color="#800000"/><stop offset="12.5%" stop-color="#ff0000"/><stop offset="25%" stop-color="#ff8000"/><stop offset="37.5%" stop-color="#ffff00"/><stop offset="50%" stop-color="#80ff80"/><stop offset="62.5%" stop-color="#00ffff"/><stop offset="75%" stop-color="#0080ff"/><stop offset="87.5%" stop-color="#0000ff"/><stop offset="100%" stop-color="#000080"/></linearGradient>
<rect x="151.8" y="443.5" width="12.7" height="85.9" fill="url(#g0)" stroke="#333" stroke-width="0.8"/>
<text x="166.9" y="531.7" font-size="6.5" text-anchor="start" font-weight="bold" fill="#444">0</text>
<text x="166.9" y="512.4" font-size="6.5" text-anchor="start" font-weight="bold" fill="#444">1</text>
<text x="166.9" y="493" font-size="6.5" text-anchor="start" font-weight="bold" fill="#444">2</text>
<text x="166.9" y="473.7" font-size="6.5" text-anchor="start" font-weight="bold" fill="#444">3</text>
<text x="166.9" y="454.3" font-size="6.5" text-anchor="start" font-weight="bold" fill="#444">4</text>
<path d="M151.8 529.4h1.6M164.5 529.4h-1.6M151.8 510.1h1.6M164.5 510.1h-1.6M151.8 490.7h1.6M164.5 490.7h-1.6M151.8 471.4h1.6M164.5 471.4h-1.6M151.8 452h1.6M164.5 452h-1.6" stroke="#333" stroke-width="0.6"/>
<text x="95.6" y="552.8" font-size="11.8" text-anchor="middle" fill="#000" stroke="#000" stroke-width="0.35">Total deletions</text>
<text x="38.4" y="487.2" font-size="12.1" text-anchor="middle" fill="#000" transform="rotate(-90 38.4 487.2)" stroke="#000" stroke-width="0.35">Total insertions</text>
<rect x="231" y="441" width="85" height="85.4" fill="#000080"/>
<g transform="translate(231 526.4) scale(2.4286 -2.4400)" shape-rendering="crispEdges">
<path d="M27 7h1v1h-1z" fill="#0000cc"/>
<path d="M27 10h1v1h-1z" fill="#0000ff"/>
<path d="M19 32h1v1h-1zM26 11h1v1h-1zM26 12h1v1h-1zM29 1h1v1h-1zM31 33h1v1h-1zM32 6h1v1h-1zM33 7h1v1h-1zM34 14h1v1h-1zM34 18h1v1h-1z" fill="#001aff"/>
<path d="M23 26h1v1h-1zM24 22h1v1h-1zM24 28h1v1h-1zM25 19h1v1h-1zM25 21h1v1h-1zM26 15h1v1h-1zM27 9h1v1h-1zM28 17h1v1h-1zM28 19h1v1h-1zM29 7h1v1h-1zM31 12h1v1h-1zM31 24h1v1h-1zM32 3h1v1h-1zM32 19h1v1h-1zM33 24h1v1h-1zM33 27h1v1h-1zM34 5h1v1h-1z" fill="#0033ff"/>
<path d="M6 24h1v1h-1zM23 29h1v1h-1zM23 30h1v1h-1zM23 31h1v1h-1zM25 29h1v1h-1zM26 10h1v1h-1zM26 17h1v1h-1zM26 28h1v1h-1zM27 3h1v1h-1zM27 6h1v1h-1zM27 15h1v1h-1zM27 19h1v1h-1zM28 21h1v1h-1zM28 27h1v1h-1zM30 2h1v1h-1zM31 11h1v1h-1zM31 26h1v1h-1zM32 18h1v1h-1zM33 12h1v1h-1zM33 16h1v1h-1zM33 26h1v1h-1zM33 31h1v1h-1z" fill="#004dff"/>
<path d="M25 16h1v1h-1zM26 13h1v1h-1zM26 16h1v1h-1zM26 24h1v1h-1zM27 5h1v1h-1zM27 27h1v1h-1zM28 2h1v1h-1zM28 18h1v1h-1zM28 28h1v1h-1zM29 21h1v1h-1zM29 23h1v1h-1zM29 26h1v1h-1zM30 9h1v1h-1zM30 16h1v1h-1zM30 24h1v1h-1zM30 31h1v1h-1zM31 9h1v1h-1zM33 3h1v1h-1zM33 5h1v1h-1zM34 8h1v1h-1z" fill="#0066ff"/>
<path d="M1 18h1v1h-1zM6 21h1v1h-1zM7 27h1v1h-1zM17 31h1v1h-1zM22 22h1v1h-1zM22 30h1v1h-1zM22 31h1v1h-1zM23 22h1v1h-1zM23 27h1v1h-1zM24 16h1v1h-1zM24 29h1v1h-1zM25 13h1v1h-1zM25 15h1v1h-1zM25 17h1v1h-1zM26 8h1v1h-1zM26 18h1v1h-1zM26 22h1v1h-1zM26 33h1v1h-1zM27 2h1v1h-1zM27 21h1v1h-1zM27 31h1v1h-1zM28 0h1v1h-1zM28 10h1v1h-1zM29 8h1v1h-1zM30 12h1v1h-1zM30 25h1v1h-1zM31 2h1v1h-1zM31 7h1v1h-1zM32 17h1v1h-1zM34 21h1v1h-1zM34 23h1v1h-1z" fill="#0080ff"/>
<path d="M14 29h1v1h-1zM20 29h1v1h-1zM22 23h1v1h-1zM23 24h1v1h-1zM24 14h1v1h-1zM24 19h1v1h-1zM25 6h1v1h-1zM25 12h1v1h-1zM25 18h1v1h-1zM25 28h1v1h-1zM26 4h1v1h-1zM26 7h1v1h-1zM27 1h1v1h-1zM27 8h1v1h-1zM28 13h1v1h-1zM31 14h1v1h-1zM34 2h1v1h-1zM34 13h1v1h-1z" fill="#0099ff"/>
<path d="M21 26h1v1h-1zM22 27h1v1h-1zM22 28h1v1h-1zM23 20h1v1h-1zM24 13h1v1h-1zM24 17h1v1h-1zM25 9h1v1h-1zM26 1h1v1h-1zM26 2h1v1h-1zM26 3h1v1h-1zM26 6h1v1h-1zM27 4h1v1h-1z" fill="#00b2ff"/>
<path d="M10 24h1v1h-1zM12 26h1v1h-1zM12 28h1v1h-1zM18 30h1v1h-1zM18 31h1v1h-1zM19 31h1v1h-1zM20 31h1v1h-1zM21 23h1v1h-1zM22 13h1v1h-1zM22 21h1v1h-1zM22 24h1v1h-1zM23 10h1v1h-1zM23 16h1v1h-1zM23 17h1v1h-1zM23 19h1v1h-1zM23 25h1v1h-1zM24 15h1v1h-1zM25 1h1v1h-1zM25 7h1v1h-1zM25 8h1v1h-1zM25 10h1v1h-1zM25 11h1v1h-1zM25 14h1v1h-1zM26 0h1v1h-1zM26 5h1v1h-1zM27 0h1v1h-1z" fill="#00ccff"/>
<path d="M6 20h1v1h-1zM7 19h1v1h-1zM8 23h1v1h-1zM13 29h1v1h-1zM14 28h1v1h-1zM14 30h1v1h-1zM16 31h1v1h-1zM17 29h1v1h-1zM19 24h1v1h-1zM19 29h1v1h-1zM20 23h1v1h-1zM20 24h1v1h-1zM20 25h1v1h-1zM20 26h1v1h-1zM21 25h1v1h-1zM21 28h1v1h-1zM22 15h1v1h-1zM22 19h1v1h-1zM23 14h1v1h-1zM23 15h1v1h-1zM23 18h1v1h-1zM24 8h1v1h-1zM24 9h1v1h-1zM24 10h1v1h-1zM24 11h1v1h-1zM24 12h1v1h-1z" fill="#00e5ff"/>
<path d="M1 12h1v1h-1zM4 16h1v1h-1zM5 18h1v1h-1zM6 18h1v1h-1zM7 21h1v1h-1zM10 22h1v1h-1zM10 26h1v1h-1zM12 24h1v1h-1zM13 25h1v1h-1zM14 27h1v1h-1zM16 27h1v1h-1zM16 30h1v1h-1zM19 22h1v1h-1zM19 27h1v1h-1zM20 16h1v1h-1zM21 17h1v1h-1zM21 18h1v1h-1zM21 22h1v1h-1zM22 17h1v1h-1zM22 20h1v1h-1zM23 9h1v1h-1zM23 11h1v1h-1zM23 13h1v1h-1zM24 3h1v1h-1zM25 0h1v1h-1zM25 4h1v1h-1zM25 5h1v1h-1z" fill="#00ffff"/>
<path d="M3 12h1v1h-1zM6 17h1v1h-1zM6 19h1v1h-1zM8 19h1v1h-1zM8 22h1v1h-1zM11 24h1v1h-1zM12 21h1v1h-1zM14 22h1v1h-1zM15 23h1v1h-1zM15 27h1v1h-1zM16 24h1v1h-1zM16 25h1v1h-1zM17 20h1v1h-1zM17 26h1v1h-1zM17 30h1v1h-1zM18 23h1v1h-1zM18 24h1v1h-1zM18 27h1v1h-1zM19 16h1v1h-1zM19 25h1v1h-1zM20 17h1v1h-1zM20 19h1v1h-1zM20 22h1v1h-1zM20 30h1v1h-1zM21 14h1v1h-1zM21 20h1v1h-1zM21 21h1v1h-1zM21 24h1v1h-1zM22 3h1v1h-1zM22 9h1v1h-1zM22 16h1v1h-1zM23 8h1v1h-1zM24 2h1v1h-1zM24 4h1v1h-1zM24 5h1v1h-1zM24 6h1v1h-1zM24 7h1v1h-1zM24 18h1v1h-1zM25 3h1v1h-1z" fill="#1affe5"/>
<path d="M2 13h1v1h-1zM3 16h1v1h-1zM5 17h1v1h-1zM8 17h1v1h-1zM8 20h1v1h-1zM10 21h1v1h-1zM10 23h1v1h-1zM11 22h1v1h-1zM11 23h1v1h-1zM12 18h1v1h-1zM12 23h1v1h-1zM13 15h1v1h-1zM13 18h1v1h-1zM13 20h1v1h-1zM13 22h1v1h-1zM13 24h1v1h-1zM14 21h1v1h-1zM14 24h1v1h-1zM15 21h1v1h-1zM16 26h1v1h-1zM17 23h1v1h-1zM18 15h1v1h-1zM18 21h1v1h-1zM18 25h1v1h-1zM18 26h1v1h-1zM19 18h1v1h-1zM19 19h1v1h-1zM19 21h1v1h-1zM19 26h1v1h-1zM19 30h1v1h-1zM20 21h1v1h-1zM20 28h1v1h-1zM21 8h1v1h-1zM21 10h1v1h-1zM21 16h1v1h-1zM21 19h1v1h-1zM22 8h1v1h-1zM22 11h1v1h-1zM22 12h1v1h-1zM22 14h1v1h-1zM22 18h1v1h-1zM22 26h1v1h-1zM23 2h1v1h-1zM23 3h1v1h-1zM23 5h1v1h-1zM23 6h1v1h-1zM23 7h1v1h-1zM23 12h1v1h-1zM24 0h1v1h-1zM25 2h1v1h-1z" fill="#33ffcc"/>
<path d="M3 15h1v1h-1zM6 15h1v1h-1zM7 18h1v1h-1zM7 20h1v1h-1zM8 14h1v1h-1zM8 18h1v1h-1zM8 21h1v1h-1zM9 18h1v1h-1zM9 21h1v1h-1zM10 20h1v1h-1zM11 21h1v1h-1zM11 26h1v1h-1zM12 25h1v1h-1zM13 26h1v1h-1zM15 25h1v1h-1zM15 26h1v1h-1zM16 19h1v1h-1zM17 19h1v1h-1zM17 25h1v1h-1zM17 28h1v1h-1zM18 16h1v1h-1zM18 18h1v1h-1zM18 22h1v1h-1zM18 28h1v1h-1zM19 9h1v1h-1zM19 14h1v1h-1zM19 23h1v1h-1zM20 12h1v1h-1zM20 18h1v1h-1zM21 6h1v1h-1zM21 9h1v1h-1zM21 11h1v1h-1zM22 5h1v1h-1zM22 6h1v1h-1zM23 1h1v1h-1zM24 1h1v1h-1z" fill="#4dffb2"/>
<path d="M1 8h1v1h-1zM1 10h1v1h-1zM1 11h1v1h-1zM2 10h1v1h-1zM2 12h1v1h-1zM3 14h1v1h-1zM4 15h1v1h-1zM5 12h1v1h-1zM5 14h1v1h-1zM7 15h1v1h-1zM8 16h1v1h-1zM9 17h1v1h-1zM9 19h1v1h-1zM9 20h1v1h-1zM9 22h1v1h-1zM10 15h1v1h-1zM10 16h1v1h-1zM10 19h1v1h-1zM11 11h1v1h-1zM11 18h1v1h-1zM11 19h1v1h-1zM12 12h1v1h-1zM12 19h1v1h-1zM12 20h1v1h-1zM13 13h1v1h-1zM13 19h1v1h-1zM13 21h1v1h-1zM13 23h1v1h-1zM14 19h1v1h-1zM14 20h1v1h-1zM14 23h1v1h-1zM15 12h1v1h-1zM15 17h1v1h-1zM15 19h1v1h-1zM15 20h1v1h-1zM15 24h1v1h-1zM16 15h1v1h-1zM16 18h1v1h-1zM16 21h1v1h-1zM16 22h1v1h-1zM17 13h1v1h-1zM17 17h1v1h-1zM17 22h1v1h-1zM18 3h1v1h-1zM18 12h1v1h-1zM18 20h1v1h-1zM19 7h1v1h-1zM19 12h1v1h-1zM19 13h1v1h-1zM19 20h1v1h-1zM20 6h1v1h-1zM20 7h1v1h-1zM20 10h1v1h-1zM20 11h1v1h-1zM20 14h1v1h-1zM20 20h1v1h-1zM21 3h1v1h-1zM21 5h1v1h-1zM21 7h1v1h-1zM21 12h1v1h-1zM21 13h1v1h-1zM21 27h1v1h-1zM22 0h1v1h-1zM22 2h1v1h-1zM22 4h1v1h-1zM22 7h1v1h-1zM23 0h1v1h-1zM23 4h1v1h-1z" fill="#66ff99"/>
<path d="M0 7h1v1h-1zM1 9h1v1h-1zM3 9h1v1h-1zM3 13h1v1h-1zM4 12h1v1h-1zM4 13h1v1h-1zM4 14h1v1h-1zM5 13h1v1h-1zM5 15h1v1h-1zM6 9h1v1h-1zM6 11h1v1h-1zM6 12h1v1h-1zM6 14h1v1h-1zM6 16h1v1h-1zM7 17h1v1h-1zM9 8h1v1h-1zM9 12h1v1h-1zM9 15h1v1h-1zM10 10h1v1h-1zM10 14h1v1h-1zM10 17h1v1h-1zM10 18h1v1h-1zM11 13h1v1h-1zM11 20h1v1h-1zM12 14h1v1h-1zM12 15h1v1h-1zM12 17h1v1h-1zM12 22h1v1h-1zM13 6h1v1h-1zM13 8h1v1h-1zM13 12h1v1h-1zM13 17h1v1h-1zM14 8h1v1h-1zM14 13h1v1h-1zM14 16h1v1h-1zM14 17h1v1h-1zM15 14h1v1h-1zM15 15h1v1h-1zM15 16h1v1h-1zM15 18h1v1h-1zM15 22h1v1h-1zM16 12h1v1h-1zM16 16h1v1h-1zM16 20h1v1h-1zM16 23h1v1h-1zM17 12h1v1h-1zM17 14h1v1h-1zM17 16h1v1h-1zM17 18h1v1h-1zM17 24h1v1h-1zM18 2h1v1h-1zM18 8h1v1h-1zM18 14h1v1h-1zM18 17h1v1h-1zM19 8h1v1h-1zM19 10h1v1h-1zM19 11h1v1h-1zM19 15h1v1h-1zM19 17h1v1h-1zM20 2h1v1h-1zM20 4h1v1h-1zM20 8h1v1h-1zM20 9h1v1h-1zM20 13h1v1h-1zM21 0h1v1h-1zM21 1h1v1h-1zM21 2h1v1h-1zM21 4h1v1h-1zM21 15h1v1h-1zM22 10h1v1h-1z" fill="#80ff80"/>
<path d="M0 6h1v1h-1zM0 8h1v1h-1zM0 9h1v1h-1zM3 11h1v1h-1zM4 8h1v1h-1zM4 10h1v1h-1zM5 8h1v1h-1zM5 10h1v1h-1zM5 11h1v1h-1zM6 13h1v1h-1zM7 10h1v1h-1zM7 11h1v1h-1zM7 13h1v1h-1zM7 14h1v1h-1zM8 13h1v1h-1zM9 14h1v1h-1zM9 16h1v1h-1zM10 13h1v1h-1zM11 5h1v1h-1zM11 7h1v1h-1zM11 14h1v1h-1zM11 17h1v1h-1zM12 9h1v1h-1zM12 10h1v1h-1zM12 11h1v1h-1zM12 16h1v1h-1zM13 3h1v1h-1zM13 7h1v1h-1zM13 11h1v1h-1zM14 4h1v1h-1zM14 10h1v1h-1zM14 14h1v1h-1zM14 18h1v1h-1zM15 8h1v1h-1zM15 9h1v1h-1zM15 11h1v1h-1zM15 13h1v1h-1zM16 4h1v1h-1zM16 9h1v1h-1zM16 11h1v1h-1zM16 13h1v1h-1zM16 14h1v1h-1zM16 17h1v1h-1zM17 7h1v1h-1zM17 10h1v1h-1zM17 11h1v1h-1zM17 15h1v1h-1zM17 21h1v1h-1zM18 4h1v1h-1zM18 7h1v1h-1zM18 9h1v1h-1zM18 10h1v1h-1zM18 11h1v1h-1zM18 13h1v1h-1zM18 19h1v1h-1zM19 2h1v1h-1zM19 3h1v1h-1zM19 6h1v1h-1zM20 3h1v1h-1zM22 1h1v1h-1z" fill="#99ff66"/>
<path d="M1 7h1v1h-1zM2 7h1v1h-1zM2 9h1v1h-1zM2 11h1v1h-1zM3 10h1v1h-1zM5 9h1v1h-1zM6 6h1v1h-1zM6 10h1v1h-1zM7 7h1v1h-1zM7 12h1v1h-1zM7 16h1v1h-1zM8 7h1v1h-1zM8 11h1v1h-1zM8 15h1v1h-1zM9 4h1v1h-1zM9 5h1v1h-1zM9 10h1v1h-1zM9 11h1v1h-1zM9 13h1v1h-1zM10 6h1v1h-1zM11 10h1v1h-1zM11 12h1v1h-1zM11 15h1v1h-1zM11 16h1v1h-1zM12 3h1v1h-1zM12 4h1v1h-1zM12 7h1v1h-1zM12 8h1v1h-1zM13 10h1v1h-1zM13 14h1v1h-1zM14 2h1v1h-1zM14 11h1v1h-1zM15 10h1v1h-1zM16 5h1v1h-1zM16 6h1v1h-1zM16 7h1v1h-1zM16 10h1v1h-1zM17 4h1v1h-1zM17 5h1v1h-1zM17 9h1v1h-1zM19 4h1v1h-1zM20 5h1v1h-1zM20 15h1v1h-1z" fill="#b3ff4c"/>
<path d="M1 6h1v1h-1zM2 8h1v1h-1zM3 5h1v1h-1zM3 6h1v1h-1zM3 8h1v1h-1zM4 4h1v1h-1zM4 7h1v1h-1zM4 9h1v1h-1zM5 4h1v1h-1zM5 5h1v1h-1zM5 7h1v1h-1zM6 8h1v1h-1zM7 6h1v1h-1zM7 8h1v1h-1zM7 9h1v1h-1zM8 2h1v1h-1zM8 3h1v1h-1zM8 5h1v1h-1zM8 9h1v1h-1zM8 12h1v1h-1zM9 7h1v1h-1zM9 9h1v1h-1zM10 3h1v1h-1zM10 4h1v1h-1zM10 5h1v1h-1zM10 8h1v1h-1zM10 9h1v1h-1zM10 11h1v1h-1zM10 12h1v1h-1zM11 6h1v1h-1zM11 8h1v1h-1zM12 5h1v1h-1zM13 4h1v1h-1zM14 6h1v1h-1zM14 7h1v1h-1zM14 9h1v1h-1zM14 12h1v1h-1zM15 2h1v1h-1zM15 3h1v1h-1zM15 4h1v1h-1zM15 5h1v1h-1zM15 6h1v1h-1zM15 7h1v1h-1zM16 1h1v1h-1zM16 8h1v1h-1zM17 3h1v1h-1zM17 8h1v1h-1zM18 1h1v1h-1zM18 5h1v1h-1zM18 6h1v1h-1zM19 1h1v1h-1zM20 1h1v1h-1z" fill="#ccff33"/>
<path d="M0 4h1v1h-1zM0 5h1v1h-1zM2 5h1v1h-1zM2 6h1v1h-1zM3 3h1v1h-1zM3 7h1v1h-1zM4 6h1v1h-1zM4 11h1v1h-1zM5 3h1v1h-1zM6 7h1v1h-1zM7 4h1v1h-1zM8 4h1v1h-1zM8 8h1v1h-1zM8 10h1v1h-1zM9 3h1v1h-1zM11 1h1v1h-1zM11 4h1v1h-1zM11 9h1v1h-1zM12 6h1v1h-1zM12 13h1v1h-1zM13 1h1v1h-1zM13 5h1v1h-1zM13 9h1v1h-1zM13 16h1v1h-1zM14 1h1v1h-1zM14 3h1v1h-1zM16 3h1v1h-1zM17 2h1v1h-1zM18 0h1v1h-1zM19 0h1v1h-1zM19 5h1v1h-1z" fill="#e5ff1a"/>
<path d="M1 5h1v1h-1zM2 3h1v1h-1zM4 3h1v1h-1zM5 2h1v1h-1zM7 5h1v1h-1zM8 6h1v1h-1zM9 2h1v1h-1zM9 6h1v1h-1zM10 7h1v1h-1zM11 2h1v1h-1zM12 2h1v1h-1zM13 2h1v1h-1zM14 5h1v1h-1zM16 0h1v1h-1zM16 2h1v1h-1zM17 1h1v1h-1zM17 6h1v1h-1z" fill="#ffff00"/>
<path d="M1 2h1v1h-1zM1 3h1v1h-1zM1 4h1v1h-1zM2 4h1v1h-1zM3 2h1v1h-1zM5 6h1v1h-1zM6 3h1v1h-1zM6 4h1v1h-1zM6 5h1v1h-1zM7 2h1v1h-1zM7 3h1v1h-1zM10 1h1v1h-1zM10 2h1v1h-1zM11 3h1v1h-1zM12 1h1v1h-1zM13 0h1v1h-1zM14 15h1v1h-1zM15 1h1v1h-1zM20 0h1v1h-1z" fill="#ffe500"/>
<path d="M0 2h1v1h-1zM2 2h1v1h-1zM3 4h1v1h-1zM4 5h1v1h-1zM5 1h1v1h-1zM6 2h1v1h-1zM7 1h1v1h-1zM9 1h1v1h-1zM12 0h1v1h-1zM17 0h1v1h-1z" fill="#ffcc00"/>
<path d="M0 3h1v1h-1zM1 1h1v1h-1zM2 1h1v1h-1zM4 1h1v1h-1zM8 1h1v1h-1zM10 0h1v1h-1z" fill="#ffb300"/>
<path d="M4 2h1v1h-1zM7 0h1v1h-1zM9 0h1v1h-1zM15 0h1v1h-1z" fill="#ff9900"/>
<path d="M3 0h1v1h-1zM3 1h1v1h-1zM4 0h1v1h-1zM5 0h1v1h-1zM6 1h1v1h-1zM8 0h1v1h-1zM14 0h1v1h-1z" fill="#ff8000"/>
<path d="M0 1h1v1h-1zM1 0h1v1h-1zM6 0h1v1h-1zM11 0h1v1h-1z" fill="#ff6600"/>
<path d="M2 0h1v1h-1z" fill="#ff4c00"/>
<path d="M0 0h1v1h-1zM26 9h1v1h-1z" fill="#ff1a00"/>
</g>
<rect x="231" y="441" width="85" height="85.4" fill="none" stroke="#222" stroke-width="0.6"/>
<text x="254.5" y="534" font-size="6.5" text-anchor="middle" font-weight="bold" fill="#4a4a4a">10</text>
<text x="279.4" y="534" font-size="6.5" text-anchor="middle" font-weight="bold" fill="#4a4a4a">20</text>
<text x="304.6" y="534" font-size="6.5" text-anchor="middle" font-weight="bold" fill="#4a4a4a">30</text>
<text x="228.4" y="451.2" font-size="6.5" text-anchor="end" font-weight="bold" fill="#4a4a4a">30</text>
<text x="228.4" y="463.6" font-size="6.5" text-anchor="end" font-weight="bold" fill="#4a4a4a">25</text>
<text x="228.4" y="476.1" font-size="6.5" text-anchor="end" font-weight="bold" fill="#4a4a4a">20</text>
<text x="228.4" y="488.5" font-size="6.5" text-anchor="end" font-weight="bold" fill="#4a4a4a">15</text>
<text x="228.4" y="501" font-size="6.5" text-anchor="end" font-weight="bold" fill="#4a4a4a">10</text>
<text x="228.4" y="513.4" font-size="6.5" text-anchor="end" font-weight="bold" fill="#4a4a4a">5</text>
<text x="228.4" y="525.8" font-size="6.5" text-anchor="end" font-weight="bold" fill="#4a4a4a">0</text>
<linearGradient id="g1" x1="0" y1="0" x2="0" y2="1"><stop offset="0%" stop-color="#800000"/><stop offset="12.5%" stop-color="#ff0000"/><stop offset="25%" stop-color="#ff8000"/><stop offset="37.5%" stop-color="#ffff00"/><stop offset="50%" stop-color="#80ff80"/><stop offset="62.5%" stop-color="#00ffff"/><stop offset="75%" stop-color="#0080ff"/><stop offset="87.5%" stop-color="#0000ff"/><stop offset="100%" stop-color="#000080"/></linearGradient>
<rect x="326.2" y="441" width="13.8" height="85.4" fill="url(#g1)" stroke="#333" stroke-width="0.8"/>
<text x="342.4" y="528.7" font-size="6.5" text-anchor="start" font-weight="bold" fill="#444">0</text>
<text x="342.4" y="512.8" font-size="6.5" text-anchor="start" font-weight="bold" fill="#444">1</text>
<text x="342.4" y="496.8" font-size="6.5" text-anchor="start" font-weight="bold" fill="#444">2</text>
<text x="342.4" y="480.9" font-size="6.5" text-anchor="start" font-weight="bold" fill="#444">3</text>
<text x="342.4" y="465" font-size="6.5" text-anchor="start" font-weight="bold" fill="#444">4</text>
<text x="342.4" y="449" font-size="6.5" text-anchor="start" font-weight="bold" fill="#444">5</text>
<path d="M326.2 526.4h1.6M340 526.4h-1.6M326.2 510.5h1.6M340 510.5h-1.6M326.2 494.5h1.6M340 494.5h-1.6M326.2 478.6h1.6M340 478.6h-1.6M326.2 462.7h1.6M340 462.7h-1.6M326.2 446.7h1.6M340 446.7h-1.6" stroke="#333" stroke-width="0.6"/>
<text x="271.5" y="549.8" font-size="11.8" text-anchor="middle" fill="#000" stroke="#000" stroke-width="0.35">Total deletions</text>
<text x="214.7" y="484.5" font-size="12.1" text-anchor="middle" fill="#000" transform="rotate(-90 214.7 484.5)" stroke="#000" stroke-width="0.35">Total insertions</text>
<rect x="403.4" y="441.4" width="86.1" height="86.1" fill="#000080"/>
<g transform="translate(403.4 527.5) scale(2.4600 -2.4600)" shape-rendering="crispEdges">
<path d="M14 31h1v1h-1zM28 22h1v1h-1zM29 20h1v1h-1zM29 25h1v1h-1zM31 4h1v1h-1zM33 9h1v1h-1z" fill="#001aff"/>
<path d="M25 27h1v1h-1zM26 33h1v1h-1zM30 5h1v1h-1zM32 2h1v1h-1zM33 14h1v1h-1z" fill="#0033ff"/>
<path d="M25 32h1v1h-1zM31 8h1v1h-1zM32 31h1v1h-1zM34 25h1v1h-1z" fill="#004dff"/>
<path d="M33 26h1v1h-1z" fill="#0066ff"/>
<path d="M5 18h1v1h-1zM10 22h1v1h-1zM22 33h1v1h-1zM24 29h1v1h-1zM26 22h1v1h-1zM29 16h1v1h-1zM29 17h1v1h-1zM30 12h1v1h-1zM30 19h1v1h-1zM31 14h1v1h-1zM34 23h1v1h-1z" fill="#0080ff"/>
<path d="M2 15h1v1h-1zM23 29h1v1h-1zM28 16h1v1h-1zM28 20h1v1h-1zM28 21h1v1h-1zM29 8h1v1h-1z" fill="#0099ff"/>
<path d="M10 24h1v1h-1zM21 32h1v1h-1zM24 23h1v1h-1zM25 24h1v1h-1zM27 12h1v1h-1zM27 15h1v1h-1zM27 17h1v1h-1zM27 18h1v1h-1zM27 20h1v1h-1zM28 9h1v1h-1zM28 12h1v1h-1zM28 15h1v1h-1zM29 10h1v1h-1zM29 11h1v1h-1zM29 13h1v1h-1zM29 14h1v1h-1zM29 15h1v1h-1zM30 2h1v1h-1zM30 3h1v1h-1zM30 8h1v1h-1zM30 9h1v1h-1zM33 6h1v1h-1z" fill="#00b2ff"/>
<path d="M3 15h1v1h-1zM6 20h1v1h-1zM9 24h1v1h-1zM14 29h1v1h-1zM21 23h1v1h-1zM21 26h1v1h-1zM21 29h1v1h-1zM22 24h1v1h-1zM22 29h1v1h-1zM23 26h1v1h-1zM24 15h1v1h-1zM24 20h1v1h-1zM24 21h1v1h-1zM25 16h1v1h-1zM25 19h1v1h-1zM25 22h1v1h-1zM26 4h1v1h-1zM26 10h1v1h-1zM26 13h1v1h-1zM26 16h1v1h-1zM26 19h1v1h-1zM26 20h1v1h-1zM26 21h1v1h-1zM26 24h1v1h-1zM28 6h1v1h-1zM28 10h1v1h-1zM28 13h1v1h-1zM29 4h1v1h-1zM29 7h1v1h-1z" fill="#00ccff"/>
<path d="M1 12h1v1h-1zM2 13h1v1h-1zM2 14h1v1h-1zM3 17h1v1h-1zM7 19h1v1h-1zM8 14h1v1h-1zM8 17h1v1h-1zM8 23h1v1h-1zM9 17h1v1h-1zM10 18h1v1h-1zM11 20h1v1h-1zM11 22h1v1h-1zM11 25h1v1h-1zM11 26h1v1h-1zM12 23h1v1h-1zM12 26h1v1h-1zM13 24h1v1h-1zM14 19h1v1h-1zM14 23h1v1h-1zM14 26h1v1h-1zM15 20h1v1h-1zM16 22h1v1h-1zM17 23h1v1h-1zM17 26h1v1h-1zM18 18h1v1h-1zM18 23h1v1h-1zM19 15h1v1h-1zM19 22h1v1h-1zM19 24h1v1h-1zM19 27h1v1h-1zM20 23h1v1h-1zM20 25h1v1h-1zM21 17h1v1h-1zM21 24h1v1h-1zM22 16h1v1h-1zM22 18h1v1h-1zM22 19h1v1h-1zM22 21h1v1h-1zM22 25h1v1h-1zM23 16h1v1h-1zM23 22h1v1h-1zM23 23h1v1h-1zM23 25h1v1h-1zM24 11h1v1h-1zM24 12h1v1h-1zM24 14h1v1h-1zM24 17h1v1h-1zM24 18h1v1h-1zM24 30h1v1h-1zM24 33h1v1h-1zM25 6h1v1h-1zM25 7h1v1h-1zM25 10h1v1h-1zM25 12h1v1h-1zM25 13h1v1h-1zM25 18h1v1h-1zM25 21h1v1h-1zM25 23h1v1h-1zM26 5h1v1h-1zM26 8h1v1h-1zM26 14h1v1h-1zM26 17h1v1h-1zM26 23h1v1h-1zM27 6h1v1h-1zM27 8h1v1h-1zM27 9h1v1h-1zM27 11h1v1h-1zM27 14h1v1h-1zM28 4h1v1h-1zM28 7h1v1h-1zM29 2h1v1h-1zM29 5h1v1h-1zM29 9h1v1h-1zM29 12h1v1h-1zM30 0h1v1h-1zM31 3h1v1h-1zM33 7h1v1h-1zM34 22h1v1h-1zM34 24h1v1h-1z" fill="#00e5ff"/>
<path d="M0 9h1v1h-1zM0 11h1v1h-1zM3 14h1v1h-1zM4 15h1v1h-1zM4 16h1v1h-1zM5 16h1v1h-1zM5 19h1v1h-1zM6 14h1v1h-1zM7 16h1v1h-1zM8 16h1v1h-1zM8 20h1v1h-1zM9 18h1v1h-1zM9 21h1v1h-1zM10 16h1v1h-1zM10 19h1v1h-1zM10 21h1v1h-1zM12 20h1v1h-1zM12 21h1v1h-1zM13 21h1v1h-1zM13 22h1v1h-1zM14 20h1v1h-1zM14 22h1v1h-1zM14 25h1v1h-1zM15 17h1v1h-1zM15 18h1v1h-1zM15 23h1v1h-1zM15 24h1v1h-1zM16 21h1v1h-1zM16 25h1v1h-1zM17 16h1v1h-1zM17 19h1v1h-1zM17 20h1v1h-1zM17 25h1v1h-1zM18 20h1v1h-1zM18 21h1v1h-1zM18 24h1v1h-1zM18 26h1v1h-1zM18 27h1v1h-1zM19 25h1v1h-1zM19 28h1v1h-1zM19 31h1v1h-1zM20 26h1v1h-1zM21 11h1v1h-1zM21 14h1v1h-1zM21 15h1v1h-1zM21 18h1v1h-1zM22 6h1v1h-1zM22 15h1v1h-1zM22 22h1v1h-1zM22 28h1v1h-1zM23 8h1v1h-1zM23 11h1v1h-1zM23 13h1v1h-1zM23 14h1v1h-1zM23 17h1v1h-1zM23 19h1v1h-1zM23 20h1v1h-1zM24 6h1v1h-1zM24 8h1v1h-1zM24 9h1v1h-1zM25 9h1v1h-1zM25 15h1v1h-1zM26 7h1v1h-1zM26 11h1v1h-1zM27 2h1v1h-1zM27 3h1v1h-1zM27 5h1v1h-1zM27 7h1v1h-1zM27 21h1v1h-1zM27 22h1v1h-1zM28 1h1v1h-1zM28 3h1v1h-1zM28 17h1v1h-1zM29 1h1v1h-1zM29 6h1v1h-1z" fill="#00ffff"/>
<path d="M0 8h1v1h-1zM1 10h1v1h-1zM3 9h1v1h-1zM3 12h1v1h-1zM4 9h1v1h-1zM4 10h1v1h-1zM4 12h1v1h-1zM5 10h1v1h-1zM5 11h1v1h-1zM5 13h1v1h-1zM5 14h1v1h-1zM6 9h1v1h-1zM6 11h1v1h-1zM6 12h1v1h-1zM6 15h1v1h-1zM6 17h1v1h-1zM6 18h1v1h-1zM7 10h1v1h-1zM7 12h1v1h-1zM7 13h1v1h-1zM7 15h1v1h-1zM7 18h1v1h-1zM8 7h1v1h-1zM8 8h1v1h-1zM8 10h1v1h-1zM8 11h1v1h-1zM8 13h1v1h-1zM8 19h1v1h-1zM9 9h1v1h-1zM9 12h1v1h-1zM9 14h1v1h-1zM9 15h1v1h-1zM10 10h1v1h-1zM10 12h1v1h-1zM10 15h1v1h-1zM11 11h1v1h-1zM11 13h1v1h-1zM11 14h1v1h-1zM11 16h1v1h-1zM11 17h1v1h-1zM11 19h1v1h-1zM12 12h1v1h-1zM12 14h1v1h-1zM12 17h1v1h-1zM12 18h1v1h-1zM12 24h1v1h-1zM12 25h1v1h-1zM13 9h1v1h-1zM13 10h1v1h-1zM13 13h1v1h-1zM13 16h1v1h-1zM13 18h1v1h-1zM13 19h1v1h-1zM14 8h1v1h-1zM14 10h1v1h-1zM14 17h1v1h-1zM15 12h1v1h-1zM15 14h1v1h-1zM15 15h1v1h-1zM15 21h1v1h-1zM16 12h1v1h-1zM16 19h1v1h-1zM17 11h1v1h-1zM17 14h1v1h-1zM17 17h1v1h-1zM17 22h1v1h-1zM17 29h1v1h-1zM18 11h1v1h-1zM18 15h1v1h-1zM18 29h1v1h-1zM19 4h1v1h-1zM19 12h1v1h-1zM19 16h1v1h-1zM19 18h1v1h-1zM19 19h1v1h-1zM19 21h1v1h-1zM20 5h1v1h-1zM20 8h1v1h-1zM20 10h1v1h-1zM20 11h1v1h-1zM20 13h1v1h-1zM20 17h1v1h-1zM20 19h1v1h-1zM20 20h1v1h-1zM20 22h1v1h-1zM21 8h1v1h-1zM21 9h1v1h-1zM21 12h1v1h-1zM21 20h1v1h-1zM21 21h1v1h-1zM21 28h1v1h-1zM22 7h1v1h-1zM22 10h1v1h-1zM22 12h1v1h-1zM22 26h1v1h-1zM22 27h1v1h-1zM23 4h1v1h-1zM23 5h1v1h-1zM23 7h1v1h-1zM23 10h1v1h-1zM23 24h1v1h-1zM24 3h1v1h-1zM24 5h1v1h-1zM24 19h1v1h-1zM24 22h1v1h-1zM24 25h1v1h-1zM25 3h1v1h-1zM25 4h1v1h-1zM26 2h1v1h-1zM26 6h1v1h-1zM26 12h1v1h-1zM26 18h1v1h-1zM27 16h1v1h-1zM27 19h1v1h-1zM28 5h1v1h-1zM28 11h1v1h-1zM28 14h1v1h-1zM29 3h1v1h-1z" fill="#1affe5"/>
<path d="M1 7h1v1h-1zM1 9h1v1h-1zM2 7h1v1h-1zM2 8h1v1h-1zM2 10h1v1h-1zM2 11h1v1h-1zM3 6h1v1h-1zM3 11h1v1h-1zM4 13h1v1h-1zM5 7h1v1h-1zM6 5h1v1h-1zM6 8h1v1h-1zM7 7h1v1h-1zM7 9h1v1h-1zM9 11h1v1h-1zM10 6h1v1h-1zM10 7h1v1h-1zM10 9h1v1h-1zM10 23h1v1h-1zM10 25h1v1h-1zM11 4h1v1h-1zM11 5h1v1h-1zM11 7h1v1h-1zM11 8h1v1h-1zM11 10h1v1h-1zM11 21h1v1h-1zM11 23h1v1h-1zM12 5h1v1h-1zM12 8h1v1h-1zM12 11h1v1h-1zM12 15h1v1h-1zM13 7h1v1h-1zM13 12h1v1h-1zM13 15h1v1h-1zM13 27h1v1h-1zM14 7h1v1h-1zM14 11h1v1h-1zM14 13h1v1h-1zM14 14h1v1h-1zM14 27h1v1h-1zM15 5h1v1h-1zM15 6h1v1h-1zM15 9h1v1h-1zM15 11h1v1h-1zM15 22h1v1h-1zM16 4h1v1h-1zM16 9h1v1h-1zM16 10h1v1h-1zM16 13h1v1h-1zM17 4h1v1h-1zM17 5h1v1h-1zM17 7h1v1h-1zM17 10h1v1h-1zM17 13h1v1h-1zM17 30h1v1h-1zM18 8h1v1h-1zM18 9h1v1h-1zM18 12h1v1h-1zM18 14h1v1h-1zM18 17h1v1h-1zM18 19h1v1h-1zM18 28h1v1h-1zM19 3h1v1h-1zM19 6h1v1h-1zM19 9h1v1h-1zM19 10h1v1h-1zM19 13h1v1h-1zM19 26h1v1h-1zM19 29h1v1h-1zM20 4h1v1h-1zM20 7h1v1h-1zM20 14h1v1h-1zM20 16h1v1h-1zM20 27h1v1h-1zM21 5h1v1h-1zM21 22h1v1h-1zM21 25h1v1h-1zM22 9h1v1h-1zM22 13h1v1h-1zM22 20h1v1h-1zM23 12h1v1h-1zM25 8h1v1h-1zM25 11h1v1h-1zM25 17h1v1h-1zM25 20h1v1h-1zM26 9h1v1h-1zM26 15h1v1h-1zM27 4h1v1h-1zM27 10h1v1h-1zM27 13h1v1h-1zM28 8h1v1h-1zM30 1h1v1h-1z" fill="#33ffcc"/>
<path d="M0 6h1v1h-1zM1 6h1v1h-1zM1 11h1v1h-1zM2 12h1v1h-1zM3 5h1v1h-1zM3 8h1v1h-1zM3 13h1v1h-1zM3 16h1v1h-1zM4 4h1v1h-1zM4 6h1v1h-1zM4 7h1v1h-1zM4 17h1v1h-1zM5 4h1v1h-1zM5 8h1v1h-1zM6 13h1v1h-1zM6 16h1v1h-1zM6 19h1v1h-1zM7 4h1v1h-1zM7 6h1v1h-1zM7 17h1v1h-1zM8 4h1v1h-1zM8 15h1v1h-1zM8 18h1v1h-1zM9 5h1v1h-1zM9 6h1v1h-1zM9 8h1v1h-1zM9 19h1v1h-1zM9 22h1v1h-1zM10 13h1v1h-1zM10 20h1v1h-1zM11 9h1v1h-1zM11 24h1v1h-1zM12 6h1v1h-1zM12 9h1v1h-1zM12 22h1v1h-1zM13 6h1v1h-1zM13 17h1v1h-1zM13 23h1v1h-1zM14 15h1v1h-1zM14 21h1v1h-1zM14 24h1v1h-1zM15 3h1v1h-1zM15 8h1v1h-1zM15 19h1v1h-1zM15 25h1v1h-1zM16 3h1v1h-1zM16 6h1v1h-1zM16 7h1v1h-1zM16 15h1v1h-1zM16 16h1v1h-1zM16 18h1v1h-1zM16 23h1v1h-1zM17 8h1v1h-1zM17 18h1v1h-1zM17 21h1v1h-1zM17 24h1v1h-1zM18 5h1v1h-1zM18 25h1v1h-1zM19 7h1v1h-1zM19 11h1v1h-1zM19 23h1v1h-1zM20 15h1v1h-1zM20 21h1v1h-1zM20 24h1v1h-1zM20 30h1v1h-1zM21 3h1v1h-1zM21 6h1v1h-1zM21 7h1v1h-1zM21 13h1v1h-1zM21 19h1v1h-1zM22 3h1v1h-1zM22 4h1v1h-1zM22 14h1v1h-1zM22 17h1v1h-1zM22 23h1v1h-1zM22 30h1v1h-1zM23 15h1v1h-1zM23 21h1v1h-1zM24 7h1v1h-1zM24 10h1v1h-1zM24 13h1v1h-1zM24 16h1v1h-1zM25 14h1v1h-1zM25 26h1v1h-1zM26 1h1v1h-1zM28 0h1v1h-1zM30 14h1v1h-1z" fill="#4dffb2"/>
<path d="M0 10h1v1h-1zM2 4h1v1h-1zM2 5h1v1h-1zM4 3h1v1h-1zM4 14h1v1h-1zM5 5h1v1h-1zM5 9h1v1h-1zM5 12h1v1h-1zM5 15h1v1h-1zM6 3h1v1h-1zM6 6h1v1h-1zM6 7h1v1h-1zM6 10h1v1h-1zM7 14h1v1h-1zM8 5h1v1h-1zM9 3h1v1h-1zM9 7h1v1h-1zM9 13h1v1h-1zM9 16h1v1h-1zM10 3h1v1h-1zM10 4h1v1h-1zM10 11h1v1h-1zM10 14h1v1h-1zM10 17h1v1h-1zM11 15h1v1h-1zM11 18h1v1h-1zM12 3h1v1h-1zM12 10h1v1h-1zM12 19h1v1h-1zM13 4h1v1h-1zM13 20h1v1h-1zM14 4h1v1h-1zM14 5h1v1h-1zM14 16h1v1h-1zM15 7h1v1h-1zM15 10h1v1h-1zM15 13h1v1h-1zM15 16h1v1h-1zM15 26h1v1h-1zM16 11h1v1h-1zM16 17h1v1h-1zM17 15h1v1h-1zM18 6h1v1h-1zM18 7h1v1h-1zM18 10h1v1h-1zM18 16h1v1h-1zM18 22h1v1h-1zM19 5h1v1h-1zM19 8h1v1h-1zM19 14h1v1h-1zM19 17h1v1h-1zM19 20h1v1h-1zM20 6h1v1h-1zM20 9h1v1h-1zM20 12h1v1h-1zM20 18h1v1h-1zM21 10h1v1h-1zM21 16h1v1h-1zM22 5h1v1h-1zM22 11h1v1h-1zM23 6h1v1h-1zM23 9h1v1h-1zM23 18h1v1h-1zM24 2h1v1h-1zM24 4h1v1h-1zM25 5h1v1h-1zM26 3h1v1h-1z" fill="#66ff99"/>
<path d="M0 7h1v1h-1zM1 3h1v1h-1zM1 4h1v1h-1zM1 13h1v1h-1zM2 9h1v1h-1zM3 7h1v1h-1zM3 10h1v1h-1zM4 8h1v1h-1zM4 11h1v1h-1zM5 6h1v1h-1zM7 8h1v1h-1zM7 11h1v1h-1zM8 12h1v1h-1zM9 10h1v1h-1zM11 12h1v1h-1zM12 7h1v1h-1zM12 16h1v1h-1zM13 3h1v1h-1zM13 8h1v1h-1zM13 14h1v1h-1zM14 12h1v1h-1zM14 18h1v1h-1zM15 2h1v1h-1zM15 29h1v1h-1zM16 5h1v1h-1zM16 8h1v1h-1zM16 14h1v1h-1zM16 20h1v1h-1zM16 27h1v1h-1zM17 2h1v1h-1zM17 9h1v1h-1zM17 27h1v1h-1zM18 3h1v1h-1zM18 13h1v1h-1zM20 2h1v1h-1zM21 2h1v1h-1zM21 4h1v1h-1zM22 8h1v1h-1zM23 2h1v1h-1zM23 3h1v1h-1zM25 2h1v1h-1zM27 1h1v1h-1zM28 2h1v1h-1zM29 0h1v1h-1z" fill="#80ff80"/>
<path d="M0 3h1v1h-1zM1 5h1v1h-1zM1 8h1v1h-1zM2 6h1v1h-1zM3 3h1v1h-1zM4 5h1v1h-1zM6 4h1v1h-1zM7 3h1v1h-1zM7 5h1v1h-1zM8 2h1v1h-1zM8 6h1v1h-1zM8 9h1v1h-1zM9 2h1v1h-1zM9 4h1v1h-1zM10 5h1v1h-1zM10 8h1v1h-1zM11 6h1v1h-1zM12 4h1v1h-1zM12 13h1v1h-1zM13 5h1v1h-1zM13 11h1v1h-1zM14 6h1v1h-1zM14 9h1v1h-1zM15 4h1v1h-1zM17 6h1v1h-1zM17 12h1v1h-1zM18 2h1v1h-1zM25 1h1v1h-1zM27 0h1v1h-1z" fill="#99ff66"/>
<path d="M3 2h1v1h-1zM3 4h1v1h-1zM5 2h1v1h-1zM11 3h1v1h-1zM12 2h1v1h-1zM14 2h1v1h-1zM14 3h1v1h-1zM17 3h1v1h-1zM18 4h1v1h-1zM20 3h1v1h-1zM22 2h1v1h-1z" fill="#b3ff4c"/>
<path d="M0 2h1v1h-1zM0 4h1v1h-1zM2 2h1v1h-1zM5 3h1v1h-1zM6 2h1v1h-1zM8 3h1v1h-1zM11 2h1v1h-1zM22 1h1v1h-1zM23 1h1v1h-1z" fill="#ccff33"/>
<path d="M10 2h1v1h-1zM13 2h1v1h-1zM16 1h1v1h-1zM16 2h1v1h-1zM17 1h1v1h-1zM19 2h1v1h-1z" fill="#e5ff1a"/>
<path d="M1 2h1v1h-1zM2 3h1v1h-1zM4 1h1v1h-1zM4 2h1v1h-1zM7 1h1v1h-1zM8 1h1v1h-1zM10 1h1v1h-1zM11 1h1v1h-1zM13 1h1v1h-1zM20 1h1v1h-1zM24 1h1v1h-1zM25 0h1v1h-1z" fill="#ffff00"/>
<path d="M2 1h1v1h-1zM5 1h1v1h-1zM7 2h1v1h-1zM14 1h1v1h-1zM19 1h1v1h-1zM26 0h1v1h-1z" fill="#ffe500"/>
<path d="M1 1h1v1h-1zM21 1h1v1h-1zM24 0h1v1h-1z" fill="#ffcc00"/>
<path d="M15 1h1v1h-1z" fill="#ffb300"/>
<path d="M6 1h1v1h-1zM9 1h1v1h-1zM12 1h1v1h-1zM18 1h1v1h-1z" fill="#ff9900"/>
<path d="M3 1h1v1h-1z" fill="#ff8000"/>
<path d="M0 1h1v1h-1zM22 0h1v1h-1z" fill="#ff6600"/>
<path d="M21 0h1v1h-1z" fill="#ff4c00"/>
<path d="M9 0h1v1h-1zM10 0h1v1h-1zM13 0h1v1h-1zM18 0h1v1h-1zM19 0h1v1h-1zM23 0h1v1h-1z" fill="#ff3300"/>
<path d="M3 0h1v1h-1zM12 0h1v1h-1zM15 0h1v1h-1zM16 0h1v1h-1z" fill="#ff1a00"/>
<path d="M1 0h1v1h-1zM4 0h1v1h-1zM6 0h1v1h-1zM7 0h1v1h-1z" fill="#ff0000"/>
<path d="M11 0h1v1h-1zM17 0h1v1h-1z" fill="#e50000"/>
<path d="M0 0h1v1h-1zM8 0h1v1h-1zM14 0h1v1h-1zM20 0h1v1h-1z" fill="#cc0000"/>
<path d="M5 0h1v1h-1z" fill="#b30000"/>
<path d="M2 0h1v1h-1z" fill="#990000"/>
</g>
<rect x="403.4" y="441.4" width="86.1" height="86.1" fill="none" stroke="#222" stroke-width="0.6"/>
<text x="428.3" y="535.1" font-size="6.5" text-anchor="middle" font-weight="bold" fill="#4a4a4a">10</text>
<text x="452.3" y="535.1" font-size="6.5" text-anchor="middle" font-weight="bold" fill="#4a4a4a">20</text>
<text x="477.8" y="535.1" font-size="6.5" text-anchor="middle" font-weight="bold" fill="#4a4a4a">30</text>
<text x="400.8" y="451.3" font-size="6.5" text-anchor="end" font-weight="bold" fill="#4a4a4a">30</text>
<text x="400.8" y="464" font-size="6.5" text-anchor="end" font-weight="bold" fill="#4a4a4a">25</text>
<text x="400.8" y="476.9" font-size="6.5" text-anchor="end" font-weight="bold" fill="#4a4a4a">20</text>
<text x="400.8" y="489.8" font-size="6.5" text-anchor="end" font-weight="bold" fill="#4a4a4a">15</text>
<text x="400.8" y="502.3" font-size="6.5" text-anchor="end" font-weight="bold" fill="#4a4a4a">10</text>
<text x="400.8" y="515.3" font-size="6.5" text-anchor="end" font-weight="bold" fill="#4a4a4a">5</text>
<text x="400.8" y="528.3" font-size="6.5" text-anchor="end" font-weight="bold" fill="#4a4a4a">0</text>
<linearGradient id="g2" x1="0" y1="0" x2="0" y2="1"><stop offset="0%" stop-color="#800000"/><stop offset="12.5%" stop-color="#ff0000"/><stop offset="25%" stop-color="#ff8000"/><stop offset="37.5%" stop-color="#ffff00"/><stop offset="50%" stop-color="#80ff80"/><stop offset="62.5%" stop-color="#00ffff"/><stop offset="75%" stop-color="#0080ff"/><stop offset="87.5%" stop-color="#0000ff"/><stop offset="100%" stop-color="#000080"/></linearGradient>
<rect x="501.2" y="441.4" width="12.6" height="86.1" fill="url(#g2)" stroke="#333" stroke-width="0.8"/>
<text x="516.2" y="529.8" font-size="6.5" text-anchor="start" font-weight="bold" fill="#444">0</text>
<text x="516.2" y="510.9" font-size="6.5" text-anchor="start" font-weight="bold" fill="#444">1</text>
<text x="516.2" y="492" font-size="6.5" text-anchor="start" font-weight="bold" fill="#444">2</text>
<text x="516.2" y="473.2" font-size="6.5" text-anchor="start" font-weight="bold" fill="#444">3</text>
<text x="516.2" y="454.3" font-size="6.5" text-anchor="start" font-weight="bold" fill="#444">4</text>
<path d="M501.2 527.5h1.6M513.8 527.5h-1.6M501.2 508.6h1.6M513.8 508.6h-1.6M501.2 489.7h1.6M513.8 489.7h-1.6M501.2 470.9h1.6M513.8 470.9h-1.6M501.2 452h1.6M513.8 452h-1.6" stroke="#333" stroke-width="0.6"/>
<text x="444.4" y="550.9" font-size="11.8" text-anchor="middle" fill="#000" stroke="#000" stroke-width="0.35">Total deletions</text>
<text x="387.1" y="485.2" font-size="12.1" text-anchor="middle" fill="#000" transform="rotate(-90 387.1 485.2)" stroke="#000" stroke-width="0.35">Total insertions</text>
<rect x="53.5" y="571" width="86.1" height="85.8" fill="#000080"/>
<g transform="translate(53.5 656.8) scale(2.4600 -2.4514)" shape-rendering="crispEdges">
<path d="M0 33h1v1h-1zM27 21h1v1h-1zM29 25h1v1h-1zM30 26h1v1h-1zM32 11h1v1h-1z" fill="#001aff"/>
<path d="M26 22h1v1h-1zM30 3h1v1h-1zM31 32h1v1h-1zM32 14h1v1h-1zM32 33h1v1h-1z" fill="#0033ff"/>
<path d="M30 16h1v1h-1zM31 17h1v1h-1z" fill="#004dff"/>
<path d="M5 21h1v1h-1zM18 29h1v1h-1zM22 31h1v1h-1zM26 32h1v1h-1zM29 19h1v1h-1zM30 2h1v1h-1zM32 12h1v1h-1zM32 19h1v1h-1zM33 1h1v1h-1zM34 0h1v1h-1z" fill="#0066ff"/>
<path d="M11 26h1v1h-1zM28 16h1v1h-1z" fill="#0080ff"/>
<path d="M3 16h1v1h-1zM6 20h1v1h-1zM19 24h1v1h-1zM22 24h1v1h-1zM25 28h1v1h-1zM29 11h1v1h-1zM32 23h1v1h-1zM33 17h1v1h-1z" fill="#0099ff"/>
<path d="M5 18h1v1h-1zM7 22h1v1h-1zM8 31h1v1h-1zM9 2h1v1h-1zM12 24h1v1h-1zM16 29h1v1h-1zM22 29h1v1h-1zM24 25h1v1h-1zM25 22h1v1h-1zM27 3h1v1h-1zM27 17h1v1h-1zM27 18h1v1h-1zM29 12h1v1h-1zM31 7h1v1h-1z" fill="#00b2ff"/>
<path d="M1 11h1v1h-1zM3 21h1v1h-1zM14 25h1v1h-1zM25 24h1v1h-1zM27 27h1v1h-1zM28 9h1v1h-1zM28 12h1v1h-1zM28 14h1v1h-1zM29 7h1v1h-1zM29 14h1v1h-1zM29 20h1v1h-1zM30 19h1v1h-1zM34 19h1v1h-1z" fill="#00ccff"/>
<path d="M3 33h1v1h-1zM4 28h1v1h-1zM19 25h1v1h-1zM23 27h1v1h-1zM26 19h1v1h-1zM28 10h1v1h-1zM28 13h1v1h-1zM31 20h1v1h-1z" fill="#00e5ff"/>
<path d="M24 23h1v1h-1zM25 21h1v1h-1zM26 15h1v1h-1z" fill="#00ffff"/>
<path d="M13 26h1v1h-1zM15 26h1v1h-1zM21 26h1v1h-1zM25 23h1v1h-1zM27 12h1v1h-1zM28 6h1v1h-1zM29 4h1v1h-1z" fill="#1affe5"/>
<path d="M11 24h1v1h-1zM21 24h1v1h-1zM23 23h1v1h-1zM23 25h1v1h-1zM24 24h1v1h-1zM25 18h1v1h-1zM25 19h1v1h-1zM26 13h1v1h-1zM26 14h1v1h-1zM26 16h1v1h-1zM26 17h1v1h-1zM27 10h1v1h-1zM27 13h1v1h-1zM28 8h1v1h-1zM29 3h1v1h-1zM29 5h1v1h-1z" fill="#33ffcc"/>
<path d="M5 17h1v1h-1zM13 24h1v1h-1zM20 26h1v1h-1zM20 27h1v1h-1zM21 27h1v1h-1zM23 22h1v1h-1zM24 18h1v1h-1zM24 21h1v1h-1zM24 26h1v1h-1zM25 15h1v1h-1zM25 20h1v1h-1zM27 11h1v1h-1zM27 15h1v1h-1zM28 5h1v1h-1zM28 7h1v1h-1zM29 2h1v1h-1zM29 6h1v1h-1zM30 0h1v1h-1z" fill="#4dffb2"/>
<path d="M0 11h1v1h-1zM8 23h1v1h-1zM10 22h1v1h-1zM10 24h1v1h-1zM12 25h1v1h-1zM16 23h1v1h-1zM16 24h1v1h-1zM16 27h1v1h-1zM18 25h1v1h-1zM18 26h1v1h-1zM21 25h1v1h-1zM23 19h1v1h-1zM23 20h1v1h-1zM23 21h1v1h-1zM24 17h1v1h-1zM24 19h1v1h-1zM24 20h1v1h-1zM25 12h1v1h-1zM25 16h1v1h-1zM26 8h1v1h-1zM26 10h1v1h-1zM26 11h1v1h-1zM26 18h1v1h-1zM28 4h1v1h-1zM29 0h1v1h-1zM29 1h1v1h-1z" fill="#66ff99"/>
<path d="M2 13h1v1h-1zM3 15h1v1h-1zM4 16h1v1h-1zM8 19h1v1h-1zM8 21h1v1h-1zM9 22h1v1h-1zM10 23h1v1h-1zM11 22h1v1h-1zM11 23h1v1h-1zM12 22h1v1h-1zM12 23h1v1h-1zM15 23h1v1h-1zM15 25h1v1h-1zM17 27h1v1h-1zM19 23h1v1h-1zM20 22h1v1h-1zM21 20h1v1h-1zM21 21h1v1h-1zM21 22h1v1h-1zM21 23h1v1h-1zM22 15h1v1h-1zM22 18h1v1h-1zM22 19h1v1h-1zM22 20h1v1h-1zM22 21h1v1h-1zM22 22h1v1h-1zM22 23h1v1h-1zM23 14h1v1h-1zM23 17h1v1h-1zM25 10h1v1h-1zM25 14h1v1h-1zM25 17h1v1h-1zM26 12h1v1h-1zM27 4h1v1h-1zM27 5h1v1h-1zM27 6h1v1h-1zM27 7h1v1h-1zM27 8h1v1h-1zM27 9h1v1h-1zM28 0h1v1h-1zM28 2h1v1h-1zM28 3h1v1h-1z" fill="#80ff80"/>
<path d="M1 9h1v1h-1zM1 12h1v1h-1zM2 12h1v1h-1zM3 14h1v1h-1zM4 13h1v1h-1zM4 15h1v1h-1zM5 14h1v1h-1zM5 16h1v1h-1zM6 18h1v1h-1zM7 18h1v1h-1zM8 20h1v1h-1zM9 20h1v1h-1zM10 18h1v1h-1zM10 21h1v1h-1zM11 19h1v1h-1zM11 21h1v1h-1zM12 21h1v1h-1zM13 19h1v1h-1zM13 21h1v1h-1zM13 23h1v1h-1zM14 23h1v1h-1zM15 22h1v1h-1zM15 24h1v1h-1zM16 25h1v1h-1zM17 23h1v1h-1zM17 24h1v1h-1zM18 21h1v1h-1zM18 22h1v1h-1zM18 23h1v1h-1zM18 24h1v1h-1zM19 19h1v1h-1zM20 19h1v1h-1zM20 21h1v1h-1zM23 15h1v1h-1zM23 16h1v1h-1zM23 18h1v1h-1zM24 11h1v1h-1zM24 12h1v1h-1zM24 13h1v1h-1zM24 14h1v1h-1zM24 15h1v1h-1zM24 16h1v1h-1zM25 9h1v1h-1zM25 11h1v1h-1zM25 13h1v1h-1zM26 1h1v1h-1zM26 2h1v1h-1zM26 3h1v1h-1zM26 9h1v1h-1zM27 0h1v1h-1zM27 1h1v1h-1zM27 2h1v1h-1zM28 1h1v1h-1z" fill="#99ff66"/>
<path d="M1 10h1v1h-1zM2 11h1v1h-1zM3 12h1v1h-1zM3 13h1v1h-1zM4 14h1v1h-1zM6 14h1v1h-1zM6 15h1v1h-1zM6 16h1v1h-1zM7 17h1v1h-1zM8 17h1v1h-1zM9 19h1v1h-1zM10 19h1v1h-1zM11 20h1v1h-1zM12 18h1v1h-1zM12 20h1v1h-1zM13 20h1v1h-1zM13 22h1v1h-1zM14 17h1v1h-1zM14 19h1v1h-1zM14 21h1v1h-1zM14 22h1v1h-1zM15 20h1v1h-1zM15 21h1v1h-1zM16 18h1v1h-1zM16 22h1v1h-1zM17 20h1v1h-1zM17 22h1v1h-1zM18 19h1v1h-1zM18 20h1v1h-1zM19 21h1v1h-1zM19 22h1v1h-1zM20 17h1v1h-1zM20 18h1v1h-1zM20 20h1v1h-1zM21 13h1v1h-1zM21 16h1v1h-1zM21 17h1v1h-1zM21 18h1v1h-1zM21 19h1v1h-1zM22 12h1v1h-1zM22 13h1v1h-1zM22 14h1v1h-1zM22 17h1v1h-1zM24 8h1v1h-1zM24 9h1v1h-1zM24 10h1v1h-1zM25 0h1v1h-1zM25 4h1v1h-1zM25 7h1v1h-1zM25 8h1v1h-1zM26 0h1v1h-1zM26 4h1v1h-1zM26 5h1v1h-1zM26 6h1v1h-1zM26 7h1v1h-1z" fill="#b3ff4c"/>
<path d="M0 8h1v1h-1zM2 10h1v1h-1zM4 12h1v1h-1zM5 10h1v1h-1zM5 13h1v1h-1zM5 15h1v1h-1zM6 12h1v1h-1zM7 14h1v1h-1zM7 15h1v1h-1zM8 14h1v1h-1zM8 15h1v1h-1zM8 16h1v1h-1zM9 15h1v1h-1zM9 17h1v1h-1zM10 15h1v1h-1zM10 16h1v1h-1zM10 17h1v1h-1zM10 20h1v1h-1zM11 14h1v1h-1zM11 17h1v1h-1zM11 18h1v1h-1zM12 15h1v1h-1zM12 19h1v1h-1zM13 16h1v1h-1zM13 18h1v1h-1zM14 20h1v1h-1zM15 17h1v1h-1zM15 18h1v1h-1zM15 19h1v1h-1zM16 20h1v1h-1zM16 21h1v1h-1zM17 16h1v1h-1zM17 17h1v1h-1zM17 21h1v1h-1zM18 15h1v1h-1zM18 18h1v1h-1zM19 20h1v1h-1zM20 13h1v1h-1zM20 16h1v1h-1zM21 11h1v1h-1zM21 15h1v1h-1zM22 4h1v1h-1zM22 10h1v1h-1zM22 16h1v1h-1zM23 2h1v1h-1zM23 5h1v1h-1zM23 8h1v1h-1zM23 9h1v1h-1zM23 10h1v1h-1zM23 11h1v1h-1zM23 12h1v1h-1zM23 13h1v1h-1zM24 1h1v1h-1zM24 2h1v1h-1zM24 3h1v1h-1zM24 5h1v1h-1zM24 6h1v1h-1zM24 7h1v1h-1zM25 1h1v1h-1zM25 2h1v1h-1zM25 5h1v1h-1zM25 6h1v1h-1z" fill="#ccff33"/>
<path d="M0 7h1v1h-1zM2 9h1v1h-1zM3 9h1v1h-1zM3 11h1v1h-1zM4 10h1v1h-1zM6 11h1v1h-1zM6 13h1v1h-1zM7 13h1v1h-1zM7 16h1v1h-1zM8 11h1v1h-1zM8 13h1v1h-1zM8 18h1v1h-1zM9 12h1v1h-1zM9 14h1v1h-1zM9 16h1v1h-1zM12 17h1v1h-1zM13 15h1v1h-1zM13 17h1v1h-1zM14 14h1v1h-1zM14 16h1v1h-1zM15 13h1v1h-1zM15 15h1v1h-1zM16 14h1v1h-1zM16 15h1v1h-1zM16 16h1v1h-1zM16 19h1v1h-1zM17 10h1v1h-1zM17 11h1v1h-1zM17 13h1v1h-1zM17 14h1v1h-1zM17 15h1v1h-1zM17 18h1v1h-1zM17 19h1v1h-1zM18 16h1v1h-1zM18 17h1v1h-1zM19 12h1v1h-1zM19 14h1v1h-1zM19 15h1v1h-1zM19 16h1v1h-1zM19 17h1v1h-1zM19 18h1v1h-1zM20 11h1v1h-1zM20 12h1v1h-1zM20 14h1v1h-1zM20 15h1v1h-1zM21 6h1v1h-1zM21 7h1v1h-1zM21 8h1v1h-1zM21 9h1v1h-1zM21 10h1v1h-1zM21 14h1v1h-1zM22 5h1v1h-1zM22 6h1v1h-1zM22 7h1v1h-1zM22 9h1v1h-1zM22 11h1v1h-1zM23 4h1v1h-1zM23 6h1v1h-1zM23 7h1v1h-1zM24 4h1v1h-1zM25 3h1v1h-1z" fill="#e5ff1a"/>
<path d="M1 8h1v1h-1zM2 8h1v1h-1zM3 8h1v1h-1zM3 10h1v1h-1zM4 9h1v1h-1zM4 11h1v1h-1zM5 9h1v1h-1zM5 11h1v1h-1zM5 12h1v1h-1zM6 9h1v1h-1zM7 10h1v1h-1zM7 11h1v1h-1zM7 12h1v1h-1zM8 10h1v1h-1zM8 12h1v1h-1zM9 6h1v1h-1zM9 9h1v1h-1zM9 13h1v1h-1zM10 12h1v1h-1zM10 14h1v1h-1zM11 8h1v1h-1zM11 11h1v1h-1zM11 15h1v1h-1zM11 16h1v1h-1zM12 13h1v1h-1zM12 14h1v1h-1zM13 11h1v1h-1zM13 12h1v1h-1zM13 13h1v1h-1zM13 14h1v1h-1zM14 10h1v1h-1zM14 11h1v1h-1zM14 12h1v1h-1zM14 13h1v1h-1zM14 15h1v1h-1zM14 18h1v1h-1zM15 11h1v1h-1zM15 12h1v1h-1zM15 14h1v1h-1zM15 16h1v1h-1zM16 12h1v1h-1zM16 13h1v1h-1zM16 17h1v1h-1zM18 11h1v1h-1zM18 14h1v1h-1zM19 8h1v1h-1zM19 9h1v1h-1zM19 10h1v1h-1zM19 13h1v1h-1zM20 7h1v1h-1zM20 8h1v1h-1zM20 9h1v1h-1zM20 10h1v1h-1zM21 5h1v1h-1zM21 12h1v1h-1zM22 3h1v1h-1zM22 8h1v1h-1zM23 1h1v1h-1zM23 3h1v1h-1zM24 0h1v1h-1z" fill="#ffff00"/>
<path d="M0 6h1v1h-1zM1 4h1v1h-1zM1 5h1v1h-1zM1 6h1v1h-1zM1 7h1v1h-1zM2 7h1v1h-1zM3 6h1v1h-1zM3 7h1v1h-1zM4 7h1v1h-1zM4 8h1v1h-1zM5 5h1v1h-1zM5 8h1v1h-1zM6 5h1v1h-1zM6 10h1v1h-1zM7 8h1v1h-1zM7 9h1v1h-1zM8 8h1v1h-1zM8 9h1v1h-1zM9 7h1v1h-1zM9 10h1v1h-1zM10 4h1v1h-1zM10 8h1v1h-1zM10 9h1v1h-1zM10 10h1v1h-1zM10 13h1v1h-1zM11 4h1v1h-1zM11 5h1v1h-1zM11 6h1v1h-1zM11 7h1v1h-1zM11 9h1v1h-1zM11 10h1v1h-1zM11 13h1v1h-1zM12 3h1v1h-1zM12 7h1v1h-1zM12 8h1v1h-1zM12 9h1v1h-1zM12 11h1v1h-1zM12 12h1v1h-1zM12 16h1v1h-1zM13 7h1v1h-1zM13 10h1v1h-1zM15 5h1v1h-1zM15 6h1v1h-1zM15 7h1v1h-1zM15 8h1v1h-1zM16 4h1v1h-1zM16 7h1v1h-1zM16 9h1v1h-1zM16 10h1v1h-1zM16 11h1v1h-1zM17 5h1v1h-1zM17 7h1v1h-1zM17 12h1v1h-1zM18 8h1v1h-1zM18 9h1v1h-1zM18 10h1v1h-1zM18 12h1v1h-1zM19 3h1v1h-1zM19 4h1v1h-1zM19 5h1v1h-1zM19 7h1v1h-1zM19 11h1v1h-1zM20 4h1v1h-1zM20 5h1v1h-1zM20 6h1v1h-1zM21 2h1v1h-1zM21 4h1v1h-1zM22 1h1v1h-1zM22 2h1v1h-1z" fill="#ffe500"/>
<path d="M0 5h1v1h-1zM2 4h1v1h-1zM2 5h1v1h-1zM2 6h1v1h-1zM3 5h1v1h-1zM4 4h1v1h-1zM4 5h1v1h-1zM4 6h1v1h-1zM5 7h1v1h-1zM6 8h1v1h-1zM7 5h1v1h-1zM7 7h1v1h-1zM8 4h1v1h-1zM8 6h1v1h-1zM8 7h1v1h-1zM9 5h1v1h-1zM9 8h1v1h-1zM9 11h1v1h-1zM10 3h1v1h-1zM10 6h1v1h-1zM10 7h1v1h-1zM10 11h1v1h-1zM11 12h1v1h-1zM13 4h1v1h-1zM13 6h1v1h-1zM13 8h1v1h-1zM13 9h1v1h-1zM14 4h1v1h-1zM14 5h1v1h-1zM14 6h1v1h-1zM14 7h1v1h-1zM14 8h1v1h-1zM14 9h1v1h-1zM15 3h1v1h-1zM15 4h1v1h-1zM15 9h1v1h-1zM15 10h1v1h-1zM16 5h1v1h-1zM16 6h1v1h-1zM16 8h1v1h-1zM17 6h1v1h-1zM17 8h1v1h-1zM17 9h1v1h-1zM18 3h1v1h-1zM18 4h1v1h-1zM18 5h1v1h-1zM18 6h1v1h-1zM18 7h1v1h-1zM18 13h1v1h-1zM19 6h1v1h-1zM20 2h1v1h-1zM21 1h1v1h-1zM21 3h1v1h-1zM22 0h1v1h-1zM23 0h1v1h-1z" fill="#ffcc00"/>
<path d="M0 9h1v1h-1zM3 4h1v1h-1zM5 4h1v1h-1zM5 6h1v1h-1zM6 3h1v1h-1zM6 4h1v1h-1zM6 6h1v1h-1zM6 7h1v1h-1zM7 3h1v1h-1zM7 4h1v1h-1zM7 6h1v1h-1zM9 3h1v1h-1zM9 4h1v1h-1zM9 18h1v1h-1zM10 2h1v1h-1zM10 5h1v1h-1zM11 3h1v1h-1zM12 2h1v1h-1zM12 5h1v1h-1zM12 6h1v1h-1zM13 3h1v1h-1zM14 3h1v1h-1zM16 3h1v1h-1zM17 2h1v1h-1zM17 4h1v1h-1zM18 2h1v1h-1zM19 2h1v1h-1zM20 3h1v1h-1zM21 0h1v1h-1z" fill="#ffb300"/>
<path d="M1 3h1v1h-1zM2 3h1v1h-1zM3 3h1v1h-1zM4 3h1v1h-1zM5 2h1v1h-1zM8 2h1v1h-1zM8 3h1v1h-1zM8 5h1v1h-1zM11 2h1v1h-1zM12 4h1v1h-1zM13 5h1v1h-1zM14 2h1v1h-1zM15 2h1v1h-1zM16 1h1v1h-1zM17 3h1v1h-1zM18 1h1v1h-1zM19 1h1v1h-1zM20 1h1v1h-1z" fill="#ff9900"/>
<path d="M3 2h1v1h-1zM4 2h1v1h-1zM5 3h1v1h-1zM6 2h1v1h-1zM6 19h1v1h-1zM7 2h1v1h-1zM10 1h1v1h-1zM12 1h1v1h-1zM15 1h1v1h-1zM17 1h1v1h-1z" fill="#ff8000"/>
<path d="M0 2h1v1h-1zM1 2h1v1h-1zM4 1h1v1h-1zM6 1h1v1h-1zM6 17h1v1h-1zM7 1h1v1h-1zM8 1h1v1h-1zM9 1h1v1h-1zM11 1h1v1h-1zM13 1h1v1h-1zM13 2h1v1h-1zM14 1h1v1h-1zM16 2h1v1h-1zM20 0h1v1h-1z" fill="#ff6600"/>
<path d="M0 1h1v1h-1zM2 1h1v1h-1zM2 2h1v1h-1zM3 1h1v1h-1zM9 21h1v1h-1zM19 0h1v1h-1z" fill="#ff4c00"/>
<path d="M5 1h1v1h-1zM13 0h1v1h-1zM17 0h1v1h-1zM18 0h1v1h-1z" fill="#ff3300"/>
<path d="M1 1h1v1h-1zM6 0h1v1h-1zM7 0h1v1h-1zM9 0h1v1h-1zM10 0h1v1h-1zM12 0h1v1h-1zM14 0h1v1h-1zM16 0h1v1h-1z" fill="#ff1a00"/>
<path d="M1 0h1v1h-1zM4 0h1v1h-1zM5 0h1v1h-1zM8 0h1v1h-1zM11 0h1v1h-1zM15 0h1v1h-1z" fill="#ff0000"/>
<path d="M0 0h1v1h-1zM3 0h1v1h-1z" fill="#e50000"/>
<path d="M2 0h1v1h-1z" fill="#cc0000"/>
<path d="M12 10h1v1h-1z" fill="#b30000"/>
</g>
<rect x="53.5" y="571" width="86.1" height="85.8" fill="none" stroke="#222" stroke-width="0.6"/>
<text x="77" y="664.4" font-size="6.5" text-anchor="middle" font-weight="bold" fill="#4a4a4a">10</text>
<text x="101.5" y="664.4" font-size="6.5" text-anchor="middle" font-weight="bold" fill="#4a4a4a">20</text>
<text x="126" y="664.4" font-size="6.5" text-anchor="middle" font-weight="bold" fill="#4a4a4a">30</text>
<text x="50.9" y="581.3" font-size="6.5" text-anchor="end" font-weight="bold" fill="#4a4a4a">30</text>
<text x="50.9" y="594" font-size="6.5" text-anchor="end" font-weight="bold" fill="#4a4a4a">25</text>
<text x="50.9" y="606.3" font-size="6.5" text-anchor="end" font-weight="bold" fill="#4a4a4a">20</text>
<text x="50.9" y="619.3" font-size="6.5" text-anchor="end" font-weight="bold" fill="#4a4a4a">15</text>
<text x="50.9" y="631.3" font-size="6.5" text-anchor="end" font-weight="bold" fill="#4a4a4a">10</text>
<text x="50.9" y="644.8" font-size="6.5" text-anchor="end" font-weight="bold" fill="#4a4a4a">5</text>
<text x="50.9" y="657.1" font-size="6.5" text-anchor="end" font-weight="bold" fill="#4a4a4a">0</text>
<linearGradient id="g3" x1="0" y1="0" x2="0" y2="1"><stop offset="0%" stop-color="#800000"/><stop offset="12.5%" stop-color="#ff0000"/><stop offset="25%" stop-color="#ff8000"/><stop offset="37.5%" stop-color="#ffff00"/><stop offset="50%" stop-color="#80ff80"/><stop offset="62.5%" stop-color="#00ffff"/><stop offset="75%" stop-color="#0080ff"/><stop offset="87.5%" stop-color="#0000ff"/><stop offset="100%" stop-color="#000080"/></linearGradient>
<rect x="150.8" y="571" width="13.2" height="85.8" fill="url(#g3)" stroke="#333" stroke-width="0.8"/>
<text x="166.4" y="659.1" font-size="6.5" text-anchor="start" font-weight="bold" fill="#444">0</text>
<text x="166.4" y="639.9" font-size="6.5" text-anchor="start" font-weight="bold" fill="#444">1</text>
<text x="166.4" y="620.7" font-size="6.5" text-anchor="start" font-weight="bold" fill="#444">2</text>
<text x="166.4" y="601.5" font-size="6.5" text-anchor="start" font-weight="bold" fill="#444">3</text>
<text x="166.4" y="582.3" font-size="6.5" text-anchor="start" font-weight="bold" fill="#444">4</text>
<path d="M150.8 656.8h1.6M164 656.8h-1.6M150.8 637.6h1.6M164 637.6h-1.6M150.8 618.4h1.6M164 618.4h-1.6M150.8 599.2h1.6M164 599.2h-1.6M150.8 580h1.6M164 580h-1.6" stroke="#333" stroke-width="0.6"/>
<text x="94.5" y="680.2" font-size="11.8" text-anchor="middle" fill="#000" stroke="#000" stroke-width="0.35">Total deletions</text>
<text x="37.2" y="614.7" font-size="12.1" text-anchor="middle" fill="#000" transform="rotate(-90 37.2 614.7)" stroke="#000" stroke-width="0.35">Total insertions</text>
<rect x="229" y="572" width="85.8" height="85.8" fill="#000080"/>
<g transform="translate(229 657.8) scale(2.4514 -2.4514)" shape-rendering="crispEdges">
<path d="M1 28h1v1h-1zM14 32h1v1h-1zM19 28h1v1h-1zM24 21h1v1h-1zM25 25h1v1h-1zM26 24h1v1h-1zM26 30h1v1h-1zM30 15h1v1h-1zM30 19h1v1h-1zM31 22h1v1h-1zM32 6h1v1h-1z" fill="#001aff"/>
<path d="M2 33h1v1h-1zM16 30h1v1h-1zM17 29h1v1h-1zM18 28h1v1h-1zM19 31h1v1h-1zM22 32h1v1h-1zM23 30h1v1h-1zM25 28h1v1h-1zM26 25h1v1h-1zM27 13h1v1h-1zM27 21h1v1h-1zM28 20h1v1h-1zM31 7h1v1h-1zM32 1h1v1h-1zM32 3h1v1h-1zM33 12h1v1h-1zM33 22h1v1h-1z" fill="#0033ff"/>
<path d="M3 32h1v1h-1zM6 28h1v1h-1zM17 32h1v1h-1zM17 33h1v1h-1zM19 32h1v1h-1zM20 28h1v1h-1zM21 29h1v1h-1zM21 32h1v1h-1zM24 22h1v1h-1zM27 16h1v1h-1zM27 27h1v1h-1zM29 1h1v1h-1zM29 14h1v1h-1zM29 17h1v1h-1zM29 19h1v1h-1z" fill="#004dff"/>
<path d="M16 33h1v1h-1zM18 30h1v1h-1zM19 29h1v1h-1zM23 31h1v1h-1zM24 28h1v1h-1zM25 22h1v1h-1zM25 29h1v1h-1zM27 19h1v1h-1zM29 15h1v1h-1zM30 8h1v1h-1zM30 17h1v1h-1zM31 1h1v1h-1zM31 27h1v1h-1zM34 0h1v1h-1z" fill="#0066ff"/>
<path d="M0 17h1v1h-1zM16 29h1v1h-1zM17 31h1v1h-1zM25 21h1v1h-1zM25 30h1v1h-1zM26 29h1v1h-1zM27 29h1v1h-1zM28 25h1v1h-1zM29 27h1v1h-1zM29 28h1v1h-1zM30 3h1v1h-1zM30 4h1v1h-1zM30 7h1v1h-1zM30 30h1v1h-1zM32 18h1v1h-1zM34 19h1v1h-1z" fill="#0080ff"/>
<path d="M21 26h1v1h-1zM23 23h1v1h-1zM29 7h1v1h-1zM29 9h1v1h-1zM29 12h1v1h-1zM29 31h1v1h-1zM31 9h1v1h-1zM31 18h1v1h-1zM32 23h1v1h-1zM34 2h1v1h-1zM34 3h1v1h-1zM34 13h1v1h-1z" fill="#0099ff"/>
<path d="M8 13h1v1h-1zM12 30h1v1h-1zM15 24h1v1h-1zM22 26h1v1h-1zM22 31h1v1h-1zM24 25h1v1h-1zM24 31h1v1h-1zM25 18h1v1h-1zM26 11h1v1h-1zM26 13h1v1h-1zM26 14h1v1h-1zM27 11h1v1h-1zM28 11h1v1h-1zM29 8h1v1h-1zM29 21h1v1h-1zM29 25h1v1h-1zM31 3h1v1h-1zM34 16h1v1h-1z" fill="#00b2ff"/>
<path d="M9 22h1v1h-1zM10 24h1v1h-1zM24 18h1v1h-1zM25 16h1v1h-1zM26 16h1v1h-1zM27 12h1v1h-1zM28 7h1v1h-1zM29 2h1v1h-1z" fill="#00ccff"/>
<path d="M16 27h1v1h-1zM23 17h1v1h-1zM25 10h1v1h-1zM25 15h1v1h-1zM26 6h1v1h-1zM26 10h1v1h-1zM27 1h1v1h-1zM27 6h1v1h-1zM27 8h1v1h-1zM27 9h1v1h-1zM27 14h1v1h-1zM28 4h1v1h-1zM28 5h1v1h-1zM28 6h1v1h-1zM29 3h1v1h-1z" fill="#00e5ff"/>
<path d="M6 19h1v1h-1zM8 16h1v1h-1zM8 19h1v1h-1zM10 21h1v1h-1zM10 22h1v1h-1zM13 27h1v1h-1zM14 23h1v1h-1zM15 26h1v1h-1zM18 23h1v1h-1zM18 24h1v1h-1zM19 18h1v1h-1zM21 17h1v1h-1zM21 23h1v1h-1zM22 16h1v1h-1zM22 18h1v1h-1zM22 20h1v1h-1zM22 21h1v1h-1zM23 16h1v1h-1zM23 18h1v1h-1zM24 6h1v1h-1zM24 12h1v1h-1zM24 15h1v1h-1zM24 16h1v1h-1zM24 19h1v1h-1zM25 9h1v1h-1zM25 11h1v1h-1zM25 12h1v1h-1zM25 13h1v1h-1zM26 7h1v1h-1zM26 8h1v1h-1zM26 9h1v1h-1zM27 4h1v1h-1zM27 5h1v1h-1zM27 10h1v1h-1zM28 2h1v1h-1zM28 3h1v1h-1zM29 6h1v1h-1z" fill="#00ffff"/>
<path d="M3 16h1v1h-1zM4 16h1v1h-1zM5 18h1v1h-1zM6 14h1v1h-1zM6 17h1v1h-1zM7 19h1v1h-1zM8 15h1v1h-1zM8 18h1v1h-1zM10 19h1v1h-1zM10 23h1v1h-1zM11 22h1v1h-1zM12 21h1v1h-1zM12 23h1v1h-1zM12 24h1v1h-1zM12 26h1v1h-1zM13 22h1v1h-1zM13 23h1v1h-1zM14 19h1v1h-1zM15 23h1v1h-1zM15 28h1v1h-1zM16 24h1v1h-1zM17 22h1v1h-1zM17 24h1v1h-1zM17 26h1v1h-1zM18 21h1v1h-1zM18 25h1v1h-1zM18 26h1v1h-1zM20 19h1v1h-1zM20 20h1v1h-1zM20 21h1v1h-1zM20 22h1v1h-1zM20 23h1v1h-1zM21 20h1v1h-1zM21 22h1v1h-1zM21 24h1v1h-1zM22 10h1v1h-1zM22 19h1v1h-1zM23 13h1v1h-1zM23 14h1v1h-1zM24 2h1v1h-1zM24 3h1v1h-1zM24 8h1v1h-1zM24 11h1v1h-1zM24 13h1v1h-1zM24 14h1v1h-1zM24 17h1v1h-1zM25 1h1v1h-1zM25 2h1v1h-1zM25 3h1v1h-1zM25 4h1v1h-1zM25 6h1v1h-1zM25 7h1v1h-1zM25 14h1v1h-1zM26 1h1v1h-1zM26 2h1v1h-1zM26 4h1v1h-1zM26 5h1v1h-1zM26 12h1v1h-1zM27 2h1v1h-1zM27 3h1v1h-1zM28 1h1v1h-1zM29 0h1v1h-1z" fill="#1affe5"/>
<path d="M1 12h1v1h-1zM3 14h1v1h-1zM4 14h1v1h-1zM4 15h1v1h-1zM5 17h1v1h-1zM6 16h1v1h-1zM7 14h1v1h-1zM7 15h1v1h-1zM7 17h1v1h-1zM7 18h1v1h-1zM8 14h1v1h-1zM8 17h1v1h-1zM8 21h1v1h-1zM9 14h1v1h-1zM9 15h1v1h-1zM9 17h1v1h-1zM9 18h1v1h-1zM9 19h1v1h-1zM9 20h1v1h-1zM9 21h1v1h-1zM10 14h1v1h-1zM10 16h1v1h-1zM10 17h1v1h-1zM10 18h1v1h-1zM11 19h1v1h-1zM11 20h1v1h-1zM11 23h1v1h-1zM12 5h1v1h-1zM12 17h1v1h-1zM12 19h1v1h-1zM13 13h1v1h-1zM13 16h1v1h-1zM13 24h1v1h-1zM13 25h1v1h-1zM14 16h1v1h-1zM14 22h1v1h-1zM15 18h1v1h-1zM15 21h1v1h-1zM16 12h1v1h-1zM16 21h1v1h-1zM16 22h1v1h-1zM16 23h1v1h-1zM16 25h1v1h-1zM17 10h1v1h-1zM17 14h1v1h-1zM17 15h1v1h-1zM17 16h1v1h-1zM17 17h1v1h-1zM17 19h1v1h-1zM17 21h1v1h-1zM18 12h1v1h-1zM18 13h1v1h-1zM18 14h1v1h-1zM18 17h1v1h-1zM18 20h1v1h-1zM18 22h1v1h-1zM19 12h1v1h-1zM19 15h1v1h-1zM19 19h1v1h-1zM19 21h1v1h-1zM20 5h1v1h-1zM20 10h1v1h-1zM20 11h1v1h-1zM20 13h1v1h-1zM20 14h1v1h-1zM20 16h1v1h-1zM20 17h1v1h-1zM20 25h1v1h-1zM21 6h1v1h-1zM21 12h1v1h-1zM21 14h1v1h-1zM21 15h1v1h-1zM21 16h1v1h-1zM21 18h1v1h-1zM21 19h1v1h-1zM21 21h1v1h-1zM22 3h1v1h-1zM22 4h1v1h-1zM22 7h1v1h-1zM22 11h1v1h-1zM22 12h1v1h-1zM22 14h1v1h-1zM22 15h1v1h-1zM22 17h1v1h-1zM22 22h1v1h-1zM23 2h1v1h-1zM23 4h1v1h-1zM23 5h1v1h-1zM23 6h1v1h-1zM23 7h1v1h-1zM23 9h1v1h-1zM23 11h1v1h-1zM23 12h1v1h-1zM24 4h1v1h-1zM24 7h1v1h-1zM24 10h1v1h-1zM25 0h1v1h-1zM25 5h1v1h-1zM25 8h1v1h-1zM26 0h1v1h-1zM26 3h1v1h-1zM27 0h1v1h-1zM27 7h1v1h-1zM28 0h1v1h-1z" fill="#33ffcc"/>
<path d="M0 9h1v1h-1zM0 11h1v1h-1zM1 10h1v1h-1zM2 10h1v1h-1zM3 10h1v1h-1zM3 11h1v1h-1zM3 12h1v1h-1zM4 13h1v1h-1zM5 15h1v1h-1zM6 11h1v1h-1zM6 12h1v1h-1zM6 15h1v1h-1zM7 12h1v1h-1zM7 13h1v1h-1zM7 16h1v1h-1zM9 10h1v1h-1zM9 12h1v1h-1zM9 13h1v1h-1zM9 16h1v1h-1zM10 10h1v1h-1zM10 12h1v1h-1zM10 13h1v1h-1zM10 15h1v1h-1zM10 20h1v1h-1zM11 5h1v1h-1zM11 10h1v1h-1zM11 11h1v1h-1zM11 14h1v1h-1zM11 17h1v1h-1zM11 18h1v1h-1zM11 21h1v1h-1zM12 6h1v1h-1zM12 9h1v1h-1zM12 14h1v1h-1zM12 15h1v1h-1zM12 18h1v1h-1zM12 20h1v1h-1zM12 22h1v1h-1zM13 10h1v1h-1zM13 11h1v1h-1zM13 12h1v1h-1zM13 15h1v1h-1zM13 17h1v1h-1zM13 19h1v1h-1zM13 20h1v1h-1zM13 21h1v1h-1zM14 8h1v1h-1zM14 10h1v1h-1zM14 13h1v1h-1zM14 17h1v1h-1zM14 18h1v1h-1zM14 20h1v1h-1zM14 25h1v1h-1zM15 9h1v1h-1zM15 12h1v1h-1zM15 14h1v1h-1zM15 15h1v1h-1zM15 17h1v1h-1zM15 19h1v1h-1zM15 22h1v1h-1zM15 25h1v1h-1zM16 3h1v1h-1zM16 4h1v1h-1zM16 11h1v1h-1zM16 15h1v1h-1zM16 17h1v1h-1zM16 19h1v1h-1zM17 13h1v1h-1zM17 20h1v1h-1zM17 25h1v1h-1zM18 4h1v1h-1zM18 5h1v1h-1zM18 9h1v1h-1zM18 11h1v1h-1zM18 15h1v1h-1zM18 16h1v1h-1zM19 4h1v1h-1zM19 5h1v1h-1zM19 7h1v1h-1zM19 8h1v1h-1zM19 10h1v1h-1zM19 13h1v1h-1zM19 16h1v1h-1zM19 23h1v1h-1zM19 26h1v1h-1zM20 4h1v1h-1zM20 6h1v1h-1zM20 8h1v1h-1zM20 15h1v1h-1zM21 2h1v1h-1zM21 3h1v1h-1zM21 4h1v1h-1zM21 5h1v1h-1zM21 8h1v1h-1zM21 9h1v1h-1zM21 11h1v1h-1zM21 13h1v1h-1zM22 5h1v1h-1zM22 6h1v1h-1zM22 8h1v1h-1zM22 9h1v1h-1zM22 13h1v1h-1zM23 8h1v1h-1zM23 10h1v1h-1zM23 15h1v1h-1zM24 5h1v1h-1zM24 9h1v1h-1z" fill="#4dffb2"/>
<path d="M1 11h1v1h-1zM2 11h1v1h-1zM2 12h1v1h-1zM3 13h1v1h-1zM4 9h1v1h-1zM4 12h1v1h-1zM4 17h1v1h-1zM5 10h1v1h-1zM5 11h1v1h-1zM5 12h1v1h-1zM5 16h1v1h-1zM6 10h1v1h-1zM8 6h1v1h-1zM8 8h1v1h-1zM8 9h1v1h-1zM9 6h1v1h-1zM9 9h1v1h-1zM10 3h1v1h-1zM10 4h1v1h-1zM10 8h1v1h-1zM10 9h1v1h-1zM10 11h1v1h-1zM11 2h1v1h-1zM11 4h1v1h-1zM11 6h1v1h-1zM11 12h1v1h-1zM11 13h1v1h-1zM11 15h1v1h-1zM11 16h1v1h-1zM12 3h1v1h-1zM12 8h1v1h-1zM12 10h1v1h-1zM12 11h1v1h-1zM12 12h1v1h-1zM12 13h1v1h-1zM12 16h1v1h-1zM13 4h1v1h-1zM13 6h1v1h-1zM13 7h1v1h-1zM13 9h1v1h-1zM13 18h1v1h-1zM14 4h1v1h-1zM14 5h1v1h-1zM14 7h1v1h-1zM14 11h1v1h-1zM14 12h1v1h-1zM14 14h1v1h-1zM14 21h1v1h-1zM15 6h1v1h-1zM15 7h1v1h-1zM15 10h1v1h-1zM15 11h1v1h-1zM15 16h1v1h-1zM15 20h1v1h-1zM16 7h1v1h-1zM16 9h1v1h-1zM16 10h1v1h-1zM16 13h1v1h-1zM16 16h1v1h-1zM16 18h1v1h-1zM16 20h1v1h-1zM17 2h1v1h-1zM17 3h1v1h-1zM17 4h1v1h-1zM17 5h1v1h-1zM17 6h1v1h-1zM17 7h1v1h-1zM17 8h1v1h-1zM17 9h1v1h-1zM17 11h1v1h-1zM17 18h1v1h-1zM18 3h1v1h-1zM18 6h1v1h-1zM18 8h1v1h-1zM18 10h1v1h-1zM18 19h1v1h-1zM19 2h1v1h-1zM19 6h1v1h-1zM19 9h1v1h-1zM19 11h1v1h-1zM19 14h1v1h-1zM19 17h1v1h-1zM19 20h1v1h-1zM19 24h1v1h-1zM20 1h1v1h-1zM20 2h1v1h-1zM20 3h1v1h-1zM20 7h1v1h-1zM20 9h1v1h-1zM20 18h1v1h-1zM21 1h1v1h-1zM21 10h1v1h-1zM22 1h1v1h-1zM23 1h1v1h-1zM23 3h1v1h-1zM24 0h1v1h-1z" fill="#66ff99"/>
<path d="M1 9h1v1h-1zM3 8h1v1h-1zM5 5h1v1h-1zM5 7h1v1h-1zM5 13h1v1h-1zM6 5h1v1h-1zM6 6h1v1h-1zM6 7h1v1h-1zM6 13h1v1h-1zM7 3h1v1h-1zM7 4h1v1h-1zM7 7h1v1h-1zM7 8h1v1h-1zM7 9h1v1h-1zM7 10h1v1h-1zM7 11h1v1h-1zM8 5h1v1h-1zM8 7h1v1h-1zM8 10h1v1h-1zM8 11h1v1h-1zM8 12h1v1h-1zM9 2h1v1h-1zM9 5h1v1h-1zM9 7h1v1h-1zM9 8h1v1h-1zM9 11h1v1h-1zM10 5h1v1h-1zM10 6h1v1h-1zM10 7h1v1h-1zM11 3h1v1h-1zM11 7h1v1h-1zM11 8h1v1h-1zM12 2h1v1h-1zM12 4h1v1h-1zM12 7h1v1h-1zM13 2h1v1h-1zM13 5h1v1h-1zM13 8h1v1h-1zM14 2h1v1h-1zM14 3h1v1h-1zM14 6h1v1h-1zM14 15h1v1h-1zM15 2h1v1h-1zM15 3h1v1h-1zM15 4h1v1h-1zM15 5h1v1h-1zM15 13h1v1h-1zM16 2h1v1h-1zM16 5h1v1h-1zM16 6h1v1h-1zM16 14h1v1h-1zM17 12h1v1h-1zM18 2h1v1h-1zM18 7h1v1h-1zM18 18h1v1h-1zM19 1h1v1h-1zM19 3h1v1h-1zM20 12h1v1h-1zM21 7h1v1h-1zM22 2h1v1h-1zM23 0h1v1h-1zM23 20h1v1h-1zM24 1h1v1h-1z" fill="#80ff80"/>
<path d="M0 6h1v1h-1zM0 7h1v1h-1zM0 8h1v1h-1zM1 7h1v1h-1zM1 8h1v1h-1zM2 8h1v1h-1zM2 9h1v1h-1zM3 6h1v1h-1zM3 9h1v1h-1zM4 6h1v1h-1zM4 7h1v1h-1zM4 10h1v1h-1zM4 11h1v1h-1zM5 8h1v1h-1zM6 8h1v1h-1zM6 9h1v1h-1zM7 6h1v1h-1zM8 2h1v1h-1zM8 3h1v1h-1zM8 4h1v1h-1zM9 3h1v1h-1zM10 1h1v1h-1zM11 9h1v1h-1zM13 3h1v1h-1zM13 14h1v1h-1zM15 8h1v1h-1zM16 8h1v1h-1zM17 1h1v1h-1zM22 0h1v1h-1z" fill="#99ff66"/>
<path d="M1 6h1v1h-1zM2 4h1v1h-1zM2 5h1v1h-1zM2 7h1v1h-1zM3 4h1v1h-1zM3 5h1v1h-1zM4 4h1v1h-1zM4 5h1v1h-1zM4 8h1v1h-1zM5 9h1v1h-1zM6 3h1v1h-1zM6 4h1v1h-1zM7 5h1v1h-1zM8 1h1v1h-1zM9 4h1v1h-1zM10 2h1v1h-1zM11 1h1v1h-1zM12 1h1v1h-1zM13 1h1v1h-1zM14 1h1v1h-1zM14 9h1v1h-1zM15 1h1v1h-1zM16 1h1v1h-1zM18 0h1v1h-1zM18 1h1v1h-1zM21 0h1v1h-1z" fill="#b3ff4c"/>
<path d="M1 3h1v1h-1zM1 4h1v1h-1zM2 2h1v1h-1zM2 6h1v1h-1zM3 3h1v1h-1zM3 7h1v1h-1zM5 4h1v1h-1zM5 6h1v1h-1zM6 2h1v1h-1zM19 0h1v1h-1z" fill="#ccff33"/>
<path d="M0 3h1v1h-1zM0 4h1v1h-1zM1 5h1v1h-1zM3 2h1v1h-1zM4 3h1v1h-1zM5 2h1v1h-1zM5 3h1v1h-1zM6 1h1v1h-1zM7 1h1v1h-1zM7 2h1v1h-1zM9 1h1v1h-1zM12 0h1v1h-1zM20 0h1v1h-1z" fill="#e5ff1a"/>
<path d="M1 2h1v1h-1zM4 1h1v1h-1zM4 2h1v1h-1zM13 0h1v1h-1zM14 0h1v1h-1zM15 0h1v1h-1zM16 0h1v1h-1zM17 0h1v1h-1z" fill="#ffff00"/>
<path d="M0 2h1v1h-1zM2 3h1v1h-1zM3 1h1v1h-1zM5 1h1v1h-1zM10 0h1v1h-1z" fill="#ffe500"/>
<path d="M1 1h1v1h-1zM2 1h1v1h-1zM9 0h1v1h-1zM11 0h1v1h-1z" fill="#ffcc00"/>
<path d="M4 0h1v1h-1zM6 0h1v1h-1zM7 0h1v1h-1zM8 0h1v1h-1z" fill="#ffb300"/>
<path d="M0 1h1v1h-1zM5 0h1v1h-1z" fill="#ff9900"/>
<path d="M3 0h1v1h-1z" fill="#ff8000"/>
<path d="M2 0h1v1h-1z" fill="#ff6600"/>
<path d="M0 0h1v1h-1z" fill="#ff4c00"/>
<path d="M1 0h1v1h-1z" fill="#ff3300"/>
</g>
<rect x="229" y="572" width="85.8" height="85.8" fill="none" stroke="#222" stroke-width="0.6"/>
<text x="253" y="665.4" font-size="6.5" text-anchor="middle" font-weight="bold" fill="#4a4a4a">10</text>
<text x="278.5" y="665.4" font-size="6.5" text-anchor="middle" font-weight="bold" fill="#4a4a4a">20</text>
<text x="304" y="665.4" font-size="6.5" text-anchor="middle" font-weight="bold" fill="#4a4a4a">30</text>
<text x="226.4" y="584.3" font-size="6.5" text-anchor="end" font-weight="bold" fill="#4a4a4a">30</text>
<text x="226.4" y="597.7" font-size="6.5" text-anchor="end" font-weight="bold" fill="#4a4a4a">25</text>
<text x="226.4" y="610" font-size="6.5" text-anchor="end" font-weight="bold" fill="#4a4a4a">20</text>
<text x="226.4" y="622.3" font-size="6.5" text-anchor="end" font-weight="bold" fill="#4a4a4a">15</text>
<text x="226.4" y="634" font-size="6.5" text-anchor="end" font-weight="bold" fill="#4a4a4a">10</text>
<text x="226.4" y="646" font-size="6.5" text-anchor="end" font-weight="bold" fill="#4a4a4a">5</text>
<text x="226.4" y="658.3" font-size="6.5" text-anchor="end" font-weight="bold" fill="#4a4a4a">0</text>
<linearGradient id="g4" x1="0" y1="0" x2="0" y2="1"><stop offset="0%" stop-color="#800000"/><stop offset="12.5%" stop-color="#ff0000"/><stop offset="25%" stop-color="#ff8000"/><stop offset="37.5%" stop-color="#ffff00"/><stop offset="50%" stop-color="#80ff80"/><stop offset="62.5%" stop-color="#00ffff"/><stop offset="75%" stop-color="#0080ff"/><stop offset="87.5%" stop-color="#0000ff"/><stop offset="100%" stop-color="#000080"/></linearGradient>
<rect x="326" y="572" width="14" height="85.8" fill="url(#g4)" stroke="#333" stroke-width="0.8"/>
<text x="342.4" y="660.1" font-size="6.5" text-anchor="start" font-weight="bold" fill="#444">0</text>
<text x="342.4" y="642.4" font-size="6.5" text-anchor="start" font-weight="bold" fill="#444">1</text>
<text x="342.4" y="624.8" font-size="6.5" text-anchor="start" font-weight="bold" fill="#444">2</text>
<text x="342.4" y="607.1" font-size="6.5" text-anchor="start" font-weight="bold" fill="#444">3</text>
<text x="342.4" y="589.5" font-size="6.5" text-anchor="start" font-weight="bold" fill="#444">4</text>
<path d="M326 657.8h1.6M340 657.8h-1.6M326 640.1h1.6M340 640.1h-1.6M326 622.5h1.6M340 622.5h-1.6M326 604.8h1.6M340 604.8h-1.6M326 587.2h1.6M340 587.2h-1.6" stroke="#333" stroke-width="0.6"/>
<text x="269.9" y="681.2" font-size="11.8" text-anchor="middle" fill="#000" stroke="#000" stroke-width="0.35">Total deletions</text>
<text x="212.7" y="615.7" font-size="12.1" text-anchor="middle" fill="#000" transform="rotate(-90 212.7 615.7)" stroke="#000" stroke-width="0.35">Total insertions</text>
<rect x="402.4" y="572" width="86.1" height="85.8" fill="#000080"/>
<g transform="translate(402.4 657.8) scale(2.4600 -2.4514)" shape-rendering="crispEdges">
<path d="M21 31h1v1h-1zM24 27h1v1h-1zM29 7h1v1h-1zM32 28h1v1h-1z" fill="#001aff"/>
<path d="M17 30h1v1h-1zM18 29h1v1h-1zM23 29h1v1h-1zM25 31h1v1h-1zM30 3h1v1h-1zM30 11h1v1h-1zM31 32h1v1h-1zM32 22h1v1h-1z" fill="#0033ff"/>
<path d="M21 30h1v1h-1zM24 28h1v1h-1zM30 5h1v1h-1zM30 9h1v1h-1zM32 18h1v1h-1zM34 17h1v1h-1zM34 23h1v1h-1z" fill="#004dff"/>
<path d="M25 21h1v1h-1zM26 22h1v1h-1zM27 15h1v1h-1zM27 26h1v1h-1zM28 32h1v1h-1zM31 5h1v1h-1zM33 0h1v1h-1zM34 15h1v1h-1z" fill="#0066ff"/>
<path d="M0 22h1v1h-1zM20 33h1v1h-1zM24 23h1v1h-1zM25 22h1v1h-1zM26 20h1v1h-1zM27 11h1v1h-1zM27 23h1v1h-1zM28 11h1v1h-1zM28 25h1v1h-1zM29 6h1v1h-1zM29 20h1v1h-1zM29 25h1v1h-1zM30 2h1v1h-1zM31 13h1v1h-1zM34 26h1v1h-1zM34 30h1v1h-1z" fill="#0080ff"/>
<path d="M17 26h1v1h-1zM24 24h1v1h-1zM24 33h1v1h-1zM25 20h1v1h-1zM26 18h1v1h-1zM26 19h1v1h-1zM27 12h1v1h-1zM27 13h1v1h-1zM27 14h1v1h-1zM28 7h1v1h-1zM28 8h1v1h-1zM28 12h1v1h-1zM28 18h1v1h-1zM29 4h1v1h-1zM29 12h1v1h-1zM29 22h1v1h-1zM30 4h1v1h-1zM31 14h1v1h-1zM31 15h1v1h-1zM31 22h1v1h-1zM31 31h1v1h-1zM32 24h1v1h-1zM32 26h1v1h-1zM34 3h1v1h-1zM34 27h1v1h-1zM34 28h1v1h-1z" fill="#0099ff"/>
<path d="M13 18h1v1h-1zM23 25h1v1h-1zM23 27h1v1h-1zM25 16h1v1h-1zM25 18h1v1h-1zM25 26h1v1h-1zM26 13h1v1h-1zM26 15h1v1h-1zM26 16h1v1h-1zM26 17h1v1h-1zM26 21h1v1h-1zM27 18h1v1h-1zM28 6h1v1h-1zM28 9h1v1h-1zM29 1h1v1h-1zM29 3h1v1h-1zM29 5h1v1h-1zM29 18h1v1h-1zM30 0h1v1h-1zM30 1h1v1h-1zM30 26h1v1h-1zM32 8h1v1h-1z" fill="#00b2ff"/>
<path d="M2 14h1v1h-1zM7 20h1v1h-1zM9 20h1v1h-1zM11 24h1v1h-1zM21 26h1v1h-1zM22 25h1v1h-1zM23 23h1v1h-1zM24 18h1v1h-1zM25 15h1v1h-1zM25 17h1v1h-1zM26 12h1v1h-1zM26 14h1v1h-1zM28 10h1v1h-1zM29 2h1v1h-1z" fill="#00ccff"/>
<path d="M4 18h1v1h-1zM6 17h1v1h-1zM6 20h1v1h-1zM16 27h1v1h-1zM22 24h1v1h-1zM23 16h1v1h-1zM23 17h1v1h-1zM23 19h1v1h-1zM23 21h1v1h-1zM23 22h1v1h-1zM24 17h1v1h-1zM24 19h1v1h-1zM25 13h1v1h-1zM26 7h1v1h-1zM26 8h1v1h-1zM27 6h1v1h-1zM27 7h1v1h-1zM27 9h1v1h-1zM27 10h1v1h-1zM28 0h1v1h-1zM28 1h1v1h-1zM28 3h1v1h-1zM28 5h1v1h-1z" fill="#00e5ff"/>
<path d="M7 21h1v1h-1zM9 19h1v1h-1zM11 22h1v1h-1zM12 25h1v1h-1zM19 26h1v1h-1zM20 23h1v1h-1zM20 24h1v1h-1zM21 24h1v1h-1zM22 22h1v1h-1zM22 23h1v1h-1zM23 18h1v1h-1zM23 20h1v1h-1zM24 12h1v1h-1zM24 14h1v1h-1zM24 16h1v1h-1zM24 22h1v1h-1zM25 4h1v1h-1zM25 10h1v1h-1zM25 12h1v1h-1zM25 14h1v1h-1zM26 9h1v1h-1zM26 10h1v1h-1zM26 11h1v1h-1zM27 0h1v1h-1zM27 1h1v1h-1zM27 2h1v1h-1zM27 3h1v1h-1zM27 4h1v1h-1zM27 5h1v1h-1zM27 8h1v1h-1zM28 2h1v1h-1zM28 4h1v1h-1zM29 0h1v1h-1z" fill="#00ffff"/>
<path d="M1 15h1v1h-1zM11 25h1v1h-1zM17 25h1v1h-1zM19 27h1v1h-1zM21 20h1v1h-1zM21 22h1v1h-1zM22 16h1v1h-1zM22 19h1v1h-1zM22 20h1v1h-1zM22 21h1v1h-1zM23 13h1v1h-1zM23 14h1v1h-1zM24 15h1v1h-1zM25 3h1v1h-1zM25 9h1v1h-1zM25 11h1v1h-1zM26 2h1v1h-1zM26 3h1v1h-1zM26 4h1v1h-1zM26 6h1v1h-1z" fill="#1affe5"/>
<path d="M1 13h1v1h-1zM2 16h1v1h-1zM5 16h1v1h-1zM9 23h1v1h-1zM11 20h1v1h-1zM12 24h1v1h-1zM15 25h1v1h-1zM16 24h1v1h-1zM18 24h1v1h-1zM18 26h1v1h-1zM19 24h1v1h-1zM19 25h1v1h-1zM20 21h1v1h-1zM20 22h1v1h-1zM21 21h1v1h-1zM22 12h1v1h-1zM22 15h1v1h-1zM22 17h1v1h-1zM22 18h1v1h-1zM23 10h1v1h-1zM23 15h1v1h-1zM24 6h1v1h-1zM24 8h1v1h-1zM24 9h1v1h-1zM24 13h1v1h-1zM25 1h1v1h-1zM25 8h1v1h-1zM25 19h1v1h-1zM26 0h1v1h-1zM26 1h1v1h-1zM26 5h1v1h-1z" fill="#33ffcc"/>
<path d="M3 15h1v1h-1zM4 16h1v1h-1zM5 18h1v1h-1zM9 21h1v1h-1zM11 21h1v1h-1zM13 23h1v1h-1zM13 24h1v1h-1zM14 26h1v1h-1zM15 23h1v1h-1zM15 26h1v1h-1zM16 25h1v1h-1zM17 24h1v1h-1zM18 21h1v1h-1zM18 23h1v1h-1zM19 19h1v1h-1zM19 21h1v1h-1zM19 22h1v1h-1zM19 23h1v1h-1zM20 17h1v1h-1zM20 20h1v1h-1zM20 25h1v1h-1zM21 15h1v1h-1zM21 18h1v1h-1zM21 19h1v1h-1zM22 13h1v1h-1zM22 14h1v1h-1zM23 2h1v1h-1zM23 3h1v1h-1zM23 5h1v1h-1zM23 6h1v1h-1zM23 8h1v1h-1zM24 2h1v1h-1zM24 3h1v1h-1zM24 5h1v1h-1zM24 7h1v1h-1zM24 11h1v1h-1zM25 0h1v1h-1zM25 2h1v1h-1zM25 5h1v1h-1zM25 6h1v1h-1zM25 7h1v1h-1zM28 14h1v1h-1z" fill="#4dffb2"/>
<path d="M2 13h1v1h-1zM3 14h1v1h-1zM4 15h1v1h-1zM5 17h1v1h-1zM8 18h1v1h-1zM8 21h1v1h-1zM11 19h1v1h-1zM12 23h1v1h-1zM14 22h1v1h-1zM14 23h1v1h-1zM14 24h1v1h-1zM15 17h1v1h-1zM15 20h1v1h-1zM15 21h1v1h-1zM16 21h1v1h-1zM16 22h1v1h-1zM16 23h1v1h-1zM17 22h1v1h-1zM17 23h1v1h-1zM17 27h1v1h-1zM18 17h1v1h-1zM18 20h1v1h-1zM18 22h1v1h-1zM18 27h1v1h-1zM19 17h1v1h-1zM19 20h1v1h-1zM20 13h1v1h-1zM20 16h1v1h-1zM20 18h1v1h-1zM20 19h1v1h-1zM21 12h1v1h-1zM21 13h1v1h-1zM21 14h1v1h-1zM21 16h1v1h-1zM22 3h1v1h-1zM22 4h1v1h-1zM22 7h1v1h-1zM22 9h1v1h-1zM22 10h1v1h-1zM22 11h1v1h-1zM23 4h1v1h-1zM23 7h1v1h-1zM23 9h1v1h-1zM23 11h1v1h-1zM23 12h1v1h-1zM24 0h1v1h-1zM24 1h1v1h-1zM24 4h1v1h-1zM24 10h1v1h-1z" fill="#66ff99"/>
<path d="M0 12h1v1h-1zM0 13h1v1h-1zM3 13h1v1h-1zM4 14h1v1h-1zM5 15h1v1h-1zM6 18h1v1h-1zM7 14h1v1h-1zM7 16h1v1h-1zM7 17h1v1h-1zM8 17h1v1h-1zM8 19h1v1h-1zM9 18h1v1h-1zM10 18h1v1h-1zM10 19h1v1h-1zM12 19h1v1h-1zM12 20h1v1h-1zM12 21h1v1h-1zM12 22h1v1h-1zM14 18h1v1h-1zM14 19h1v1h-1zM14 21h1v1h-1zM16 16h1v1h-1zM16 19h1v1h-1zM17 16h1v1h-1zM17 18h1v1h-1zM17 19h1v1h-1zM17 21h1v1h-1zM18 18h1v1h-1zM18 19h1v1h-1zM19 13h1v1h-1zM19 18h1v1h-1zM20 10h1v1h-1zM20 14h1v1h-1zM20 15h1v1h-1zM21 5h1v1h-1zM21 7h1v1h-1zM21 8h1v1h-1zM21 9h1v1h-1zM21 10h1v1h-1zM21 11h1v1h-1zM21 17h1v1h-1zM22 6h1v1h-1zM22 8h1v1h-1zM23 1h1v1h-1zM24 20h1v1h-1z" fill="#80ff80"/>
<path d="M1 11h1v1h-1zM2 12h1v1h-1zM4 13h1v1h-1zM6 14h1v1h-1zM7 13h1v1h-1zM7 15h1v1h-1zM8 14h1v1h-1zM8 15h1v1h-1zM9 15h1v1h-1zM9 16h1v1h-1zM9 17h1v1h-1zM10 16h1v1h-1zM10 20h1v1h-1zM11 17h1v1h-1zM11 18h1v1h-1zM12 15h1v1h-1zM12 17h1v1h-1zM13 20h1v1h-1zM14 20h1v1h-1zM15 18h1v1h-1zM15 19h1v1h-1zM16 18h1v1h-1zM16 20h1v1h-1zM17 14h1v1h-1zM17 20h1v1h-1zM18 12h1v1h-1zM18 13h1v1h-1zM18 14h1v1h-1zM18 15h1v1h-1zM19 7h1v1h-1zM19 9h1v1h-1zM19 11h1v1h-1zM19 12h1v1h-1zM19 14h1v1h-1zM19 15h1v1h-1zM19 16h1v1h-1zM20 3h1v1h-1zM20 5h1v1h-1zM20 7h1v1h-1zM20 8h1v1h-1zM20 9h1v1h-1zM20 11h1v1h-1zM21 4h1v1h-1zM21 6h1v1h-1zM22 2h1v1h-1zM22 5h1v1h-1z" fill="#99ff66"/>
<path d="M1 9h1v1h-1zM2 11h1v1h-1zM3 11h1v1h-1zM3 12h1v1h-1zM4 11h1v1h-1zM5 12h1v1h-1zM5 13h1v1h-1zM5 14h1v1h-1zM6 12h1v1h-1zM6 13h1v1h-1zM7 12h1v1h-1zM8 13h1v1h-1zM9 12h1v1h-1zM10 13h1v1h-1zM10 17h1v1h-1zM11 13h1v1h-1zM11 16h1v1h-1zM12 16h1v1h-1zM12 18h1v1h-1zM13 15h1v1h-1zM13 19h1v1h-1zM14 14h1v1h-1zM14 17h1v1h-1zM15 14h1v1h-1zM15 15h1v1h-1zM16 13h1v1h-1zM16 14h1v1h-1zM16 17h1v1h-1zM17 5h1v1h-1zM17 9h1v1h-1zM17 10h1v1h-1zM17 15h1v1h-1zM17 17h1v1h-1zM18 11h1v1h-1zM18 16h1v1h-1zM19 4h1v1h-1zM19 6h1v1h-1zM19 8h1v1h-1zM19 10h1v1h-1zM20 4h1v1h-1zM20 6h1v1h-1zM20 12h1v1h-1zM21 1h1v1h-1zM21 2h1v1h-1zM23 0h1v1h-1z" fill="#b3ff4c"/>
<path d="M1 7h1v1h-1zM2 8h1v1h-1zM2 9h1v1h-1zM2 10h1v1h-1zM3 9h1v1h-1zM3 10h1v1h-1zM4 6h1v1h-1zM4 10h1v1h-1zM4 12h1v1h-1zM5 8h1v1h-1zM5 11h1v1h-1zM6 10h1v1h-1zM6 11h1v1h-1zM7 11h1v1h-1zM8 11h1v1h-1zM8 12h1v1h-1zM9 11h1v1h-1zM9 13h1v1h-1zM9 14h1v1h-1zM10 9h1v1h-1zM10 10h1v1h-1zM10 14h1v1h-1zM10 15h1v1h-1zM11 10h1v1h-1zM11 11h1v1h-1zM11 12h1v1h-1zM11 14h1v1h-1zM11 15h1v1h-1zM12 9h1v1h-1zM12 11h1v1h-1zM12 12h1v1h-1zM12 14h1v1h-1zM13 10h1v1h-1zM13 13h1v1h-1zM13 16h1v1h-1zM13 17h1v1h-1zM14 13h1v1h-1zM14 15h1v1h-1zM14 16h1v1h-1zM15 6h1v1h-1zM15 8h1v1h-1zM15 9h1v1h-1zM15 12h1v1h-1zM15 13h1v1h-1zM15 16h1v1h-1zM16 3h1v1h-1zM16 11h1v1h-1zM16 12h1v1h-1zM16 15h1v1h-1zM17 4h1v1h-1zM17 7h1v1h-1zM17 11h1v1h-1zM17 12h1v1h-1zM17 13h1v1h-1zM18 3h1v1h-1zM18 5h1v1h-1zM18 6h1v1h-1zM18 8h1v1h-1zM18 9h1v1h-1zM18 10h1v1h-1zM19 3h1v1h-1zM19 5h1v1h-1zM21 3h1v1h-1zM22 1h1v1h-1z" fill="#ccff33"/>
<path d="M0 5h1v1h-1zM0 8h1v1h-1zM3 6h1v1h-1zM3 8h1v1h-1zM4 9h1v1h-1zM5 9h1v1h-1zM5 10h1v1h-1zM6 8h1v1h-1zM6 9h1v1h-1zM7 8h1v1h-1zM7 10h1v1h-1zM8 7h1v1h-1zM8 9h1v1h-1zM8 10h1v1h-1zM9 8h1v1h-1zM9 10h1v1h-1zM10 6h1v1h-1zM10 7h1v1h-1zM10 11h1v1h-1zM10 12h1v1h-1zM11 5h1v1h-1zM11 7h1v1h-1zM12 5h1v1h-1zM12 13h1v1h-1zM13 6h1v1h-1zM13 8h1v1h-1zM13 11h1v1h-1zM13 12h1v1h-1zM13 14h1v1h-1zM14 5h1v1h-1zM14 8h1v1h-1zM14 9h1v1h-1zM14 10h1v1h-1zM14 11h1v1h-1zM14 12h1v1h-1zM15 11h1v1h-1zM16 4h1v1h-1zM16 6h1v1h-1zM16 7h1v1h-1zM16 8h1v1h-1zM17 6h1v1h-1zM17 8h1v1h-1zM18 4h1v1h-1zM18 7h1v1h-1zM19 2h1v1h-1zM20 1h1v1h-1zM20 2h1v1h-1zM21 0h1v1h-1z" fill="#e5ff1a"/>
<path d="M0 7h1v1h-1zM1 8h1v1h-1zM2 6h1v1h-1zM2 7h1v1h-1zM3 5h1v1h-1zM3 7h1v1h-1zM4 4h1v1h-1zM4 7h1v1h-1zM4 8h1v1h-1zM5 4h1v1h-1zM5 7h1v1h-1zM6 6h1v1h-1zM6 7h1v1h-1zM7 5h1v1h-1zM7 9h1v1h-1zM8 4h1v1h-1zM8 8h1v1h-1zM9 6h1v1h-1zM9 9h1v1h-1zM10 3h1v1h-1zM10 4h1v1h-1zM10 8h1v1h-1zM11 6h1v1h-1zM11 9h1v1h-1zM12 4h1v1h-1zM12 6h1v1h-1zM12 7h1v1h-1zM12 8h1v1h-1zM12 10h1v1h-1zM13 7h1v1h-1zM14 4h1v1h-1zM14 6h1v1h-1zM14 7h1v1h-1zM15 4h1v1h-1zM15 5h1v1h-1zM15 7h1v1h-1zM15 10h1v1h-1zM16 2h1v1h-1zM16 5h1v1h-1zM16 9h1v1h-1zM16 10h1v1h-1zM18 1h1v1h-1zM19 1h1v1h-1zM22 0h1v1h-1z" fill="#ffff00"/>
<path d="M1 4h1v1h-1zM1 6h1v1h-1zM2 5h1v1h-1zM3 3h1v1h-1zM5 3h1v1h-1zM5 5h1v1h-1zM5 6h1v1h-1zM6 4h1v1h-1zM6 5h1v1h-1zM7 3h1v1h-1zM7 4h1v1h-1zM7 6h1v1h-1zM7 7h1v1h-1zM8 3h1v1h-1zM8 5h1v1h-1zM8 6h1v1h-1zM9 3h1v1h-1zM9 4h1v1h-1zM9 5h1v1h-1zM9 7h1v1h-1zM10 5h1v1h-1zM11 3h1v1h-1zM11 4h1v1h-1zM11 8h1v1h-1zM12 2h1v1h-1zM12 3h1v1h-1zM13 3h1v1h-1zM13 4h1v1h-1zM13 5h1v1h-1zM13 9h1v1h-1zM15 2h1v1h-1zM15 3h1v1h-1zM17 3h1v1h-1zM18 2h1v1h-1zM20 0h1v1h-1z" fill="#ffe500"/>
<path d="M0 4h1v1h-1zM0 6h1v1h-1zM1 3h1v1h-1zM2 4h1v1h-1zM3 4h1v1h-1zM4 3h1v1h-1zM4 5h1v1h-1zM5 2h1v1h-1zM6 15h1v1h-1zM8 2h1v1h-1zM9 2h1v1h-1zM11 2h1v1h-1zM14 2h1v1h-1zM14 3h1v1h-1zM17 2h1v1h-1z" fill="#ffcc00"/>
<path d="M0 3h1v1h-1zM1 5h1v1h-1zM2 3h1v1h-1zM6 3h1v1h-1zM7 2h1v1h-1zM7 19h1v1h-1zM10 2h1v1h-1zM13 1h1v1h-1zM13 2h1v1h-1zM17 1h1v1h-1z" fill="#ffb300"/>
<path d="M1 2h1v1h-1zM3 2h1v1h-1zM4 2h1v1h-1zM6 2h1v1h-1zM7 1h1v1h-1zM9 1h1v1h-1zM10 1h1v1h-1zM11 1h1v1h-1zM14 1h1v1h-1zM15 1h1v1h-1zM16 1h1v1h-1zM18 0h1v1h-1zM19 0h1v1h-1z" fill="#ff9900"/>
<path d="M0 11h1v1h-1zM1 12h1v1h-1zM2 1h1v1h-1zM2 2h1v1h-1zM4 1h1v1h-1zM6 1h1v1h-1zM8 1h1v1h-1zM12 1h1v1h-1z" fill="#ff8000"/>
<path d="M0 1h1v1h-1zM1 1h1v1h-1zM3 1h1v1h-1zM4 17h1v1h-1zM5 1h1v1h-1zM8 20h1v1h-1z" fill="#ff6600"/>
<path d="M10 0h1v1h-1zM13 0h1v1h-1zM15 0h1v1h-1zM16 0h1v1h-1zM17 0h1v1h-1z" fill="#ff4c00"/>
<path d="M6 0h1v1h-1zM6 16h1v1h-1zM7 0h1v1h-1zM9 0h1v1h-1zM11 0h1v1h-1z" fill="#ff3300"/>
<path d="M2 0h1v1h-1zM3 0h1v1h-1zM4 0h1v1h-1zM8 0h1v1h-1zM8 16h1v1h-1zM10 21h1v1h-1zM12 0h1v1h-1zM14 0h1v1h-1z" fill="#ff1a00"/>
<path d="M0 0h1v1h-1zM5 0h1v1h-1z" fill="#ff0000"/>
<path d="M1 0h1v1h-1z" fill="#e50000"/>
<path d="M1 10h1v1h-1z" fill="#b30000"/>
</g>
<rect x="402.4" y="572" width="86.1" height="85.8" fill="none" stroke="#222" stroke-width="0.6"/>
<text x="428.3" y="665.4" font-size="6.5" text-anchor="middle" font-weight="bold" fill="#4a4a4a">10</text>
<text x="453.8" y="665.4" font-size="6.5" text-anchor="middle" font-weight="bold" fill="#4a4a4a">20</text>
<text x="480" y="665.4" font-size="6.5" text-anchor="middle" font-weight="bold" fill="#4a4a4a">30</text>
<text x="399.8" y="582.3" font-size="6.5" text-anchor="end" font-weight="bold" fill="#4a4a4a">30</text>
<text x="399.8" y="594.6" font-size="6.5" text-anchor="end" font-weight="bold" fill="#4a4a4a">25</text>
<text x="399.8" y="606.9" font-size="6.5" text-anchor="end" font-weight="bold" fill="#4a4a4a">20</text>
<text x="399.8" y="619.8" font-size="6.5" text-anchor="end" font-weight="bold" fill="#4a4a4a">15</text>
<text x="399.8" y="632.3" font-size="6.5" text-anchor="end" font-weight="bold" fill="#4a4a4a">10</text>
<text x="399.8" y="645.3" font-size="6.5" text-anchor="end" font-weight="bold" fill="#4a4a4a">5</text>
<text x="399.8" y="657.7" font-size="6.5" text-anchor="end" font-weight="bold" fill="#4a4a4a">0</text>
<linearGradient id="g5" x1="0" y1="0" x2="0" y2="1"><stop offset="0%" stop-color="#800000"/><stop offset="12.5%" stop-color="#ff0000"/><stop offset="25%" stop-color="#ff8000"/><stop offset="37.5%" stop-color="#ffff00"/><stop offset="50%" stop-color="#80ff80"/><stop offset="62.5%" stop-color="#00ffff"/><stop offset="75%" stop-color="#0080ff"/><stop offset="87.5%" stop-color="#0000ff"/><stop offset="100%" stop-color="#000080"/></linearGradient>
<rect x="500.2" y="572" width="13" height="85.8" fill="url(#g5)" stroke="#333" stroke-width="0.8"/>
<text x="515.6" y="660.1" font-size="6.5" text-anchor="start" font-weight="bold" fill="#444">0</text>
<text x="515.6" y="643.3" font-size="6.5" text-anchor="start" font-weight="bold" fill="#444">1</text>
<text x="515.6" y="626.6" font-size="6.5" text-anchor="start" font-weight="bold" fill="#444">2</text>
<text x="515.6" y="609.8" font-size="6.5" text-anchor="start" font-weight="bold" fill="#444">3</text>
<text x="515.6" y="593.1" font-size="6.5" text-anchor="start" font-weight="bold" fill="#444">4</text>
<text x="515.6" y="576.3" font-size="6.5" text-anchor="start" font-weight="bold" fill="#444">5</text>
<path d="M500.2 657.8h1.6M513.2 657.8h-1.6M500.2 641h1.6M513.2 641h-1.6M500.2 624.3h1.6M513.2 624.3h-1.6M500.2 607.5h1.6M513.2 607.5h-1.6M500.2 590.8h1.6M513.2 590.8h-1.6M500.2 574h1.6M513.2 574h-1.6" stroke="#333" stroke-width="0.6"/>
<text x="443.4" y="681.2" font-size="11.8" text-anchor="middle" fill="#000" stroke="#000" stroke-width="0.35">Total deletions</text>
<text x="386.1" y="615.7" font-size="12.1" text-anchor="middle" fill="#000" transform="rotate(-90 386.1 615.7)" stroke="#000" stroke-width="0.35">Total insertions</text>
</svg>
</body></html>
